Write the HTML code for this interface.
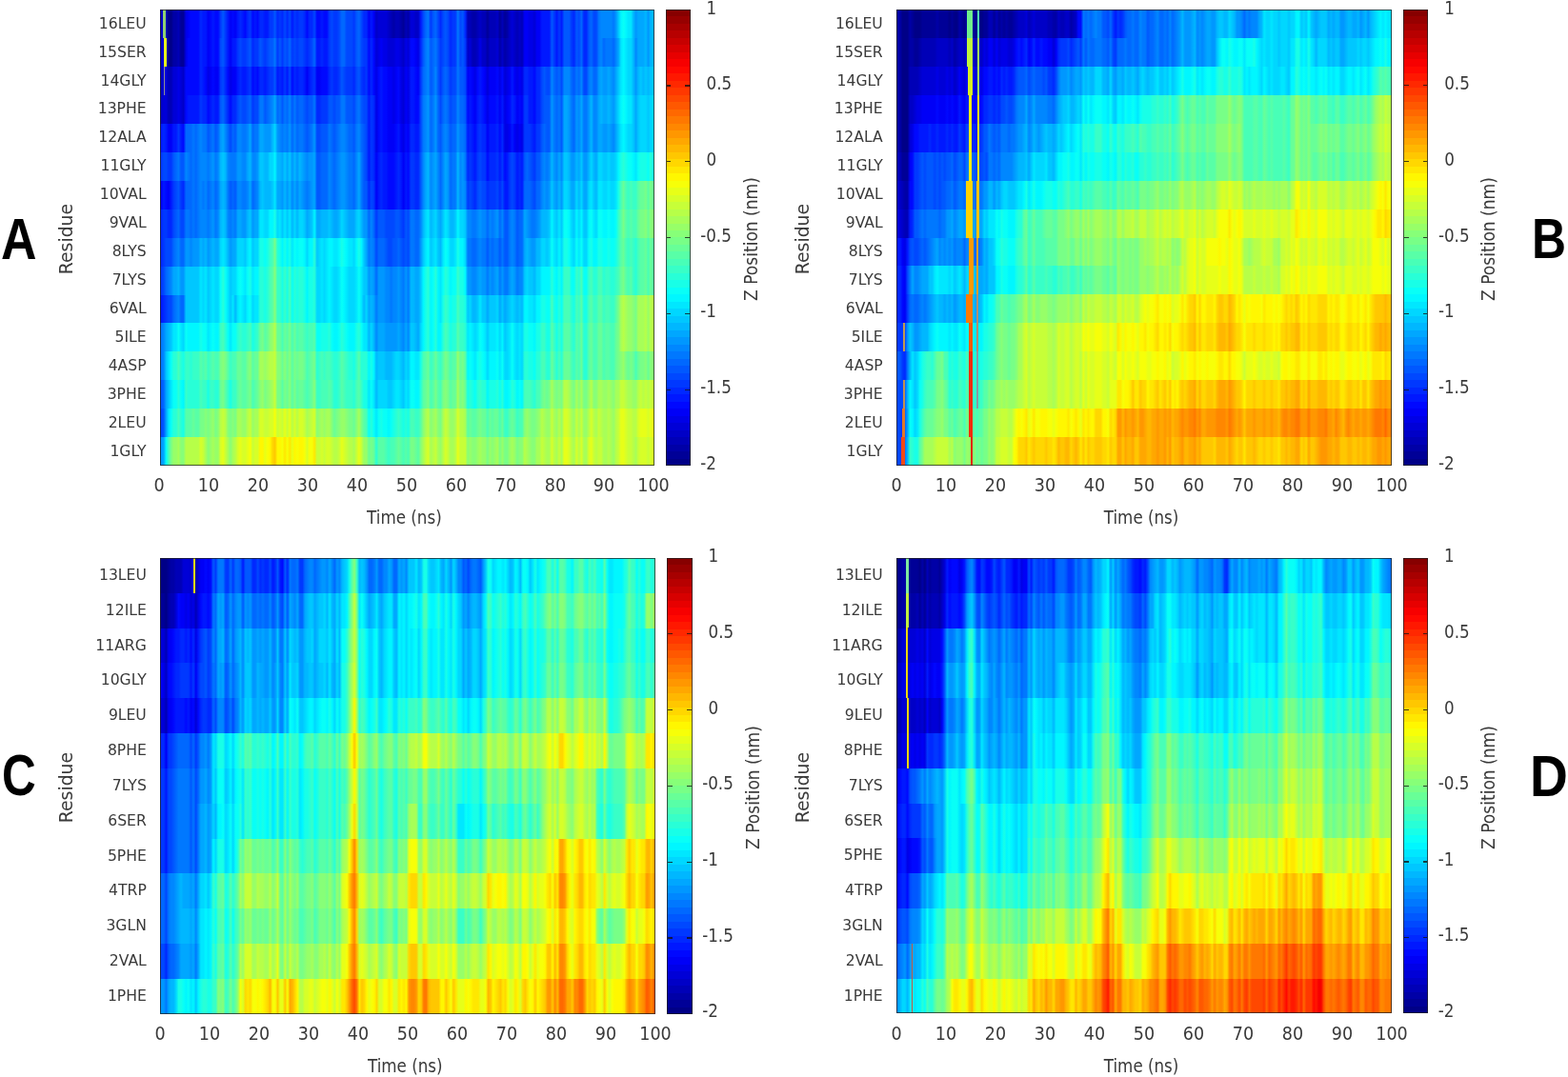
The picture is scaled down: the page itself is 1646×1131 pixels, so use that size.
<!DOCTYPE html>
<html lang="en"><head><meta charset="utf-8"><title>Z position heatmaps</title>
<style>
html,body{margin:0;padding:0;background:#fff}
body{width:1646px;height:1131px;position:relative;overflow:hidden;font-family:"DejaVu Sans Condensed","DejaVu Sans","Liberation Sans",sans-serif;color:#3a3a3a}
.pl{position:absolute;overflow:hidden;background:#08f}
.r{position:absolute;left:0;width:100%}
.ln{position:absolute}
.bd{position:absolute;left:0;top:0;right:0;bottom:0;border:1px solid rgba(30,30,30,.75);box-sizing:border-box}
.yl{position:absolute;width:100px;height:20px;line-height:20px;text-align:right;font-family:"DejaVu Sans","Liberation Sans",sans-serif;font-size:15.6px;white-space:nowrap}
.xl{position:absolute;width:60px;height:24px;line-height:24px;text-align:center;font-size:18.6px;transform:scaleX(1.05)}
.xt{position:absolute;width:120px;height:24px;line-height:24px;text-align:center;font-size:18.6px;white-space:nowrap}
.cl{position:absolute;height:24px;line-height:24px;font-size:18.6px;white-space:nowrap}
.cl b{position:absolute;right:calc(100% + 1.4px);font-weight:normal;transform:scaleX(.6);transform-origin:100% 50%}
.rt{position:absolute;width:0;height:0}
.rt span{position:absolute;left:-100px;top:-12px;width:200px;height:24px;line-height:24px;text-align:center;font-size:19px;white-space:nowrap;transform:rotate(-90deg)}
.rs span{font-size:19.6px;transform:rotate(-90deg) scaleX(1.07)}
.cb{position:absolute;overflow:hidden}
.cg{position:absolute;left:0;top:0;right:0;bottom:0;background:linear-gradient(180deg,#870000 0.000% 1.562%,#970000 1.562% 3.125%,#a70000 3.125% 4.688%,#b70000 4.688% 6.250%,#c70000 6.250% 7.812%,#d70000 7.812% 9.375%,#e70000 9.375% 10.938%,#f70000 10.938% 12.500%,#ff0800 12.500% 14.062%,#ff1800 14.062% 15.625%,#ff2800 15.625% 17.188%,#ff3800 17.188% 18.750%,#ff4800 18.750% 20.312%,#ff5800 20.312% 21.875%,#ff6800 21.875% 23.438%,#ff7800 23.438% 25.000%,#ff8700 25.000% 26.562%,#ff9700 26.562% 28.125%,#ffa700 28.125% 29.688%,#ffb700 29.688% 31.250%,#ffc700 31.250% 32.812%,#ffd700 32.812% 34.375%,#ffe700 34.375% 35.938%,#fff700 35.938% 37.500%,#f7ff08 37.500% 39.062%,#e7ff18 39.062% 40.625%,#d7ff28 40.625% 42.188%,#c7ff38 42.188% 43.750%,#b7ff48 43.750% 45.312%,#a7ff58 45.312% 46.875%,#97ff68 46.875% 48.438%,#87ff78 48.438% 50.000%,#78ff87 50.000% 51.562%,#68ff97 51.562% 53.125%,#58ffa7 53.125% 54.688%,#48ffb7 54.688% 56.250%,#38ffc7 56.250% 57.812%,#28ffd7 57.812% 59.375%,#18ffe7 59.375% 60.938%,#08fff7 60.938% 62.500%,#00f7ff 62.500% 64.062%,#00e7ff 64.062% 65.625%,#00d7ff 65.625% 67.188%,#00c7ff 67.188% 68.750%,#00b7ff 68.750% 70.312%,#00a7ff 70.312% 71.875%,#0097ff 71.875% 73.438%,#0087ff 73.438% 75.000%,#0078ff 75.000% 76.562%,#0068ff 76.562% 78.125%,#0058ff 78.125% 79.688%,#0048ff 79.688% 81.250%,#0038ff 81.250% 82.812%,#0028ff 82.812% 84.375%,#0018ff 84.375% 85.938%,#0008ff 85.938% 87.500%,#0000f7 87.500% 89.062%,#0000e7 89.062% 90.625%,#0000d7 90.625% 92.188%,#0000c7 92.188% 93.750%,#0000b7 93.750% 95.312%,#0000a7 95.312% 96.875%,#000097 96.875% 98.438%,#000087 98.438% 100.000%)}
.cb i{position:absolute;width:4.5px;height:1.2px;background:rgba(20,20,20,.8)}
.lt{position:absolute;font-family:"Liberation Sans","DejaVu Sans",sans-serif;font-weight:bold;color:#000;line-height:1;white-space:nowrap;transform-origin:0 0}
</style></head><body>
<div class="pl" style="left:167.7px;top:10.0px;width:518.9px;height:479.2px">
<div class="r" style="top:0.00px;height:30.25px;background:linear-gradient(90deg,#0000c7 0.25%,#0000d7 0.75%,#0000b7 1.25%,#000087 1.75%,#000087 2.25%,#0000a7 2.75%,#0000a7 3.25%,#0000b7 3.75%,#000097 4.25%,#000097 4.75%,#0000e7 5.25%,#0000f7 5.75%,#0008ff 6.25%,#0008ff 7.75%,#0028ff 8.25%,#0018ff 8.75%,#0018ff 9.25%,#0000f7 9.75%,#0008ff 10.25%,#0018ff 10.75%,#0008ff 11.25%,#0008ff 11.75%,#0038ff 12.25%,#0058ff 12.75%,#0038ff 13.25%,#0018ff 13.75%,#0000f7 14.25%,#0008ff 14.75%,#0000f7 15.25%,#0018ff 15.75%,#0028ff 16.25%,#0018ff 16.75%,#0008ff 17.25%,#0028ff 17.75%,#0038ff 18.25%,#0008ff 18.75%,#0018ff 19.25%,#0008ff 19.75%,#0028ff 20.25%,#0028ff 20.75%,#0018ff 21.25%,#0018ff 21.75%,#0038ff 22.25%,#0038ff 22.75%,#0058ff 23.25%,#0028ff 23.75%,#0038ff 24.25%,#0028ff 24.75%,#0048ff 25.25%,#0028ff 25.75%,#0048ff 26.25%,#0018ff 26.75%,#0038ff 27.25%,#0028ff 27.75%,#0038ff 28.25%,#0038ff 28.75%,#0028ff 29.25%,#0008ff 29.75%,#0028ff 30.25%,#0028ff 30.75%,#0048ff 31.25%,#0008ff 31.75%,#0008ff 32.25%,#0018ff 32.75%,#0008ff 33.25%,#0008ff 33.75%,#0038ff 34.25%,#0048ff 34.75%,#0038ff 35.25%,#0038ff 35.75%,#0048ff 36.25%,#0068ff 36.75%,#0068ff 37.25%,#0048ff 37.75%,#0048ff 38.75%,#0038ff 39.25%,#0058ff 39.75%,#0068ff 40.25%,#0048ff 40.75%,#0028ff 41.25%,#0028ff 41.75%,#0000f7 42.25%,#0018ff 42.75%,#0000f7 43.25%,#0000c7 43.75%,#0000d7 44.25%,#0000d7 45.75%,#0000c7 46.25%,#0000b7 46.75%,#0000a7 47.25%,#0000b7 47.75%,#0000b7 48.25%,#0000a7 48.75%,#000097 49.25%,#0000b7 49.75%,#0000a7 50.25%,#0000d7 50.75%,#0000d7 51.25%,#0000c7 51.75%,#0000c7 52.25%,#0018ff 52.75%,#0048ff 53.25%,#0068ff 53.75%,#0078ff 54.25%,#0038ff 54.75%,#0058ff 55.25%,#0068ff 55.75%,#0048ff 56.25%,#0028ff 56.75%,#0048ff 57.25%,#0058ff 57.75%,#0048ff 58.25%,#0028ff 58.75%,#0038ff 59.25%,#0038ff 59.75%,#0078ff 60.25%,#0048ff 60.75%,#0058ff 61.25%,#0028ff 61.75%,#0000b7 62.25%,#0000b7 62.75%,#0000a7 63.25%,#0000a7 63.75%,#0000b7 64.25%,#0000c7 64.75%,#0000b7 65.25%,#0000b7 65.75%,#000097 66.25%,#0000b7 66.75%,#0000b7 67.75%,#0000c7 68.25%,#000097 68.75%,#0000b7 69.25%,#000097 69.75%,#0000a7 70.25%,#0000c7 70.75%,#0000d7 71.25%,#0000c7 71.75%,#0000b7 72.25%,#0000c7 72.75%,#0000b7 73.25%,#0000f7 73.75%,#0000f7 74.25%,#0000e7 74.75%,#0000e7 75.25%,#0000d7 75.75%,#0000f7 76.25%,#0000f7 76.75%,#0018ff 77.25%,#0018ff 78.75%,#0058ff 79.25%,#0038ff 79.75%,#0018ff 80.25%,#0038ff 80.75%,#0018ff 81.25%,#0058ff 81.75%,#0058ff 82.75%,#0038ff 83.25%,#0028ff 83.75%,#0058ff 84.25%,#0048ff 84.75%,#0068ff 85.25%,#0028ff 85.75%,#0028ff 86.25%,#0058ff 86.75%,#0068ff 87.25%,#0048ff 87.75%,#0048ff 88.25%,#0078ff 88.75%,#0087ff 89.25%,#0087ff 91.25%,#0078ff 91.75%,#0097ff 92.25%,#00c7ff 92.75%,#00f7ff 93.25%,#08fff7 93.75%,#00f7ff 94.25%,#00e7ff 94.75%,#00e7ff 95.25%,#00b7ff 95.75%,#0097ff 96.25%,#00a7ff 96.75%,#00a7ff 97.75%,#00b7ff 98.25%,#0097ff 98.75%,#00b7ff 99.25%,#00b7ff 99.75%)"></div>
<div class="r" style="top:29.95px;height:30.25px;background:linear-gradient(90deg,#0000c7 0.25%,#0000d7 0.75%,#0000b7 1.25%,#000087 1.75%,#000087 2.25%,#0000a7 2.75%,#0000a7 3.25%,#0000b7 3.75%,#000097 4.25%,#000097 4.75%,#0000e7 5.25%,#0008ff 5.75%,#0008ff 7.75%,#0028ff 8.25%,#0018ff 8.75%,#0018ff 9.25%,#0000f7 9.75%,#0008ff 10.25%,#0018ff 10.75%,#0008ff 11.25%,#0008ff 11.75%,#0048ff 12.25%,#0058ff 12.75%,#0038ff 13.25%,#0018ff 13.75%,#0000f7 14.25%,#0018ff 14.75%,#0018ff 15.25%,#0038ff 15.75%,#0048ff 16.25%,#0038ff 16.75%,#0038ff 17.25%,#0048ff 17.75%,#0058ff 18.25%,#0028ff 18.75%,#0038ff 19.25%,#0038ff 19.75%,#0058ff 20.25%,#0048ff 20.75%,#0038ff 21.25%,#0048ff 21.75%,#0058ff 22.25%,#0058ff 22.75%,#0078ff 23.25%,#0038ff 23.75%,#0058ff 24.25%,#0038ff 24.75%,#0058ff 25.25%,#0048ff 25.75%,#0068ff 26.25%,#0038ff 26.75%,#0048ff 27.25%,#0038ff 27.75%,#0048ff 28.25%,#0048ff 28.75%,#0038ff 29.25%,#0028ff 29.75%,#0038ff 30.25%,#0048ff 30.75%,#0068ff 31.25%,#0018ff 31.75%,#0018ff 32.25%,#0028ff 32.75%,#0018ff 33.25%,#0018ff 33.75%,#0038ff 34.25%,#0048ff 34.75%,#0038ff 35.25%,#0038ff 35.75%,#0048ff 36.25%,#0068ff 36.75%,#0068ff 37.25%,#0048ff 37.75%,#0048ff 38.75%,#0038ff 39.25%,#0058ff 39.75%,#0068ff 40.25%,#0048ff 40.75%,#0038ff 41.25%,#0038ff 41.75%,#0008ff 42.25%,#0028ff 42.75%,#0008ff 43.25%,#0000d7 43.75%,#0000e7 44.25%,#0000f7 44.75%,#0000e7 45.25%,#0000e7 45.75%,#0000d7 46.25%,#0000d7 47.25%,#0000e7 47.75%,#0000e7 48.25%,#0000d7 48.75%,#0000c7 49.25%,#0000e7 49.75%,#0000d7 50.25%,#0008ff 50.75%,#0008ff 51.25%,#0000f7 51.75%,#0000e7 52.25%,#0028ff 52.75%,#0058ff 53.25%,#0078ff 53.75%,#0087ff 54.25%,#0058ff 54.75%,#0068ff 55.25%,#0078ff 55.75%,#0058ff 56.25%,#0038ff 56.75%,#0048ff 57.25%,#0058ff 57.75%,#0048ff 58.25%,#0028ff 58.75%,#0038ff 59.25%,#0038ff 59.75%,#0078ff 60.25%,#0048ff 60.75%,#0058ff 61.25%,#0038ff 61.75%,#0000c7 62.25%,#0000d7 62.75%,#0000b7 63.25%,#0000b7 63.75%,#0000c7 64.25%,#0000e7 64.75%,#0000c7 65.25%,#0000c7 65.75%,#0000a7 66.25%,#0000c7 66.75%,#0000c7 67.75%,#0000d7 68.25%,#0000a7 68.75%,#0000c7 69.25%,#0000a7 69.75%,#0000b7 70.25%,#0000c7 70.75%,#0000d7 71.25%,#0000c7 71.75%,#0000b7 72.25%,#0000c7 72.75%,#0000b7 73.25%,#0000f7 73.75%,#0000f7 74.25%,#0000e7 74.75%,#0000e7 75.25%,#0000d7 75.75%,#0000f7 76.25%,#0000f7 76.75%,#0018ff 77.25%,#0018ff 78.75%,#0058ff 79.25%,#0038ff 79.75%,#0018ff 80.25%,#0038ff 80.75%,#0018ff 81.25%,#0058ff 81.75%,#0058ff 82.75%,#0038ff 83.25%,#0028ff 83.75%,#0058ff 84.25%,#0048ff 84.75%,#0068ff 85.25%,#0028ff 85.75%,#0028ff 86.25%,#0058ff 86.75%,#0068ff 87.25%,#0048ff 87.75%,#0048ff 88.25%,#0078ff 88.75%,#0087ff 89.25%,#0068ff 89.75%,#0078ff 90.25%,#0078ff 91.25%,#0068ff 91.75%,#0087ff 92.25%,#00a7ff 92.75%,#00e7ff 93.25%,#00f7ff 93.75%,#00e7ff 94.25%,#00d7ff 94.75%,#00d7ff 95.25%,#00b7ff 95.75%,#0087ff 96.25%,#00a7ff 96.75%,#00a7ff 97.75%,#00b7ff 98.25%,#0097ff 98.75%,#00b7ff 99.25%,#00b7ff 99.75%)"></div>
<div class="r" style="top:59.90px;height:30.25px;background:linear-gradient(90deg,#0000c7 0.25%,#0000d7 0.75%,#0000d7 1.25%,#0000b7 1.75%,#0000b7 2.25%,#0000d7 2.75%,#0000d7 3.25%,#0000e7 3.75%,#0000d7 4.25%,#0000c7 4.75%,#0008ff 5.25%,#0008ff 7.75%,#0028ff 8.25%,#0018ff 8.75%,#0008ff 9.25%,#0000e7 9.75%,#0000f7 10.25%,#0008ff 10.75%,#0000f7 11.25%,#0000f7 11.75%,#0038ff 12.25%,#0048ff 12.75%,#0028ff 13.25%,#0008ff 13.75%,#0000e7 14.25%,#0000f7 14.75%,#0000f7 15.25%,#0018ff 15.75%,#0028ff 16.25%,#0018ff 16.75%,#0018ff 17.25%,#0028ff 17.75%,#0038ff 18.25%,#0008ff 18.75%,#0018ff 19.25%,#0008ff 19.75%,#0028ff 20.25%,#0028ff 20.75%,#0018ff 21.25%,#0028ff 21.75%,#0038ff 22.25%,#0038ff 22.75%,#0058ff 23.25%,#0018ff 23.75%,#0028ff 24.25%,#0018ff 24.75%,#0038ff 25.25%,#0018ff 25.75%,#0048ff 26.25%,#0008ff 26.75%,#0028ff 27.25%,#0018ff 27.75%,#0028ff 28.25%,#0028ff 28.75%,#0018ff 29.25%,#0000f7 29.75%,#0018ff 30.25%,#0028ff 30.75%,#0038ff 31.25%,#0000f7 31.75%,#0000f7 32.25%,#0008ff 32.75%,#0008ff 33.75%,#0028ff 34.25%,#0038ff 34.75%,#0028ff 35.25%,#0028ff 35.75%,#0038ff 36.25%,#0058ff 36.75%,#0048ff 37.25%,#0038ff 37.75%,#0038ff 38.75%,#0028ff 39.25%,#0048ff 39.75%,#0058ff 40.25%,#0038ff 40.75%,#0028ff 41.25%,#0038ff 41.75%,#0008ff 42.25%,#0028ff 42.75%,#0008ff 43.25%,#0000e7 43.75%,#0008ff 44.25%,#0018ff 44.75%,#0008ff 45.25%,#0008ff 45.75%,#0000f7 46.25%,#0000f7 46.75%,#0000e7 47.25%,#0000f7 47.75%,#0008ff 48.25%,#0000e7 48.75%,#0000d7 49.25%,#0000f7 49.75%,#0000e7 50.25%,#0018ff 50.75%,#0018ff 51.25%,#0008ff 51.75%,#0000f7 52.25%,#0038ff 52.75%,#0068ff 53.25%,#0078ff 53.75%,#0087ff 54.25%,#0058ff 54.75%,#0068ff 55.25%,#0087ff 55.75%,#0058ff 56.25%,#0038ff 56.75%,#0058ff 57.25%,#0068ff 57.75%,#0058ff 58.25%,#0038ff 58.75%,#0048ff 59.25%,#0048ff 59.75%,#0078ff 60.25%,#0058ff 60.75%,#0058ff 61.25%,#0048ff 61.75%,#0000f7 62.25%,#0008ff 62.75%,#0000f7 63.25%,#0000e7 63.75%,#0008ff 64.25%,#0018ff 64.75%,#0008ff 65.25%,#0000f7 65.75%,#0000d7 66.25%,#0000f7 66.75%,#0000f7 67.75%,#0008ff 68.25%,#0000e7 68.75%,#0008ff 69.25%,#0000d7 69.75%,#0000e7 70.25%,#0000f7 70.75%,#0018ff 71.25%,#0000f7 71.75%,#0000e7 72.25%,#0000f7 72.75%,#0000e7 73.25%,#0028ff 73.75%,#0028ff 74.25%,#0018ff 74.75%,#0018ff 75.25%,#0008ff 75.75%,#0028ff 76.25%,#0028ff 76.75%,#0048ff 77.25%,#0058ff 77.75%,#0048ff 78.25%,#0048ff 78.75%,#0087ff 79.25%,#0068ff 79.75%,#0058ff 80.25%,#0068ff 80.75%,#0048ff 81.25%,#0087ff 81.75%,#0087ff 82.75%,#0068ff 83.25%,#0058ff 83.75%,#0078ff 84.25%,#0068ff 84.75%,#0087ff 85.25%,#0048ff 85.75%,#0048ff 86.25%,#0078ff 86.75%,#0087ff 87.25%,#0068ff 87.75%,#0068ff 88.25%,#0097ff 88.75%,#00a7ff 89.25%,#0097ff 89.75%,#0097ff 90.25%,#00a7ff 90.75%,#0097ff 91.25%,#0087ff 91.75%,#00a7ff 92.25%,#00c7ff 92.75%,#00e7ff 93.25%,#00f7ff 93.75%,#00e7ff 94.25%,#00d7ff 94.75%,#00d7ff 95.25%,#00b7ff 95.75%,#0097ff 96.25%,#00b7ff 96.75%,#00c7ff 97.25%,#00b7ff 97.75%,#00c7ff 98.25%,#00b7ff 98.75%,#00c7ff 99.25%,#00c7ff 99.75%)"></div>
<div class="r" style="top:89.85px;height:30.25px;background:linear-gradient(90deg,#0000c7 0.25%,#0000d7 0.75%,#0000d7 1.25%,#0000b7 1.75%,#0000b7 2.25%,#0000d7 2.75%,#0000d7 3.25%,#0000e7 3.75%,#0000d7 4.25%,#0000c7 4.75%,#0008ff 5.25%,#0018ff 5.75%,#0018ff 7.75%,#0038ff 8.25%,#0028ff 8.75%,#0028ff 9.25%,#0008ff 9.75%,#0018ff 10.25%,#0028ff 10.75%,#0018ff 11.25%,#0018ff 11.75%,#0058ff 12.25%,#0068ff 12.75%,#0048ff 13.25%,#0028ff 13.75%,#0008ff 14.25%,#0028ff 14.75%,#0028ff 15.25%,#0048ff 15.75%,#0058ff 16.25%,#0048ff 16.75%,#0048ff 17.25%,#0058ff 17.75%,#0068ff 18.25%,#0038ff 18.75%,#0048ff 19.25%,#0048ff 19.75%,#0078ff 20.25%,#0078ff 20.75%,#0058ff 21.25%,#0068ff 21.75%,#0078ff 22.25%,#0087ff 22.75%,#00a7ff 23.25%,#0068ff 23.75%,#0078ff 24.25%,#0058ff 24.75%,#0078ff 25.25%,#0068ff 25.75%,#0087ff 26.25%,#0058ff 26.75%,#0078ff 27.25%,#0058ff 27.75%,#0068ff 28.25%,#0068ff 28.75%,#0058ff 29.25%,#0048ff 29.75%,#0058ff 30.25%,#0058ff 30.75%,#0078ff 31.25%,#0028ff 31.75%,#0028ff 32.25%,#0038ff 32.75%,#0038ff 33.75%,#0058ff 34.25%,#0058ff 34.75%,#0048ff 35.25%,#0058ff 35.75%,#0058ff 36.25%,#0078ff 36.75%,#0078ff 37.25%,#0058ff 37.75%,#0058ff 38.75%,#0048ff 39.25%,#0068ff 39.75%,#0078ff 40.25%,#0058ff 40.75%,#0048ff 41.25%,#0048ff 41.75%,#0018ff 42.25%,#0038ff 42.75%,#0028ff 43.25%,#0000e7 43.75%,#0008ff 44.25%,#0018ff 44.75%,#0008ff 45.25%,#0008ff 45.75%,#0000f7 46.25%,#0000f7 46.75%,#0000e7 47.25%,#0000f7 47.75%,#0008ff 48.25%,#0000e7 48.75%,#0000d7 49.25%,#0000f7 49.75%,#0000e7 50.25%,#0018ff 50.75%,#0018ff 51.25%,#0008ff 51.75%,#0008ff 52.25%,#0048ff 52.75%,#0078ff 53.25%,#0087ff 53.75%,#0097ff 54.25%,#0068ff 54.75%,#0078ff 55.25%,#0097ff 55.75%,#0068ff 56.25%,#0048ff 56.75%,#0068ff 57.25%,#0078ff 57.75%,#0068ff 58.25%,#0048ff 58.75%,#0058ff 59.25%,#0058ff 59.75%,#0087ff 60.25%,#0068ff 60.75%,#0068ff 61.25%,#0058ff 61.75%,#0008ff 62.25%,#0018ff 62.75%,#0008ff 63.25%,#0000f7 63.75%,#0018ff 64.25%,#0028ff 64.75%,#0018ff 65.25%,#0008ff 65.75%,#0000e7 66.25%,#0008ff 66.75%,#0008ff 67.75%,#0018ff 68.25%,#0000f7 68.75%,#0018ff 69.25%,#0000e7 69.75%,#0000f7 70.25%,#0008ff 70.75%,#0028ff 71.25%,#0018ff 71.75%,#0000f7 72.25%,#0008ff 72.75%,#0000f7 73.25%,#0038ff 73.75%,#0038ff 74.25%,#0018ff 74.75%,#0018ff 75.25%,#0008ff 75.75%,#0028ff 76.25%,#0028ff 76.75%,#0048ff 77.25%,#0058ff 77.75%,#0058ff 78.75%,#0097ff 79.25%,#0078ff 79.75%,#0068ff 80.25%,#0078ff 80.75%,#0058ff 81.25%,#00a7ff 81.75%,#00a7ff 82.25%,#0097ff 82.75%,#0078ff 83.25%,#0068ff 83.75%,#0097ff 84.25%,#0087ff 84.75%,#00a7ff 85.25%,#0078ff 85.75%,#0078ff 86.25%,#0097ff 86.75%,#00b7ff 87.25%,#0087ff 87.75%,#0087ff 88.25%,#00a7ff 88.75%,#00b7ff 89.25%,#00a7ff 89.75%,#00a7ff 90.25%,#00b7ff 90.75%,#00a7ff 91.25%,#0097ff 91.75%,#00b7ff 92.25%,#00d7ff 92.75%,#00f7ff 93.25%,#08fff7 93.75%,#00f7ff 94.25%,#00e7ff 94.75%,#00e7ff 95.25%,#00c7ff 95.75%,#00a7ff 96.25%,#00c7ff 96.75%,#00d7ff 97.25%,#00d7ff 98.25%,#00c7ff 98.75%,#00d7ff 99.25%,#00d7ff 99.75%)"></div>
<div class="r" style="top:119.80px;height:30.25px;background:linear-gradient(90deg,#0018ff 0.25%,#0028ff 0.75%,#0018ff 1.25%,#0000f7 1.75%,#0000f7 2.25%,#0018ff 2.75%,#0018ff 3.25%,#0038ff 3.75%,#0018ff 4.25%,#0008ff 4.75%,#0068ff 5.25%,#0068ff 6.25%,#0078ff 6.75%,#0068ff 7.25%,#0078ff 7.75%,#0087ff 8.25%,#0078ff 8.75%,#0078ff 9.25%,#0058ff 9.75%,#0068ff 10.25%,#0078ff 10.75%,#0058ff 11.25%,#0068ff 11.75%,#0097ff 12.25%,#00a7ff 12.75%,#0087ff 13.25%,#0068ff 13.75%,#0048ff 14.25%,#0068ff 14.75%,#0058ff 15.25%,#0087ff 15.75%,#0087ff 16.25%,#0078ff 16.75%,#0078ff 17.25%,#0087ff 17.75%,#00a7ff 18.25%,#0068ff 18.75%,#0078ff 19.25%,#0078ff 19.75%,#00a7ff 20.25%,#00a7ff 20.75%,#0097ff 21.25%,#0097ff 22.25%,#00b7ff 22.75%,#00d7ff 23.25%,#0097ff 23.75%,#0087ff 24.25%,#0078ff 24.75%,#0087ff 25.25%,#0078ff 25.75%,#0097ff 26.25%,#0068ff 26.75%,#0087ff 27.25%,#0068ff 27.75%,#0078ff 28.25%,#0078ff 28.75%,#0068ff 29.25%,#0058ff 29.75%,#0068ff 30.25%,#0078ff 30.75%,#0097ff 31.25%,#0048ff 31.75%,#0048ff 32.25%,#0058ff 32.75%,#0058ff 33.75%,#0078ff 34.25%,#0068ff 34.75%,#0058ff 35.25%,#0068ff 35.75%,#0078ff 36.25%,#0087ff 36.75%,#0087ff 37.25%,#0078ff 37.75%,#0068ff 38.25%,#0068ff 38.75%,#0058ff 39.25%,#0078ff 39.75%,#0087ff 40.25%,#0068ff 40.75%,#0058ff 41.25%,#0048ff 41.75%,#0018ff 42.25%,#0038ff 42.75%,#0028ff 43.25%,#0000e7 43.75%,#0008ff 44.25%,#0018ff 44.75%,#0008ff 45.25%,#0008ff 45.75%,#0000f7 46.25%,#0000f7 47.25%,#0008ff 47.75%,#0018ff 48.25%,#0000f7 48.75%,#0000e7 49.25%,#0008ff 49.75%,#0000f7 50.25%,#0028ff 50.75%,#0028ff 51.25%,#0018ff 51.75%,#0018ff 52.25%,#0048ff 52.75%,#0078ff 53.25%,#0087ff 53.75%,#0097ff 54.25%,#0068ff 54.75%,#0078ff 55.25%,#0097ff 55.75%,#0068ff 56.25%,#0058ff 56.75%,#0078ff 57.25%,#0087ff 57.75%,#0078ff 58.25%,#0058ff 58.75%,#0068ff 59.25%,#0068ff 59.75%,#0097ff 60.25%,#0078ff 60.75%,#0078ff 61.25%,#0068ff 61.75%,#0018ff 62.25%,#0028ff 62.75%,#0018ff 63.25%,#0008ff 63.75%,#0028ff 64.25%,#0038ff 64.75%,#0028ff 65.25%,#0028ff 65.75%,#0000f7 66.25%,#0018ff 66.75%,#0018ff 67.75%,#0028ff 68.25%,#0008ff 68.75%,#0028ff 69.25%,#0000e7 69.75%,#0000e7 70.25%,#0000f7 70.75%,#0018ff 71.25%,#0000f7 71.75%,#0000e7 72.25%,#0000f7 72.75%,#0000e7 73.25%,#0038ff 73.75%,#0038ff 74.75%,#0028ff 75.25%,#0018ff 75.75%,#0038ff 76.25%,#0038ff 76.75%,#0058ff 77.25%,#0068ff 77.75%,#0058ff 78.25%,#0058ff 78.75%,#0097ff 79.25%,#0078ff 79.75%,#0068ff 80.25%,#0078ff 80.75%,#0058ff 81.25%,#00a7ff 81.75%,#00a7ff 82.25%,#0097ff 82.75%,#0078ff 83.25%,#0068ff 83.75%,#0097ff 84.25%,#0087ff 84.75%,#00a7ff 85.25%,#0078ff 85.75%,#0078ff 86.25%,#0097ff 86.75%,#00b7ff 87.25%,#0087ff 87.75%,#0087ff 88.25%,#00a7ff 88.75%,#00a7ff 89.25%,#0097ff 89.75%,#0097ff 90.25%,#00a7ff 90.75%,#0097ff 91.25%,#0087ff 91.75%,#00a7ff 92.25%,#00c7ff 92.75%,#00e7ff 93.25%,#00f7ff 93.75%,#00e7ff 94.25%,#00d7ff 94.75%,#00d7ff 95.25%,#00c7ff 95.75%,#00a7ff 96.25%,#00c7ff 96.75%,#00d7ff 97.25%,#00d7ff 98.25%,#00c7ff 98.75%,#00d7ff 99.25%,#00d7ff 99.75%)"></div>
<div class="r" style="top:149.75px;height:30.25px;background:linear-gradient(90deg,#0038ff 0.25%,#0048ff 0.75%,#0048ff 1.25%,#0038ff 1.75%,#0038ff 2.25%,#0058ff 2.75%,#0068ff 3.25%,#0078ff 3.75%,#0058ff 4.25%,#0058ff 4.75%,#0087ff 5.25%,#0078ff 5.75%,#0068ff 6.25%,#0078ff 6.75%,#0068ff 7.25%,#0078ff 7.75%,#0087ff 8.25%,#0087ff 9.25%,#0078ff 9.75%,#0087ff 10.25%,#0097ff 10.75%,#0078ff 11.25%,#0087ff 11.75%,#00b7ff 12.25%,#00c7ff 12.75%,#00b7ff 13.25%,#0087ff 13.75%,#0078ff 14.25%,#0078ff 15.25%,#0097ff 15.75%,#0097ff 16.25%,#0087ff 16.75%,#0087ff 17.25%,#00a7ff 17.75%,#00b7ff 18.25%,#0087ff 18.75%,#0087ff 19.25%,#0097ff 19.75%,#00c7ff 20.25%,#00c7ff 20.75%,#00b7ff 21.25%,#00b7ff 21.75%,#00d7ff 22.25%,#00d7ff 22.75%,#00f7ff 23.25%,#00b7ff 23.75%,#00b7ff 24.25%,#00a7ff 24.75%,#00c7ff 25.25%,#00a7ff 25.75%,#00c7ff 26.25%,#0097ff 26.75%,#00b7ff 27.25%,#0097ff 27.75%,#00b7ff 28.25%,#00a7ff 28.75%,#0097ff 29.25%,#0087ff 29.75%,#0097ff 30.25%,#0097ff 30.75%,#00a7ff 31.25%,#0058ff 31.75%,#0058ff 32.25%,#0068ff 32.75%,#0068ff 33.75%,#0087ff 34.25%,#0078ff 34.75%,#0068ff 35.25%,#0078ff 35.75%,#0087ff 36.25%,#0097ff 36.75%,#0097ff 37.25%,#0087ff 37.75%,#0078ff 38.25%,#0078ff 38.75%,#0068ff 39.25%,#0087ff 39.75%,#00a7ff 40.25%,#0078ff 40.75%,#0058ff 41.25%,#0048ff 41.75%,#0018ff 42.25%,#0038ff 42.75%,#0028ff 43.25%,#0000f7 43.75%,#0018ff 44.25%,#0028ff 44.75%,#0018ff 45.25%,#0018ff 45.75%,#0008ff 46.25%,#0008ff 47.25%,#0018ff 47.75%,#0028ff 48.25%,#0018ff 48.75%,#0000f7 49.25%,#0018ff 49.75%,#0008ff 50.25%,#0038ff 50.75%,#0038ff 51.25%,#0028ff 51.75%,#0028ff 52.25%,#0058ff 52.75%,#0087ff 53.25%,#00a7ff 53.75%,#00b7ff 54.25%,#0087ff 54.75%,#0097ff 55.25%,#00a7ff 55.75%,#0087ff 56.25%,#0068ff 56.75%,#0087ff 57.25%,#00a7ff 57.75%,#0097ff 58.25%,#0068ff 58.75%,#0078ff 59.25%,#0078ff 59.75%,#00b7ff 60.25%,#0087ff 60.75%,#0097ff 61.25%,#0078ff 61.75%,#0028ff 62.25%,#0038ff 62.75%,#0028ff 63.25%,#0018ff 63.75%,#0038ff 64.25%,#0048ff 64.75%,#0038ff 65.25%,#0038ff 65.75%,#0008ff 66.25%,#0028ff 66.75%,#0028ff 67.75%,#0038ff 68.25%,#0018ff 68.75%,#0038ff 69.25%,#0008ff 69.75%,#0018ff 70.25%,#0038ff 70.75%,#0048ff 71.25%,#0038ff 71.75%,#0018ff 72.25%,#0028ff 72.75%,#0018ff 73.25%,#0058ff 73.75%,#0068ff 74.25%,#0058ff 74.75%,#0048ff 75.25%,#0038ff 75.75%,#0058ff 76.25%,#0058ff 76.75%,#0078ff 77.25%,#0087ff 77.75%,#0078ff 78.25%,#0087ff 78.75%,#00b7ff 79.25%,#0097ff 79.75%,#0087ff 80.25%,#00a7ff 80.75%,#0087ff 81.25%,#00c7ff 81.75%,#00c7ff 82.25%,#00b7ff 82.75%,#0097ff 83.25%,#0097ff 83.75%,#00b7ff 84.25%,#00a7ff 84.75%,#00c7ff 85.25%,#0097ff 85.75%,#0097ff 86.25%,#00b7ff 86.75%,#00d7ff 87.25%,#00b7ff 87.75%,#00a7ff 88.25%,#00d7ff 88.75%,#00d7ff 89.25%,#00c7ff 89.75%,#00c7ff 90.25%,#00d7ff 90.75%,#00c7ff 91.25%,#00c7ff 91.75%,#00d7ff 92.25%,#00f7ff 92.75%,#18ffe7 93.25%,#28ffd7 93.75%,#18ffe7 94.25%,#08fff7 94.75%,#08fff7 95.25%,#00f7ff 95.75%,#00e7ff 96.25%,#08fff7 96.75%,#18ffe7 97.25%,#18ffe7 98.25%,#08fff7 98.75%,#28ffd7 99.25%,#18ffe7 99.75%)"></div>
<div class="r" style="top:179.70px;height:30.25px;background:linear-gradient(90deg,#0000f7 0.25%,#0018ff 0.75%,#0008ff 1.25%,#0000f7 1.75%,#0018ff 2.25%,#0038ff 2.75%,#0048ff 3.25%,#0058ff 3.75%,#0038ff 4.25%,#0028ff 4.75%,#0068ff 5.25%,#0068ff 6.25%,#0078ff 6.75%,#0068ff 7.25%,#0078ff 7.75%,#0087ff 8.25%,#0078ff 8.75%,#0087ff 9.25%,#0068ff 9.75%,#0078ff 10.25%,#0087ff 10.75%,#0068ff 11.25%,#0078ff 11.75%,#00a7ff 12.25%,#00b7ff 12.75%,#00a7ff 13.25%,#0078ff 13.75%,#0058ff 14.25%,#0068ff 14.75%,#0058ff 15.25%,#0087ff 15.75%,#0087ff 16.25%,#0078ff 16.75%,#0078ff 17.25%,#0087ff 17.75%,#00a7ff 18.25%,#0068ff 18.75%,#0078ff 19.25%,#0087ff 19.75%,#00b7ff 20.25%,#00c7ff 20.75%,#00b7ff 21.25%,#00b7ff 22.25%,#00c7ff 22.75%,#00e7ff 23.25%,#00a7ff 23.75%,#00a7ff 24.25%,#0097ff 24.75%,#00b7ff 25.25%,#0097ff 25.75%,#00b7ff 26.25%,#0087ff 26.75%,#00a7ff 27.25%,#0087ff 27.75%,#00a7ff 28.25%,#0097ff 28.75%,#0087ff 29.25%,#0078ff 29.75%,#0087ff 30.25%,#0097ff 30.75%,#00a7ff 31.25%,#0058ff 31.75%,#0058ff 32.25%,#0068ff 32.75%,#0068ff 33.75%,#0087ff 34.25%,#0078ff 34.75%,#0068ff 35.25%,#0078ff 35.75%,#0087ff 36.25%,#0097ff 36.75%,#0097ff 37.25%,#0087ff 37.75%,#0078ff 38.25%,#0078ff 38.75%,#0068ff 39.25%,#0087ff 39.75%,#00a7ff 40.25%,#0078ff 40.75%,#0058ff 41.25%,#0058ff 41.75%,#0028ff 42.25%,#0048ff 42.75%,#0038ff 43.25%,#0000f7 43.75%,#0018ff 44.25%,#0028ff 44.75%,#0018ff 45.25%,#0018ff 45.75%,#0008ff 46.25%,#0008ff 47.25%,#0018ff 47.75%,#0028ff 48.25%,#0018ff 48.75%,#0000f7 49.25%,#0018ff 49.75%,#0008ff 50.25%,#0038ff 50.75%,#0038ff 51.25%,#0028ff 51.75%,#0028ff 52.25%,#0058ff 52.75%,#0087ff 53.25%,#00a7ff 53.75%,#00b7ff 54.25%,#0087ff 54.75%,#0097ff 55.25%,#00a7ff 55.75%,#0087ff 56.25%,#0068ff 56.75%,#0087ff 57.25%,#00a7ff 57.75%,#0097ff 58.25%,#0068ff 58.75%,#0078ff 59.25%,#0078ff 59.75%,#00b7ff 60.25%,#0087ff 60.75%,#0097ff 61.25%,#0087ff 61.75%,#0038ff 62.25%,#0048ff 62.75%,#0038ff 63.25%,#0028ff 63.75%,#0048ff 64.25%,#0058ff 64.75%,#0048ff 65.25%,#0048ff 65.75%,#0028ff 66.25%,#0038ff 66.75%,#0038ff 67.75%,#0048ff 68.25%,#0028ff 68.75%,#0048ff 69.25%,#0018ff 69.75%,#0018ff 70.25%,#0038ff 70.75%,#0048ff 71.25%,#0038ff 71.75%,#0018ff 72.25%,#0028ff 72.75%,#0018ff 73.25%,#0068ff 73.75%,#0068ff 74.75%,#0058ff 75.25%,#0048ff 75.75%,#0068ff 76.25%,#0068ff 76.75%,#0087ff 77.25%,#0097ff 77.75%,#0087ff 78.25%,#0097ff 78.75%,#00c7ff 79.25%,#00a7ff 79.75%,#0097ff 80.25%,#00b7ff 80.75%,#0097ff 81.25%,#00d7ff 81.75%,#00d7ff 82.25%,#00c7ff 82.75%,#00a7ff 83.25%,#00a7ff 83.75%,#00d7ff 84.25%,#00b7ff 84.75%,#00d7ff 85.25%,#00a7ff 85.75%,#00a7ff 86.25%,#00d7ff 86.75%,#00e7ff 87.25%,#00c7ff 87.75%,#00b7ff 88.25%,#00e7ff 88.75%,#00e7ff 89.25%,#00d7ff 89.75%,#00d7ff 90.25%,#00e7ff 90.75%,#00d7ff 91.25%,#00d7ff 91.75%,#00e7ff 92.25%,#18ffe7 92.75%,#48ffb7 93.25%,#68ff97 93.75%,#48ffb7 94.25%,#38ffc7 94.75%,#48ffb7 95.25%,#38ffc7 95.75%,#38ffc7 96.25%,#58ffa7 96.75%,#68ff97 97.25%,#68ff97 97.75%,#78ff87 98.25%,#58ffa7 98.75%,#78ff87 99.25%,#68ff97 99.75%)"></div>
<div class="r" style="top:209.65px;height:30.25px;background:linear-gradient(90deg,#0028ff 0.25%,#0038ff 0.75%,#0038ff 1.25%,#0028ff 1.75%,#0028ff 2.25%,#0048ff 2.75%,#0058ff 3.25%,#0068ff 3.75%,#0048ff 4.25%,#0048ff 4.75%,#0078ff 5.25%,#0078ff 5.75%,#0068ff 6.25%,#0078ff 6.75%,#0068ff 7.25%,#0078ff 7.75%,#0087ff 8.25%,#0087ff 9.25%,#0078ff 9.75%,#0087ff 10.25%,#0097ff 10.75%,#0078ff 11.25%,#0087ff 11.75%,#00b7ff 12.25%,#00c7ff 12.75%,#00b7ff 13.25%,#0087ff 13.75%,#0078ff 14.25%,#0087ff 14.75%,#0078ff 15.25%,#00a7ff 15.75%,#00a7ff 16.25%,#0097ff 16.75%,#0097ff 17.25%,#00b7ff 17.75%,#00c7ff 18.25%,#0097ff 18.75%,#00a7ff 19.25%,#00a7ff 19.75%,#00e7ff 20.25%,#00e7ff 20.75%,#00d7ff 21.25%,#00d7ff 21.75%,#00f7ff 22.25%,#00f7ff 22.75%,#18ffe7 23.25%,#00d7ff 23.75%,#00e7ff 24.25%,#00c7ff 24.75%,#00e7ff 25.25%,#00c7ff 25.75%,#00e7ff 26.25%,#00b7ff 26.75%,#00d7ff 27.25%,#00b7ff 27.75%,#00d7ff 28.25%,#00d7ff 28.75%,#00c7ff 29.25%,#00a7ff 29.75%,#00b7ff 30.25%,#00c7ff 30.75%,#00f7ff 31.25%,#00a7ff 31.75%,#00a7ff 32.25%,#00b7ff 32.75%,#00b7ff 33.75%,#00c7ff 34.25%,#00b7ff 34.75%,#00a7ff 35.25%,#00a7ff 35.75%,#00b7ff 36.25%,#00d7ff 36.75%,#00c7ff 37.25%,#00b7ff 37.75%,#00a7ff 38.25%,#00a7ff 39.25%,#00c7ff 39.75%,#00d7ff 40.25%,#00b7ff 40.75%,#0097ff 41.25%,#0097ff 41.75%,#0068ff 42.25%,#0087ff 42.75%,#0068ff 43.25%,#0038ff 43.75%,#0058ff 44.25%,#0058ff 45.25%,#0048ff 45.75%,#0048ff 47.25%,#0058ff 47.75%,#0058ff 48.25%,#0048ff 48.75%,#0038ff 49.25%,#0058ff 49.75%,#0048ff 50.25%,#0078ff 50.75%,#0078ff 51.25%,#0068ff 51.75%,#0068ff 52.25%,#0087ff 52.75%,#00b7ff 53.25%,#00d7ff 53.75%,#00e7ff 54.25%,#00b7ff 54.75%,#00c7ff 55.25%,#00d7ff 55.75%,#00b7ff 56.25%,#00a7ff 56.75%,#00c7ff 57.25%,#00e7ff 57.75%,#00d7ff 58.25%,#00b7ff 58.75%,#00b7ff 59.25%,#00c7ff 59.75%,#00f7ff 60.25%,#00d7ff 60.75%,#00d7ff 61.25%,#00c7ff 61.75%,#0087ff 62.25%,#0087ff 62.75%,#0078ff 63.25%,#0078ff 63.75%,#0087ff 64.25%,#0097ff 64.75%,#0087ff 65.25%,#0087ff 65.75%,#0068ff 66.25%,#0087ff 66.75%,#0078ff 67.25%,#0087ff 67.75%,#0097ff 68.25%,#0068ff 68.75%,#0087ff 69.25%,#0058ff 69.75%,#0058ff 70.25%,#0078ff 70.75%,#0087ff 71.25%,#0078ff 71.75%,#0058ff 72.25%,#0068ff 72.75%,#0068ff 73.25%,#00a7ff 73.75%,#0097ff 74.25%,#0087ff 74.75%,#0078ff 75.25%,#0078ff 75.75%,#0087ff 76.25%,#0097ff 76.75%,#00b7ff 77.25%,#00b7ff 78.25%,#00c7ff 78.75%,#00f7ff 79.25%,#00d7ff 79.75%,#00c7ff 80.25%,#00e7ff 80.75%,#00c7ff 81.25%,#08fff7 81.75%,#08fff7 82.25%,#00f7ff 82.75%,#00d7ff 83.25%,#00c7ff 83.75%,#00f7ff 84.25%,#00d7ff 84.75%,#00f7ff 85.25%,#00c7ff 85.75%,#00c7ff 86.25%,#00f7ff 86.75%,#08fff7 87.25%,#00e7ff 87.75%,#00d7ff 88.25%,#08fff7 88.75%,#08fff7 89.25%,#00f7ff 89.75%,#00f7ff 90.25%,#08fff7 90.75%,#00f7ff 91.25%,#00f7ff 91.75%,#08fff7 92.25%,#38ffc7 92.75%,#58ffa7 93.25%,#78ff87 93.75%,#58ffa7 94.25%,#48ffb7 94.75%,#58ffa7 95.25%,#48ffb7 95.75%,#48ffb7 96.25%,#68ff97 96.75%,#78ff87 97.25%,#78ff87 97.75%,#87ff78 98.25%,#68ff97 98.75%,#87ff78 99.25%,#87ff78 99.75%)"></div>
<div class="r" style="top:239.60px;height:30.25px;background:linear-gradient(90deg,#0028ff 0.25%,#0038ff 0.75%,#0048ff 1.25%,#0048ff 2.25%,#0068ff 2.75%,#0078ff 3.25%,#0087ff 3.75%,#0068ff 4.25%,#0068ff 4.75%,#0097ff 5.25%,#0097ff 5.75%,#0087ff 6.25%,#0097ff 6.75%,#0097ff 7.75%,#00b7ff 8.25%,#00a7ff 8.75%,#00b7ff 9.25%,#0097ff 9.75%,#00a7ff 10.25%,#00b7ff 10.75%,#00a7ff 11.25%,#00a7ff 11.75%,#00d7ff 12.25%,#00e7ff 12.75%,#00d7ff 13.25%,#00b7ff 13.75%,#0097ff 14.25%,#00a7ff 14.75%,#00a7ff 15.25%,#00d7ff 15.75%,#00d7ff 16.75%,#00c7ff 17.25%,#00e7ff 17.75%,#00f7ff 18.25%,#00c7ff 18.75%,#00d7ff 19.25%,#00d7ff 19.75%,#18ffe7 20.25%,#18ffe7 20.75%,#08fff7 21.25%,#18ffe7 21.75%,#38ffc7 22.25%,#48ffb7 22.75%,#78ff87 23.25%,#28ffd7 23.75%,#18ffe7 24.25%,#00f7ff 24.75%,#18ffe7 25.25%,#00f7ff 25.75%,#18ffe7 26.25%,#00e7ff 26.75%,#08fff7 27.25%,#00f7ff 27.75%,#08fff7 28.25%,#08fff7 28.75%,#00f7ff 29.25%,#00d7ff 29.75%,#00f7ff 30.25%,#00f7ff 30.75%,#28ffd7 31.25%,#00c7ff 31.75%,#00d7ff 32.25%,#00e7ff 32.75%,#00d7ff 33.25%,#00e7ff 33.75%,#00f7ff 34.25%,#00f7ff 34.75%,#00e7ff 35.25%,#00e7ff 35.75%,#00f7ff 36.25%,#18ffe7 36.75%,#08fff7 37.25%,#00f7ff 37.75%,#00e7ff 38.25%,#00e7ff 38.75%,#00d7ff 39.25%,#00f7ff 39.75%,#18ffe7 40.25%,#00f7ff 40.75%,#00c7ff 41.25%,#00a7ff 41.75%,#0078ff 42.25%,#0087ff 42.75%,#0078ff 43.25%,#0048ff 43.75%,#0068ff 44.25%,#0068ff 45.25%,#0058ff 45.75%,#0048ff 46.25%,#0048ff 46.75%,#0058ff 47.25%,#0058ff 47.75%,#0068ff 48.25%,#0058ff 48.75%,#0048ff 49.25%,#0058ff 49.75%,#0048ff 50.25%,#0078ff 50.75%,#0078ff 51.25%,#0068ff 51.75%,#0068ff 52.25%,#0097ff 52.75%,#00c7ff 53.25%,#00e7ff 53.75%,#00f7ff 54.25%,#00c7ff 54.75%,#00d7ff 55.25%,#00e7ff 55.75%,#00c7ff 56.25%,#00b7ff 56.75%,#00e7ff 57.25%,#08fff7 57.75%,#00f7ff 58.25%,#00d7ff 58.75%,#00d7ff 59.25%,#00e7ff 59.75%,#18ffe7 60.25%,#00f7ff 60.75%,#00f7ff 61.25%,#00d7ff 61.75%,#0078ff 62.25%,#0078ff 62.75%,#0068ff 63.25%,#0068ff 63.75%,#0078ff 64.25%,#0087ff 64.75%,#0078ff 65.25%,#0078ff 65.75%,#0058ff 66.25%,#0078ff 66.75%,#0068ff 67.25%,#0078ff 67.75%,#0078ff 68.25%,#0058ff 68.75%,#0078ff 69.25%,#0058ff 69.75%,#0058ff 70.25%,#0078ff 70.75%,#0087ff 71.25%,#0078ff 71.75%,#0058ff 72.25%,#0068ff 72.75%,#0068ff 73.25%,#00a7ff 73.75%,#00b7ff 74.25%,#00a7ff 74.75%,#0097ff 75.25%,#0097ff 75.75%,#00b7ff 76.25%,#00b7ff 76.75%,#00d7ff 77.25%,#00d7ff 77.75%,#00c7ff 78.25%,#00d7ff 78.75%,#08fff7 79.25%,#00e7ff 79.75%,#00d7ff 80.25%,#00f7ff 80.75%,#00d7ff 81.25%,#18ffe7 81.75%,#18ffe7 82.25%,#08fff7 82.75%,#00e7ff 83.25%,#00d7ff 83.75%,#08fff7 84.25%,#00e7ff 84.75%,#08fff7 85.25%,#00d7ff 85.75%,#00d7ff 86.25%,#08fff7 86.75%,#18ffe7 87.25%,#00f7ff 87.75%,#00f7ff 88.25%,#18ffe7 88.75%,#18ffe7 89.25%,#08fff7 89.75%,#08fff7 90.25%,#18ffe7 90.75%,#08fff7 91.25%,#08fff7 91.75%,#18ffe7 92.25%,#38ffc7 92.75%,#58ffa7 93.25%,#68ff97 93.75%,#48ffb7 94.25%,#38ffc7 94.75%,#48ffb7 95.25%,#38ffc7 95.75%,#28ffd7 96.25%,#48ffb7 96.75%,#58ffa7 97.25%,#58ffa7 97.75%,#68ff97 98.25%,#48ffb7 98.75%,#68ff97 99.25%,#58ffa7 99.75%)"></div>
<div class="r" style="top:269.55px;height:30.25px;background:linear-gradient(90deg,#0038ff 0.25%,#0048ff 0.75%,#0068ff 1.25%,#0078ff 1.75%,#0087ff 2.25%,#00a7ff 2.75%,#00a7ff 3.25%,#00b7ff 3.75%,#0097ff 4.25%,#0097ff 4.75%,#00c7ff 5.25%,#00c7ff 7.75%,#00e7ff 8.25%,#00d7ff 8.75%,#00e7ff 9.25%,#00c7ff 9.75%,#00d7ff 10.25%,#00e7ff 10.75%,#00d7ff 11.25%,#00d7ff 11.75%,#08fff7 12.25%,#28ffd7 12.75%,#08fff7 13.25%,#00e7ff 13.75%,#00c7ff 14.25%,#00d7ff 14.75%,#00d7ff 15.25%,#00f7ff 15.75%,#08fff7 16.25%,#00f7ff 16.75%,#00e7ff 17.25%,#08fff7 17.75%,#18ffe7 18.25%,#00e7ff 18.75%,#00f7ff 19.25%,#00f7ff 19.75%,#28ffd7 20.25%,#28ffd7 20.75%,#18ffe7 21.25%,#28ffd7 21.75%,#48ffb7 22.25%,#58ffa7 22.75%,#87ff78 23.25%,#38ffc7 23.75%,#38ffc7 24.25%,#18ffe7 24.75%,#38ffc7 25.25%,#18ffe7 25.75%,#48ffb7 26.25%,#08fff7 26.75%,#28ffd7 27.25%,#18ffe7 27.75%,#28ffd7 28.25%,#28ffd7 28.75%,#18ffe7 29.25%,#00f7ff 29.75%,#18ffe7 30.25%,#18ffe7 30.75%,#28ffd7 31.25%,#00d7ff 31.75%,#00d7ff 32.25%,#00e7ff 32.75%,#00d7ff 33.25%,#00e7ff 33.75%,#00f7ff 34.25%,#00e7ff 34.75%,#00d7ff 35.25%,#00d7ff 35.75%,#00e7ff 36.25%,#08fff7 36.75%,#00f7ff 37.25%,#00e7ff 37.75%,#00d7ff 38.25%,#00d7ff 39.25%,#00e7ff 39.75%,#08fff7 40.25%,#00e7ff 40.75%,#00c7ff 41.25%,#00c7ff 41.75%,#0097ff 42.25%,#00a7ff 42.75%,#0097ff 43.25%,#0068ff 43.75%,#0097ff 44.25%,#0097ff 45.25%,#0087ff 45.75%,#0087ff 46.25%,#0078ff 46.75%,#0087ff 47.25%,#0087ff 47.75%,#0097ff 48.25%,#0087ff 48.75%,#0078ff 49.25%,#0097ff 49.75%,#0078ff 50.25%,#00b7ff 50.75%,#00b7ff 51.25%,#00a7ff 51.75%,#00a7ff 52.25%,#00c7ff 52.75%,#00f7ff 53.25%,#18ffe7 53.75%,#28ffd7 54.25%,#00f7ff 54.75%,#08fff7 55.25%,#28ffd7 55.75%,#00f7ff 56.25%,#00e7ff 56.75%,#08fff7 57.25%,#28ffd7 57.75%,#18ffe7 58.25%,#00f7ff 58.75%,#08fff7 59.25%,#08fff7 59.75%,#38ffc7 60.25%,#18ffe7 60.75%,#18ffe7 61.25%,#00f7ff 61.75%,#0097ff 62.25%,#0097ff 62.75%,#0087ff 63.25%,#0087ff 63.75%,#0097ff 64.25%,#00a7ff 64.75%,#0097ff 65.25%,#0097ff 65.75%,#0078ff 66.25%,#0097ff 66.75%,#0087ff 67.25%,#0097ff 67.75%,#00a7ff 68.25%,#0078ff 68.75%,#0097ff 69.25%,#0078ff 69.75%,#0078ff 70.25%,#0097ff 70.75%,#00a7ff 71.25%,#0097ff 71.75%,#0078ff 72.25%,#0087ff 72.75%,#0087ff 73.25%,#00c7ff 73.75%,#00d7ff 74.25%,#00c7ff 74.75%,#00c7ff 75.25%,#00b7ff 75.75%,#00d7ff 76.25%,#00d7ff 76.75%,#00f7ff 77.25%,#00f7ff 78.75%,#28ffd7 79.25%,#08fff7 79.75%,#00f7ff 80.25%,#18ffe7 80.75%,#00f7ff 81.25%,#38ffc7 81.75%,#38ffc7 82.75%,#08fff7 83.25%,#08fff7 83.75%,#38ffc7 84.25%,#28ffd7 84.75%,#48ffb7 85.25%,#08fff7 85.75%,#08fff7 86.25%,#38ffc7 86.75%,#48ffb7 87.25%,#28ffd7 87.75%,#28ffd7 88.25%,#48ffb7 88.75%,#48ffb7 89.25%,#28ffd7 89.75%,#38ffc7 90.25%,#38ffc7 90.75%,#28ffd7 91.25%,#28ffd7 91.75%,#38ffc7 92.25%,#48ffb7 92.75%,#68ff97 93.25%,#78ff87 93.75%,#58ffa7 94.25%,#48ffb7 94.75%,#58ffa7 95.25%,#38ffc7 95.75%,#28ffd7 96.25%,#48ffb7 96.75%,#58ffa7 97.25%,#58ffa7 97.75%,#68ff97 98.25%,#48ffb7 98.75%,#68ff97 99.25%,#58ffa7 99.75%)"></div>
<div class="r" style="top:299.50px;height:30.25px;background:linear-gradient(90deg,#0018ff 0.25%,#0028ff 0.75%,#0038ff 1.25%,#0048ff 1.75%,#0048ff 2.25%,#0068ff 2.75%,#0078ff 3.25%,#0087ff 3.75%,#0068ff 4.25%,#0068ff 4.75%,#00c7ff 5.25%,#00c7ff 7.75%,#00e7ff 8.25%,#00d7ff 8.75%,#00e7ff 9.25%,#00c7ff 9.75%,#00d7ff 10.25%,#00e7ff 10.75%,#00d7ff 11.25%,#00d7ff 11.75%,#08fff7 12.25%,#28ffd7 12.75%,#08fff7 13.25%,#00e7ff 13.75%,#00c7ff 14.25%,#00e7ff 14.75%,#00b7ff 15.25%,#00e7ff 15.75%,#00f7ff 16.25%,#00e7ff 16.75%,#00d7ff 17.25%,#00f7ff 17.75%,#08fff7 18.25%,#00d7ff 18.75%,#00e7ff 19.25%,#00e7ff 19.75%,#28ffd7 20.25%,#28ffd7 20.75%,#18ffe7 21.25%,#28ffd7 21.75%,#48ffb7 22.25%,#58ffa7 22.75%,#87ff78 23.25%,#38ffc7 23.75%,#38ffc7 24.25%,#18ffe7 24.75%,#38ffc7 25.25%,#18ffe7 25.75%,#48ffb7 26.25%,#08fff7 26.75%,#28ffd7 27.25%,#18ffe7 27.75%,#28ffd7 28.25%,#28ffd7 28.75%,#18ffe7 29.25%,#00f7ff 29.75%,#18ffe7 30.25%,#18ffe7 30.75%,#28ffd7 31.25%,#00d7ff 31.75%,#00d7ff 32.25%,#00e7ff 32.75%,#00d7ff 33.25%,#00e7ff 33.75%,#00f7ff 34.25%,#00e7ff 34.75%,#00d7ff 35.25%,#00d7ff 35.75%,#00e7ff 36.25%,#08fff7 36.75%,#00f7ff 37.25%,#00e7ff 37.75%,#00d7ff 38.25%,#00d7ff 39.25%,#00e7ff 39.75%,#08fff7 40.25%,#00e7ff 40.75%,#00b7ff 41.25%,#00d7ff 41.75%,#00a7ff 42.25%,#00b7ff 42.75%,#00a7ff 43.25%,#0078ff 43.75%,#0097ff 44.25%,#0097ff 45.25%,#0087ff 45.75%,#0087ff 46.25%,#0078ff 46.75%,#0087ff 47.25%,#0087ff 47.75%,#0097ff 48.25%,#0087ff 48.75%,#0078ff 49.25%,#0097ff 49.75%,#0078ff 50.25%,#00b7ff 50.75%,#00b7ff 51.25%,#00a7ff 51.75%,#00a7ff 52.25%,#00c7ff 52.75%,#00f7ff 53.25%,#18ffe7 53.75%,#28ffd7 54.25%,#00f7ff 54.75%,#08fff7 55.25%,#28ffd7 55.75%,#00f7ff 56.25%,#00e7ff 56.75%,#18ffe7 57.25%,#38ffc7 57.75%,#28ffd7 58.25%,#08fff7 58.75%,#18ffe7 59.25%,#18ffe7 59.75%,#48ffb7 60.25%,#28ffd7 60.75%,#28ffd7 61.25%,#18ffe7 61.75%,#00c7ff 62.25%,#00d7ff 62.75%,#00b7ff 63.25%,#00b7ff 63.75%,#00c7ff 64.25%,#00e7ff 64.75%,#00c7ff 65.25%,#00c7ff 65.75%,#00a7ff 66.25%,#00c7ff 66.75%,#00c7ff 67.75%,#00d7ff 68.25%,#00a7ff 68.75%,#00c7ff 69.25%,#00a7ff 69.75%,#00b7ff 70.25%,#00c7ff 70.75%,#00d7ff 71.25%,#00c7ff 71.75%,#00b7ff 72.25%,#00c7ff 72.75%,#00b7ff 73.25%,#00f7ff 73.75%,#00f7ff 74.25%,#00e7ff 74.75%,#00e7ff 75.25%,#00d7ff 75.75%,#00f7ff 76.25%,#00f7ff 76.75%,#18ffe7 77.25%,#18ffe7 77.75%,#08fff7 78.25%,#08fff7 78.75%,#48ffb7 79.25%,#18ffe7 79.75%,#08fff7 80.25%,#28ffd7 80.75%,#08fff7 81.25%,#48ffb7 81.75%,#48ffb7 82.75%,#28ffd7 83.25%,#18ffe7 83.75%,#48ffb7 84.25%,#38ffc7 84.75%,#58ffa7 85.25%,#18ffe7 85.75%,#18ffe7 86.25%,#48ffb7 86.75%,#58ffa7 87.25%,#38ffc7 87.75%,#38ffc7 88.25%,#58ffa7 88.75%,#58ffa7 89.25%,#38ffc7 89.75%,#48ffb7 90.25%,#48ffb7 90.75%,#38ffc7 91.25%,#38ffc7 91.75%,#58ffa7 92.25%,#78ff87 92.75%,#a7ff58 93.25%,#b7ff48 93.75%,#a7ff58 94.25%,#97ff68 94.75%,#97ff68 95.25%,#87ff78 95.75%,#78ff87 96.25%,#a7ff58 96.75%,#a7ff58 97.75%,#b7ff48 98.25%,#97ff68 98.75%,#b7ff48 99.25%,#b7ff48 99.75%)"></div>
<div class="r" style="top:329.45px;height:30.25px;background:linear-gradient(90deg,#0078ff 0.25%,#0087ff 0.75%,#00a7ff 1.25%,#00b7ff 1.75%,#00c7ff 2.25%,#00e7ff 2.75%,#00e7ff 3.25%,#08fff7 3.75%,#00e7ff 4.25%,#00d7ff 4.75%,#08fff7 5.25%,#00f7ff 5.75%,#00f7ff 7.75%,#18ffe7 8.25%,#08fff7 8.75%,#08fff7 9.25%,#00e7ff 9.75%,#00f7ff 10.25%,#08fff7 10.75%,#00f7ff 11.25%,#00f7ff 11.75%,#38ffc7 12.25%,#48ffb7 12.75%,#28ffd7 13.25%,#08fff7 13.75%,#00e7ff 14.25%,#08fff7 14.75%,#08fff7 15.25%,#28ffd7 15.75%,#38ffc7 16.25%,#28ffd7 16.75%,#28ffd7 17.25%,#38ffc7 17.75%,#48ffb7 18.25%,#18ffe7 18.75%,#28ffd7 19.25%,#38ffc7 19.75%,#68ff97 20.25%,#78ff87 20.75%,#58ffa7 21.25%,#68ff97 21.75%,#87ff78 22.25%,#97ff68 22.75%,#b7ff48 23.25%,#68ff97 23.75%,#68ff97 24.25%,#48ffb7 24.75%,#68ff97 25.25%,#58ffa7 25.75%,#78ff87 26.25%,#48ffb7 26.75%,#68ff97 27.25%,#48ffb7 27.75%,#58ffa7 28.25%,#58ffa7 28.75%,#48ffb7 29.25%,#38ffc7 29.75%,#48ffb7 30.25%,#48ffb7 30.75%,#58ffa7 31.25%,#08fff7 31.75%,#08fff7 32.25%,#18ffe7 32.75%,#18ffe7 33.75%,#28ffd7 34.25%,#08fff7 34.75%,#00f7ff 35.25%,#00f7ff 35.75%,#08fff7 36.25%,#28ffd7 36.75%,#18ffe7 37.25%,#08fff7 37.75%,#00f7ff 38.25%,#00f7ff 39.25%,#18ffe7 39.75%,#28ffd7 40.25%,#08fff7 40.75%,#00e7ff 41.25%,#00e7ff 41.75%,#00b7ff 42.25%,#00d7ff 42.75%,#00b7ff 43.25%,#0087ff 43.75%,#00a7ff 44.25%,#00a7ff 45.25%,#0097ff 45.75%,#0097ff 47.75%,#00a7ff 48.25%,#0097ff 48.75%,#0087ff 49.25%,#00a7ff 49.75%,#0087ff 50.25%,#00c7ff 50.75%,#00c7ff 51.25%,#00b7ff 51.75%,#00a7ff 52.25%,#00d7ff 52.75%,#00f7ff 53.25%,#18ffe7 53.75%,#28ffd7 54.25%,#00f7ff 54.75%,#08fff7 55.25%,#28ffd7 55.75%,#00f7ff 56.25%,#00f7ff 56.75%,#28ffd7 57.25%,#48ffb7 57.75%,#38ffc7 58.25%,#18ffe7 58.75%,#28ffd7 59.25%,#28ffd7 59.75%,#58ffa7 60.25%,#38ffc7 60.75%,#38ffc7 61.25%,#28ffd7 61.75%,#00e7ff 62.25%,#00f7ff 62.75%,#00e7ff 63.25%,#00d7ff 63.75%,#00e7ff 64.25%,#08fff7 64.75%,#00f7ff 65.25%,#00e7ff 65.75%,#00c7ff 66.25%,#00e7ff 66.75%,#00e7ff 67.75%,#00f7ff 68.25%,#00d7ff 68.75%,#00f7ff 69.25%,#00c7ff 69.75%,#00d7ff 70.25%,#00e7ff 70.75%,#08fff7 71.25%,#00e7ff 71.75%,#00d7ff 72.25%,#00e7ff 72.75%,#00d7ff 73.25%,#18ffe7 73.75%,#18ffe7 74.25%,#08fff7 74.75%,#08fff7 75.25%,#00f7ff 75.75%,#18ffe7 76.25%,#18ffe7 76.75%,#38ffc7 77.25%,#38ffc7 77.75%,#18ffe7 78.25%,#18ffe7 78.75%,#58ffa7 79.25%,#38ffc7 79.75%,#18ffe7 80.25%,#38ffc7 80.75%,#18ffe7 81.25%,#58ffa7 81.75%,#58ffa7 82.75%,#38ffc7 83.25%,#28ffd7 83.75%,#58ffa7 84.25%,#48ffb7 84.75%,#68ff97 85.25%,#28ffd7 85.75%,#28ffd7 86.25%,#58ffa7 86.75%,#68ff97 87.25%,#48ffb7 87.75%,#48ffb7 88.25%,#68ff97 88.75%,#68ff97 89.25%,#48ffb7 89.75%,#58ffa7 90.25%,#58ffa7 90.75%,#48ffb7 91.25%,#48ffb7 91.75%,#68ff97 92.25%,#78ff87 92.75%,#a7ff58 93.25%,#b7ff48 93.75%,#a7ff58 94.25%,#97ff68 94.75%,#97ff68 95.25%,#87ff78 95.75%,#78ff87 96.25%,#a7ff58 96.75%,#a7ff58 97.75%,#b7ff48 98.25%,#97ff68 98.75%,#b7ff48 99.25%,#b7ff48 99.75%)"></div>
<div class="r" style="top:359.40px;height:30.25px;background:linear-gradient(90deg,#0078ff 0.25%,#0087ff 0.75%,#00c7ff 1.25%,#00e7ff 1.75%,#08fff7 2.25%,#28ffd7 2.75%,#28ffd7 3.25%,#48ffb7 3.75%,#28ffd7 4.25%,#18ffe7 4.75%,#38ffc7 5.25%,#38ffc7 5.75%,#28ffd7 6.25%,#38ffc7 6.75%,#38ffc7 7.75%,#58ffa7 8.25%,#48ffb7 8.75%,#58ffa7 9.25%,#38ffc7 9.75%,#48ffb7 10.25%,#58ffa7 10.75%,#48ffb7 11.25%,#48ffb7 11.75%,#78ff87 12.25%,#87ff78 12.75%,#78ff87 13.25%,#58ffa7 13.75%,#38ffc7 14.25%,#48ffb7 14.75%,#48ffb7 15.25%,#68ff97 15.75%,#68ff97 16.25%,#58ffa7 16.75%,#58ffa7 17.25%,#78ff87 17.75%,#87ff78 18.25%,#58ffa7 18.75%,#68ff97 19.25%,#68ff97 19.75%,#a7ff58 20.25%,#a7ff58 20.75%,#97ff68 21.25%,#a7ff58 21.75%,#b7ff48 22.25%,#b7ff48 22.75%,#c7ff38 23.25%,#87ff78 23.75%,#87ff78 24.25%,#68ff97 24.75%,#87ff78 25.25%,#68ff97 25.75%,#87ff78 26.25%,#58ffa7 26.75%,#78ff87 27.25%,#68ff97 27.75%,#78ff87 28.25%,#78ff87 28.75%,#68ff97 29.25%,#48ffb7 29.75%,#58ffa7 30.25%,#68ff97 30.75%,#78ff87 31.25%,#28ffd7 31.75%,#38ffc7 32.25%,#48ffb7 32.75%,#38ffc7 33.25%,#48ffb7 33.75%,#48ffb7 34.25%,#38ffc7 34.75%,#28ffd7 35.25%,#28ffd7 35.75%,#38ffc7 36.25%,#58ffa7 36.75%,#48ffb7 37.25%,#38ffc7 37.75%,#28ffd7 38.25%,#28ffd7 38.75%,#18ffe7 39.25%,#38ffc7 39.75%,#58ffa7 40.25%,#28ffd7 40.75%,#28ffd7 41.75%,#00f7ff 42.25%,#18ffe7 42.75%,#00f7ff 43.25%,#00b7ff 43.75%,#00c7ff 44.25%,#00c7ff 45.25%,#00b7ff 45.75%,#00b7ff 46.75%,#00c7ff 47.25%,#00d7ff 47.75%,#00d7ff 48.25%,#00c7ff 48.75%,#00b7ff 49.25%,#00d7ff 49.75%,#00c7ff 50.25%,#00f7ff 50.75%,#00f7ff 51.25%,#00e7ff 51.75%,#00e7ff 52.25%,#18ffe7 52.75%,#48ffb7 53.25%,#58ffa7 53.75%,#68ff97 54.25%,#38ffc7 54.75%,#48ffb7 55.25%,#68ff97 55.75%,#48ffb7 56.25%,#38ffc7 56.75%,#58ffa7 57.25%,#78ff87 57.75%,#68ff97 58.25%,#48ffb7 58.75%,#58ffa7 59.25%,#58ffa7 59.75%,#97ff68 60.25%,#68ff97 60.75%,#78ff87 61.25%,#58ffa7 61.75%,#00f7ff 62.25%,#08fff7 62.75%,#00f7ff 63.25%,#00e7ff 63.75%,#08fff7 64.25%,#18ffe7 64.75%,#08fff7 65.25%,#00f7ff 65.75%,#00d7ff 66.25%,#00f7ff 66.75%,#00f7ff 67.75%,#08fff7 68.25%,#00e7ff 68.75%,#08fff7 69.25%,#00d7ff 69.75%,#00d7ff 70.25%,#00e7ff 70.75%,#08fff7 71.25%,#00e7ff 71.75%,#00d7ff 72.25%,#00e7ff 72.75%,#00d7ff 73.25%,#28ffd7 73.75%,#28ffd7 74.25%,#18ffe7 74.75%,#18ffe7 75.25%,#08fff7 75.75%,#28ffd7 76.25%,#28ffd7 76.75%,#48ffb7 77.25%,#48ffb7 77.75%,#28ffd7 78.25%,#28ffd7 78.75%,#68ff97 79.25%,#48ffb7 79.75%,#28ffd7 80.25%,#48ffb7 80.75%,#28ffd7 81.25%,#68ff97 81.75%,#68ff97 82.75%,#48ffb7 83.25%,#38ffc7 83.75%,#58ffa7 84.25%,#48ffb7 84.75%,#68ff97 85.25%,#28ffd7 85.75%,#28ffd7 86.25%,#58ffa7 86.75%,#68ff97 87.25%,#48ffb7 87.75%,#48ffb7 88.25%,#68ff97 88.75%,#68ff97 89.25%,#48ffb7 89.75%,#58ffa7 90.25%,#58ffa7 90.75%,#48ffb7 91.25%,#48ffb7 91.75%,#68ff97 92.25%,#78ff87 92.75%,#87ff78 93.25%,#97ff68 93.75%,#78ff87 94.25%,#68ff97 94.75%,#78ff87 95.25%,#68ff97 95.75%,#48ffb7 96.25%,#68ff97 96.75%,#78ff87 97.25%,#78ff87 97.75%,#87ff78 98.25%,#68ff97 98.75%,#87ff78 99.25%,#87ff78 99.75%)"></div>
<div class="r" style="top:389.35px;height:30.25px;background:linear-gradient(90deg,#0058ff 0.25%,#0068ff 0.75%,#00a7ff 1.25%,#00c7ff 1.75%,#00e7ff 2.25%,#08fff7 2.75%,#08fff7 3.25%,#28ffd7 3.75%,#08fff7 4.25%,#00f7ff 4.75%,#38ffc7 5.25%,#28ffd7 5.75%,#28ffd7 7.75%,#48ffb7 8.25%,#38ffc7 8.75%,#38ffc7 9.25%,#18ffe7 9.75%,#38ffc7 10.25%,#38ffc7 10.75%,#28ffd7 11.25%,#28ffd7 11.75%,#68ff97 12.25%,#78ff87 12.75%,#58ffa7 13.25%,#38ffc7 13.75%,#18ffe7 14.25%,#38ffc7 14.75%,#38ffc7 15.25%,#58ffa7 15.75%,#68ff97 16.25%,#58ffa7 16.75%,#58ffa7 17.25%,#68ff97 17.75%,#78ff87 18.25%,#48ffb7 18.75%,#58ffa7 19.25%,#68ff97 19.75%,#87ff78 20.25%,#97ff68 20.75%,#78ff87 21.25%,#87ff78 21.75%,#97ff68 22.25%,#a7ff58 22.75%,#c7ff38 23.25%,#78ff87 23.75%,#78ff87 24.25%,#58ffa7 24.75%,#78ff87 25.25%,#68ff97 25.75%,#87ff78 26.25%,#58ffa7 26.75%,#78ff87 27.25%,#58ffa7 27.75%,#68ff97 28.25%,#68ff97 28.75%,#58ffa7 29.25%,#48ffb7 29.75%,#58ffa7 30.25%,#68ff97 30.75%,#87ff78 31.25%,#38ffc7 31.75%,#38ffc7 32.25%,#48ffb7 32.75%,#48ffb7 33.75%,#58ffa7 34.25%,#48ffb7 34.75%,#28ffd7 35.25%,#28ffd7 35.75%,#38ffc7 36.25%,#58ffa7 36.75%,#48ffb7 37.25%,#38ffc7 37.75%,#38ffc7 38.75%,#28ffd7 39.25%,#48ffb7 39.75%,#58ffa7 40.25%,#38ffc7 40.75%,#18ffe7 41.25%,#18ffe7 41.75%,#00e7ff 42.25%,#08fff7 42.75%,#00e7ff 43.25%,#00b7ff 43.75%,#00d7ff 44.25%,#00d7ff 45.75%,#00c7ff 46.25%,#00c7ff 46.75%,#00d7ff 47.25%,#00e7ff 47.75%,#00e7ff 48.25%,#00d7ff 48.75%,#00c7ff 49.25%,#00e7ff 49.75%,#00d7ff 50.25%,#08fff7 50.75%,#08fff7 51.25%,#00f7ff 51.75%,#00f7ff 52.25%,#28ffd7 52.75%,#58ffa7 53.25%,#68ff97 53.75%,#78ff87 54.25%,#48ffb7 54.75%,#58ffa7 55.25%,#78ff87 55.75%,#58ffa7 56.25%,#48ffb7 56.75%,#78ff87 57.25%,#87ff78 57.75%,#78ff87 58.25%,#58ffa7 58.75%,#68ff97 59.25%,#68ff97 59.75%,#a7ff58 60.25%,#78ff87 60.75%,#87ff78 61.25%,#68ff97 61.75%,#18ffe7 62.25%,#28ffd7 62.75%,#18ffe7 63.25%,#08fff7 63.75%,#28ffd7 64.25%,#38ffc7 64.75%,#28ffd7 65.25%,#28ffd7 65.75%,#00f7ff 66.25%,#18ffe7 66.75%,#18ffe7 67.75%,#28ffd7 68.25%,#08fff7 68.75%,#28ffd7 69.25%,#00f7ff 69.75%,#00f7ff 70.25%,#08fff7 70.75%,#28ffd7 71.25%,#18ffe7 71.75%,#00f7ff 72.25%,#08fff7 72.75%,#00f7ff 73.25%,#48ffb7 73.75%,#48ffb7 74.75%,#38ffc7 75.25%,#28ffd7 75.75%,#48ffb7 76.25%,#48ffb7 76.75%,#68ff97 77.25%,#78ff87 77.75%,#68ff97 78.25%,#78ff87 78.75%,#a7ff58 79.25%,#87ff78 79.75%,#78ff87 80.25%,#87ff78 80.75%,#78ff87 81.25%,#b7ff48 81.75%,#b7ff48 82.25%,#a7ff58 82.75%,#87ff78 83.25%,#78ff87 83.75%,#a7ff58 84.25%,#87ff78 84.75%,#a7ff58 85.25%,#78ff87 85.75%,#78ff87 86.25%,#97ff68 86.75%,#b7ff48 87.25%,#87ff78 87.75%,#87ff78 88.25%,#a7ff58 88.75%,#a7ff58 89.25%,#97ff68 89.75%,#97ff68 90.25%,#a7ff58 90.75%,#97ff68 91.25%,#87ff78 91.75%,#a7ff58 92.25%,#a7ff58 92.75%,#c7ff38 93.25%,#c7ff38 93.75%,#b7ff48 94.25%,#a7ff58 94.75%,#a7ff58 95.25%,#97ff68 95.75%,#97ff68 96.25%,#b7ff48 96.75%,#c7ff38 97.25%,#b7ff48 97.75%,#c7ff38 98.25%,#b7ff48 98.75%,#c7ff38 99.25%,#c7ff38 99.75%)"></div>
<div class="r" style="top:419.30px;height:30.25px;background:linear-gradient(90deg,#0048ff 0.25%,#0058ff 0.75%,#00a7ff 1.25%,#00e7ff 1.75%,#08fff7 2.25%,#28ffd7 2.75%,#28ffd7 3.25%,#48ffb7 3.75%,#28ffd7 4.25%,#18ffe7 4.75%,#58ffa7 5.25%,#58ffa7 6.25%,#68ff97 6.75%,#58ffa7 7.25%,#58ffa7 7.75%,#78ff87 8.25%,#78ff87 8.75%,#87ff78 9.25%,#78ff87 9.75%,#87ff78 10.25%,#97ff68 10.75%,#78ff87 11.25%,#87ff78 11.75%,#b7ff48 12.25%,#c7ff38 12.75%,#b7ff48 13.25%,#87ff78 13.75%,#78ff87 14.25%,#87ff78 14.75%,#78ff87 15.25%,#a7ff58 15.75%,#a7ff58 16.25%,#97ff68 16.75%,#97ff68 17.25%,#b7ff48 17.75%,#c7ff38 18.25%,#97ff68 18.75%,#a7ff58 19.25%,#a7ff58 19.75%,#d7ff28 20.25%,#d7ff28 20.75%,#c7ff38 21.25%,#c7ff38 21.75%,#d7ff28 22.25%,#d7ff28 22.75%,#f7ff08 23.25%,#c7ff38 23.75%,#d7ff28 24.25%,#c7ff38 24.75%,#e7ff18 25.25%,#c7ff38 25.75%,#e7ff18 26.25%,#b7ff48 26.75%,#d7ff28 27.25%,#b7ff48 27.75%,#d7ff28 28.25%,#d7ff28 28.75%,#c7ff38 29.25%,#a7ff58 29.75%,#b7ff48 30.25%,#c7ff38 30.75%,#d7ff28 31.25%,#87ff78 31.75%,#97ff68 32.25%,#a7ff58 32.75%,#97ff68 33.25%,#a7ff58 33.75%,#a7ff58 34.25%,#87ff78 34.75%,#68ff97 35.25%,#78ff87 35.75%,#87ff78 36.25%,#97ff68 36.75%,#97ff68 37.25%,#87ff78 37.75%,#78ff87 38.25%,#78ff87 38.75%,#68ff97 39.25%,#87ff78 39.75%,#a7ff58 40.25%,#78ff87 40.75%,#58ffa7 41.25%,#48ffb7 41.75%,#08fff7 42.25%,#28ffd7 42.75%,#08fff7 43.25%,#00e7ff 43.75%,#08fff7 44.25%,#18ffe7 44.75%,#08fff7 45.25%,#08fff7 45.75%,#00f7ff 46.25%,#08fff7 46.75%,#18ffe7 47.25%,#28ffd7 47.75%,#38ffc7 48.25%,#28ffd7 48.75%,#18ffe7 49.25%,#28ffd7 49.75%,#18ffe7 50.25%,#48ffb7 50.75%,#48ffb7 51.25%,#38ffc7 51.75%,#38ffc7 52.25%,#58ffa7 52.75%,#87ff78 53.25%,#a7ff58 53.75%,#b7ff48 54.25%,#87ff78 54.75%,#97ff68 55.25%,#a7ff58 55.75%,#87ff78 56.25%,#78ff87 56.75%,#a7ff58 57.25%,#c7ff38 57.75%,#b7ff48 58.25%,#97ff68 58.75%,#97ff68 59.25%,#a7ff58 59.75%,#d7ff28 60.25%,#b7ff48 60.75%,#b7ff48 61.25%,#a7ff58 61.75%,#58ffa7 62.25%,#68ff97 62.75%,#58ffa7 63.25%,#58ffa7 63.75%,#68ff97 64.25%,#78ff87 64.75%,#68ff97 65.25%,#68ff97 65.75%,#48ffb7 66.25%,#68ff97 66.75%,#58ffa7 67.25%,#68ff97 67.75%,#68ff97 68.25%,#48ffb7 68.75%,#68ff97 69.25%,#38ffc7 69.75%,#38ffc7 70.25%,#58ffa7 70.75%,#68ff97 71.25%,#58ffa7 71.75%,#38ffc7 72.25%,#48ffb7 72.75%,#48ffb7 73.25%,#87ff78 73.75%,#97ff68 74.25%,#87ff78 74.75%,#78ff87 75.25%,#78ff87 75.75%,#87ff78 76.25%,#97ff68 76.75%,#b7ff48 77.25%,#a7ff58 77.75%,#97ff68 78.25%,#97ff68 78.75%,#c7ff38 79.25%,#a7ff58 79.75%,#97ff68 80.25%,#b7ff48 80.75%,#97ff68 81.25%,#d7ff28 81.75%,#d7ff28 82.25%,#c7ff38 82.75%,#a7ff58 83.25%,#97ff68 83.75%,#c7ff38 84.25%,#a7ff58 84.75%,#c7ff38 85.25%,#97ff68 85.75%,#97ff68 86.25%,#b7ff48 86.75%,#d7ff28 87.25%,#b7ff48 87.75%,#a7ff58 88.25%,#c7ff38 88.75%,#b7ff48 89.25%,#a7ff58 89.75%,#a7ff58 90.25%,#b7ff48 90.75%,#a7ff58 91.25%,#97ff68 91.75%,#b7ff48 92.25%,#c7ff38 92.75%,#e7ff18 93.25%,#e7ff18 93.75%,#d7ff28 94.25%,#c7ff38 94.75%,#c7ff38 95.25%,#b7ff48 95.75%,#b7ff48 96.25%,#d7ff28 96.75%,#e7ff18 97.25%,#e7ff18 98.25%,#d7ff28 98.75%,#e7ff18 99.25%,#e7ff18 99.75%)"></div>
<div class="r" style="top:449.25px;height:30.25px;background:linear-gradient(90deg,#0097ff 0.25%,#00a7ff 0.75%,#08fff7 1.25%,#48ffb7 1.75%,#78ff87 2.25%,#97ff68 2.75%,#97ff68 3.25%,#a7ff58 3.75%,#87ff78 4.25%,#87ff78 4.75%,#b7ff48 5.25%,#b7ff48 7.75%,#d7ff28 8.25%,#c7ff38 8.75%,#a7ff58 9.25%,#87ff78 9.75%,#97ff68 10.25%,#a7ff58 10.75%,#97ff68 11.25%,#97ff68 11.75%,#d7ff28 12.25%,#e7ff18 12.75%,#c7ff38 13.25%,#a7ff58 13.75%,#87ff78 14.25%,#a7ff58 14.75%,#b7ff48 15.25%,#d7ff28 15.75%,#e7ff18 16.25%,#d7ff28 16.75%,#d7ff28 17.25%,#e7ff18 17.75%,#f7ff08 18.25%,#c7ff38 18.75%,#d7ff28 19.25%,#d7ff28 19.75%,#fff700 20.25%,#fff700 20.75%,#e7ff18 21.25%,#f7ff08 21.75%,#fff700 22.25%,#ffd700 22.75%,#ffc700 23.25%,#fff700 23.75%,#fff700 24.25%,#f7ff08 24.75%,#ffe700 25.25%,#f7ff08 25.75%,#ffe700 26.25%,#e7ff18 26.75%,#fff700 27.25%,#f7ff08 27.75%,#fff700 28.25%,#fff700 28.75%,#f7ff08 29.25%,#d7ff28 29.75%,#f7ff08 30.25%,#f7ff08 30.75%,#ffe700 31.25%,#c7ff38 31.75%,#c7ff38 32.25%,#d7ff28 32.75%,#c7ff38 33.25%,#d7ff28 33.75%,#d7ff28 34.25%,#c7ff38 34.75%,#b7ff48 35.25%,#b7ff48 35.75%,#c7ff38 36.25%,#e7ff18 36.75%,#d7ff28 37.25%,#c7ff38 37.75%,#b7ff48 38.25%,#b7ff48 38.75%,#a7ff58 39.25%,#c7ff38 39.75%,#e7ff18 40.25%,#c7ff38 40.75%,#97ff68 41.25%,#97ff68 41.75%,#68ff97 42.25%,#78ff87 42.75%,#68ff97 43.25%,#28ffd7 43.75%,#58ffa7 44.25%,#58ffa7 45.25%,#48ffb7 45.75%,#38ffc7 46.25%,#48ffb7 46.75%,#48ffb7 47.25%,#58ffa7 47.75%,#68ff97 48.25%,#58ffa7 48.75%,#48ffb7 49.25%,#58ffa7 49.75%,#48ffb7 50.25%,#78ff87 50.75%,#78ff87 51.25%,#68ff97 51.75%,#58ffa7 52.25%,#87ff78 52.75%,#a7ff58 53.25%,#c7ff38 53.75%,#d7ff28 54.25%,#a7ff58 54.75%,#b7ff48 55.25%,#c7ff38 55.75%,#a7ff58 56.25%,#97ff68 56.75%,#b7ff48 57.25%,#d7ff28 57.75%,#c7ff38 58.25%,#a7ff58 58.75%,#a7ff58 59.25%,#b7ff48 59.75%,#e7ff18 60.25%,#c7ff38 60.75%,#c7ff38 61.75%,#87ff78 62.25%,#97ff68 62.75%,#87ff78 63.25%,#87ff78 63.75%,#97ff68 64.25%,#a7ff58 64.75%,#97ff68 65.25%,#97ff68 65.75%,#78ff87 66.25%,#97ff68 66.75%,#87ff78 67.25%,#97ff68 67.75%,#a7ff58 68.25%,#78ff87 68.75%,#97ff68 69.25%,#78ff87 69.75%,#78ff87 70.25%,#97ff68 70.75%,#a7ff58 71.25%,#97ff68 71.75%,#78ff87 72.25%,#87ff78 72.75%,#87ff78 73.25%,#b7ff48 73.75%,#a7ff58 74.25%,#97ff68 74.75%,#87ff78 75.25%,#87ff78 75.75%,#a7ff58 76.25%,#a7ff58 76.75%,#c7ff38 77.25%,#b7ff48 77.75%,#a7ff58 78.25%,#a7ff58 78.75%,#d7ff28 79.25%,#b7ff48 79.75%,#a7ff58 80.25%,#c7ff38 80.75%,#a7ff58 81.25%,#e7ff18 81.75%,#e7ff18 82.25%,#d7ff28 82.75%,#b7ff48 83.25%,#a7ff58 83.75%,#d7ff28 84.25%,#b7ff48 84.75%,#d7ff28 85.25%,#a7ff58 85.75%,#a7ff58 86.25%,#d7ff28 86.75%,#e7ff18 87.25%,#c7ff38 87.75%,#b7ff48 88.25%,#c7ff38 88.75%,#c7ff38 89.25%,#a7ff58 89.75%,#a7ff58 90.25%,#b7ff48 90.75%,#a7ff58 91.25%,#97ff68 91.75%,#b7ff48 92.25%,#c7ff38 92.75%,#e7ff18 93.25%,#e7ff18 93.75%,#d7ff28 94.25%,#c7ff38 94.75%,#c7ff38 95.25%,#b7ff48 95.75%,#a7ff58 96.25%,#c7ff38 96.75%,#d7ff28 97.25%,#d7ff28 98.25%,#c7ff38 98.75%,#d7ff28 99.25%,#d7ff28 99.75%)"></div>
<div class="ln" style="left:3.1px;top:0.0px;width:3.2px;height:29.9px;background:#8fd070"></div>
<div class="ln" style="left:4.4px;top:29.9px;width:3.2px;height:29.9px;background:#e6f21a"></div>
<div class="ln" style="left:4.6px;top:59.9px;width:1.2px;height:29.9px;background:#909090"></div>
<div class="bd"></div>
</div>
<div class="yl" style="left:53.6px;top:14.6px">16LEU</div>
<div class="yl" style="left:53.6px;top:44.5px">15SER</div>
<div class="yl" style="left:53.6px;top:74.5px">14GLY</div>
<div class="yl" style="left:53.6px;top:104.4px">13PHE</div>
<div class="yl" style="left:53.6px;top:134.4px">12ALA</div>
<div class="yl" style="left:53.6px;top:164.3px">11GLY</div>
<div class="yl" style="left:53.6px;top:194.3px">10VAL</div>
<div class="yl" style="left:53.6px;top:224.2px">9VAL</div>
<div class="yl" style="left:53.6px;top:254.2px">8LYS</div>
<div class="yl" style="left:53.6px;top:284.1px">7LYS</div>
<div class="yl" style="left:53.6px;top:314.1px">6VAL</div>
<div class="yl" style="left:53.6px;top:344.0px">5ILE</div>
<div class="yl" style="left:53.6px;top:374.0px">4ASP</div>
<div class="yl" style="left:53.6px;top:403.9px">3PHE</div>
<div class="yl" style="left:53.6px;top:433.9px">2LEU</div>
<div class="yl" style="left:53.6px;top:463.8px">1GLY</div>
<div class="xl" style="left:137.4px;top:498.2px">0</div>
<div class="xl" style="left:189.3px;top:498.2px">10</div>
<div class="xl" style="left:241.2px;top:498.2px">20</div>
<div class="xl" style="left:293.1px;top:498.2px">30</div>
<div class="xl" style="left:345.0px;top:498.2px">40</div>
<div class="xl" style="left:396.9px;top:498.2px">50</div>
<div class="xl" style="left:448.7px;top:498.2px">60</div>
<div class="xl" style="left:500.6px;top:498.2px">70</div>
<div class="xl" style="left:552.5px;top:498.2px">80</div>
<div class="xl" style="left:604.4px;top:498.2px">90</div>
<div class="xl" style="left:656.3px;top:498.2px">100</div>
<div class="xt" style="left:364.4px;top:532.2px">Time (ns)</div>
<div class="rt rs" style="left:70.1px;top:251.1px"><span>Residue</span></div>
<div class="cb" style="left:698.9px;top:10.0px;width:25.7px;height:479.2px"><div class="cg"></div>
<i style="top:79.4px;left:1px"></i><i style="top:79.4px;right:1px"></i>
<i style="top:159.2px;left:1px"></i><i style="top:159.2px;right:1px"></i>
<i style="top:239.1px;left:1px"></i><i style="top:239.1px;right:1px"></i>
<i style="top:319.0px;left:1px"></i><i style="top:319.0px;right:1px"></i>
<i style="top:398.8px;left:1px"></i><i style="top:398.8px;right:1px"></i>
<div class="bd"></div></div>
<div class="cl" style="left:741.5px;top:-3.5px">1</div>
<div class="cl" style="left:741.5px;top:76.2px">0.5</div>
<div class="cl" style="left:741.5px;top:155.9px">0</div>
<div class="cl" style="left:735.2px;top:235.5px">-0.5</div>
<div class="cl" style="left:735.2px;top:315.2px">-1</div>
<div class="cl" style="left:735.2px;top:394.9px">-1.5</div>
<div class="cl" style="left:735.2px;top:474.6px">-2</div>
<div class="rt" style="left:787.7px;top:251.3px"><span>Z Position (nm)</span></div>
<div class="pl" style="left:940.8px;top:10.0px;width:520.3px;height:479.1px">
<div class="r" style="top:0.00px;height:30.24px;background:linear-gradient(90deg,#0000a7 0.25%,#0000a7 0.75%,#000087 1.25%,#000087 2.25%,#0000a7 2.75%,#000097 3.25%,#000087 3.75%,#000087 4.75%,#000097 5.25%,#000097 7.75%,#0000a7 8.25%,#000097 8.75%,#000097 10.25%,#000087 10.75%,#000097 11.25%,#000087 11.75%,#000087 12.25%,#0000a7 12.75%,#000097 13.25%,#000087 13.75%,#0000a7 14.25%,#0000a7 14.75%,#000097 15.25%,#000097 15.75%,#000087 16.25%,#000087 17.25%,#000097 17.75%,#000097 18.25%,#0000b7 18.75%,#0000b7 19.25%,#000097 19.75%,#0000b7 20.25%,#000097 20.75%,#0000a7 21.25%,#000097 21.75%,#0000a7 22.25%,#000097 22.75%,#000097 23.25%,#0000a7 23.75%,#0000b7 24.25%,#0000c7 24.75%,#0000c7 25.75%,#0000d7 26.25%,#0000b7 26.75%,#0000c7 27.25%,#0000d7 27.75%,#0000c7 28.25%,#0000c7 30.25%,#0000b7 30.75%,#0000b7 31.25%,#0000a7 31.75%,#0000a7 32.25%,#0000c7 32.75%,#0000b7 33.25%,#0000b7 33.75%,#0000c7 34.25%,#0000c7 34.75%,#0000a7 35.25%,#0000b7 35.75%,#0000c7 36.25%,#0008ff 36.75%,#0008ff 37.25%,#0078ff 37.75%,#0068ff 38.25%,#0078ff 38.75%,#0068ff 39.25%,#0078ff 39.75%,#0087ff 40.25%,#0078ff 40.75%,#0078ff 41.25%,#0058ff 41.75%,#0058ff 42.25%,#0048ff 42.75%,#0068ff 43.25%,#0038ff 43.75%,#0018ff 44.25%,#0038ff 44.75%,#0028ff 45.25%,#0038ff 45.75%,#0058ff 46.25%,#0068ff 46.75%,#0068ff 47.25%,#0078ff 47.75%,#0068ff 48.25%,#0068ff 48.75%,#0087ff 49.25%,#0078ff 49.75%,#0078ff 50.25%,#0058ff 50.75%,#0068ff 51.25%,#0068ff 51.75%,#0078ff 52.25%,#0087ff 52.75%,#0068ff 53.25%,#0068ff 53.75%,#0078ff 54.25%,#0068ff 54.75%,#0087ff 55.25%,#0068ff 55.75%,#0078ff 56.25%,#0087ff 56.75%,#0097ff 57.25%,#00b7ff 57.75%,#0097ff 58.25%,#0097ff 59.25%,#00a7ff 59.75%,#00b7ff 60.25%,#0087ff 60.75%,#0097ff 61.25%,#0087ff 61.75%,#0097ff 62.25%,#00a7ff 62.75%,#00a7ff 63.25%,#0097ff 63.75%,#0097ff 64.25%,#00b7ff 64.75%,#00c7ff 65.25%,#00c7ff 65.75%,#00b7ff 66.25%,#00b7ff 66.75%,#00d7ff 67.25%,#00c7ff 67.75%,#00b7ff 68.25%,#0097ff 68.75%,#0097ff 69.25%,#0087ff 69.75%,#0068ff 70.25%,#0087ff 70.75%,#0078ff 71.25%,#0087ff 71.75%,#0087ff 72.75%,#00a7ff 73.25%,#00b7ff 73.75%,#00e7ff 74.25%,#00d7ff 74.75%,#00d7ff 75.25%,#00e7ff 75.75%,#00d7ff 76.25%,#00d7ff 76.75%,#00c7ff 77.25%,#00d7ff 77.75%,#00d7ff 78.75%,#00c7ff 79.25%,#00d7ff 79.75%,#00d7ff 80.25%,#00f7ff 80.75%,#00f7ff 81.25%,#00c7ff 81.75%,#00d7ff 82.25%,#00c7ff 82.75%,#00f7ff 83.25%,#00c7ff 83.75%,#00b7ff 84.25%,#00a7ff 84.75%,#00b7ff 85.25%,#00c7ff 85.75%,#00c7ff 86.75%,#00a7ff 87.25%,#00b7ff 87.75%,#00a7ff 88.25%,#00b7ff 88.75%,#00b7ff 89.25%,#0097ff 89.75%,#0097ff 90.25%,#00a7ff 90.75%,#00b7ff 91.25%,#00b7ff 91.75%,#00a7ff 92.25%,#00a7ff 92.75%,#00b7ff 93.25%,#0097ff 93.75%,#00a7ff 94.25%,#00b7ff 94.75%,#0097ff 95.25%,#00b7ff 95.75%,#00c7ff 96.25%,#00d7ff 96.75%,#00e7ff 97.25%,#00f7ff 97.75%,#00e7ff 98.25%,#00f7ff 98.75%,#00e7ff 99.25%,#00e7ff 99.75%)"></div>
<div class="r" style="top:29.94px;height:30.24px;background:linear-gradient(90deg,#0000a7 0.25%,#0000a7 0.75%,#000087 1.25%,#000087 2.25%,#0000a7 2.75%,#0000a7 3.25%,#000097 3.75%,#000097 4.25%,#0000a7 4.75%,#0000b7 5.25%,#0000b7 7.75%,#0000c7 8.25%,#0000c7 10.25%,#0000b7 10.75%,#0000c7 11.25%,#0000a7 11.75%,#0000b7 12.25%,#0000c7 12.75%,#0000c7 13.25%,#0000b7 13.75%,#0000d7 14.25%,#0000d7 14.75%,#0000c7 15.25%,#0000c7 15.75%,#0000a7 16.25%,#0000c7 16.75%,#0000c7 17.25%,#0000e7 17.75%,#0000d7 18.25%,#0000f7 18.75%,#0000f7 19.25%,#0000d7 19.75%,#0000f7 20.25%,#0000d7 20.75%,#0000e7 21.25%,#0000e7 22.25%,#0000d7 22.75%,#0000d7 23.25%,#0000e7 23.75%,#0008ff 24.25%,#0018ff 24.75%,#0008ff 25.25%,#0018ff 25.75%,#0028ff 26.25%,#0000f7 26.75%,#0008ff 27.25%,#0028ff 27.75%,#0008ff 28.25%,#0008ff 28.75%,#0018ff 29.25%,#0008ff 29.75%,#0008ff 30.25%,#0000f7 30.75%,#0000f7 31.25%,#0000d7 31.75%,#0000f7 32.25%,#0028ff 32.75%,#0038ff 33.25%,#0038ff 34.25%,#0048ff 34.75%,#0028ff 35.25%,#0038ff 35.75%,#0048ff 36.25%,#0058ff 36.75%,#0038ff 37.25%,#0078ff 37.75%,#0058ff 38.25%,#0078ff 38.75%,#0068ff 39.25%,#0068ff 39.75%,#0078ff 40.25%,#0078ff 41.25%,#0068ff 41.75%,#0068ff 42.25%,#0058ff 42.75%,#0078ff 43.25%,#0048ff 43.75%,#0038ff 44.25%,#0068ff 44.75%,#0068ff 45.75%,#0078ff 46.25%,#0068ff 46.75%,#0068ff 47.25%,#0078ff 47.75%,#0068ff 48.25%,#0068ff 48.75%,#0087ff 49.25%,#0078ff 49.75%,#0078ff 50.25%,#0058ff 50.75%,#0068ff 51.25%,#0068ff 51.75%,#0078ff 52.25%,#0087ff 52.75%,#0068ff 53.25%,#0068ff 53.75%,#0078ff 54.25%,#0068ff 54.75%,#0087ff 55.25%,#0068ff 55.75%,#0078ff 56.25%,#0087ff 56.75%,#0097ff 57.25%,#00b7ff 57.75%,#0097ff 58.25%,#0097ff 59.25%,#00a7ff 59.75%,#00b7ff 60.25%,#0087ff 60.75%,#0097ff 61.25%,#0087ff 61.75%,#0097ff 62.25%,#00a7ff 62.75%,#00a7ff 63.25%,#0097ff 63.75%,#0097ff 64.25%,#00c7ff 64.75%,#00e7ff 65.25%,#08fff7 65.75%,#08fff7 66.25%,#00f7ff 66.75%,#18ffe7 67.25%,#08fff7 67.75%,#00f7ff 68.25%,#00f7ff 68.75%,#08fff7 69.25%,#08fff7 69.75%,#00e7ff 70.25%,#08fff7 70.75%,#08fff7 71.75%,#18ffe7 72.25%,#00f7ff 72.75%,#00e7ff 73.25%,#00d7ff 73.75%,#00e7ff 74.25%,#00d7ff 74.75%,#00d7ff 75.25%,#00e7ff 75.75%,#00d7ff 76.25%,#00d7ff 76.75%,#00c7ff 77.25%,#00d7ff 77.75%,#00d7ff 78.75%,#00c7ff 79.25%,#00e7ff 79.75%,#00e7ff 80.25%,#18ffe7 80.75%,#18ffe7 81.25%,#00e7ff 81.75%,#00f7ff 82.25%,#00e7ff 82.75%,#18ffe7 83.25%,#00e7ff 83.75%,#00d7ff 84.25%,#00b7ff 84.75%,#00d7ff 85.25%,#00d7ff 86.75%,#00b7ff 87.25%,#00c7ff 87.75%,#00b7ff 88.25%,#00c7ff 88.75%,#00c7ff 89.25%,#00a7ff 89.75%,#00a7ff 90.25%,#00b7ff 90.75%,#00c7ff 91.25%,#00c7ff 92.75%,#00d7ff 93.25%,#00c7ff 93.75%,#00d7ff 94.25%,#00d7ff 94.75%,#00c7ff 95.25%,#00d7ff 95.75%,#00e7ff 96.25%,#00f7ff 96.75%,#00f7ff 97.25%,#08fff7 97.75%,#00f7ff 98.25%,#18ffe7 98.75%,#00f7ff 99.25%,#00f7ff 99.75%)"></div>
<div class="r" style="top:59.89px;height:30.24px;background:linear-gradient(90deg,#0000a7 0.25%,#0000a7 0.75%,#000087 1.25%,#000087 2.25%,#0000b7 2.75%,#0000b7 4.25%,#0000c7 4.75%,#0000d7 5.25%,#0000d7 7.75%,#0000e7 8.25%,#0000d7 8.75%,#0000d7 9.75%,#0000e7 10.25%,#0000d7 10.75%,#0000e7 11.25%,#0000c7 11.75%,#0000d7 12.25%,#0000f7 12.75%,#0000e7 13.25%,#0000d7 13.75%,#0000f7 14.25%,#0000f7 14.75%,#0000e7 15.25%,#0000e7 15.75%,#0000c7 16.25%,#0000e7 16.75%,#0000e7 17.25%,#0008ff 17.75%,#0008ff 18.25%,#0018ff 18.75%,#0018ff 19.25%,#0008ff 19.75%,#0018ff 20.25%,#0008ff 20.75%,#0028ff 21.25%,#0018ff 21.75%,#0028ff 22.25%,#0018ff 22.75%,#0018ff 23.25%,#0028ff 23.75%,#0048ff 24.25%,#0058ff 24.75%,#0058ff 25.75%,#0068ff 26.25%,#0048ff 26.75%,#0058ff 27.25%,#0068ff 27.75%,#0058ff 28.25%,#0058ff 29.25%,#0048ff 29.75%,#0058ff 30.25%,#0038ff 30.75%,#0038ff 31.25%,#0028ff 31.75%,#0048ff 32.25%,#0078ff 32.75%,#0097ff 33.25%,#0097ff 34.25%,#00a7ff 34.75%,#0087ff 35.25%,#0097ff 35.75%,#00a7ff 36.25%,#00a7ff 36.75%,#0097ff 37.25%,#00c7ff 37.75%,#00b7ff 38.25%,#00c7ff 38.75%,#00b7ff 39.25%,#00b7ff 39.75%,#00d7ff 40.25%,#00d7ff 41.25%,#00b7ff 41.75%,#00b7ff 42.25%,#00a7ff 42.75%,#00d7ff 43.25%,#00a7ff 43.75%,#0097ff 44.25%,#00b7ff 44.75%,#00b7ff 45.25%,#00a7ff 45.75%,#00c7ff 46.25%,#00b7ff 46.75%,#00b7ff 47.25%,#00c7ff 47.75%,#00b7ff 48.25%,#00a7ff 48.75%,#00c7ff 49.25%,#00d7ff 49.75%,#00c7ff 50.25%,#00b7ff 50.75%,#00c7ff 51.25%,#00c7ff 51.75%,#00d7ff 52.25%,#00e7ff 52.75%,#00c7ff 53.25%,#00c7ff 53.75%,#00d7ff 54.25%,#00c7ff 54.75%,#00e7ff 55.25%,#00c7ff 55.75%,#00d7ff 56.25%,#00e7ff 56.75%,#00f7ff 57.25%,#18ffe7 57.75%,#00f7ff 58.25%,#00f7ff 59.25%,#08fff7 59.75%,#18ffe7 60.25%,#00e7ff 60.75%,#00f7ff 61.25%,#00e7ff 61.75%,#00f7ff 62.25%,#08fff7 62.75%,#08fff7 63.25%,#00f7ff 63.75%,#00f7ff 64.25%,#18ffe7 64.75%,#28ffd7 65.25%,#28ffd7 65.75%,#18ffe7 66.25%,#18ffe7 66.75%,#38ffc7 67.25%,#18ffe7 67.75%,#18ffe7 68.75%,#28ffd7 69.25%,#18ffe7 69.75%,#00e7ff 70.25%,#00f7ff 70.75%,#00e7ff 71.25%,#00f7ff 71.75%,#00f7ff 72.75%,#00e7ff 73.25%,#00d7ff 73.75%,#00f7ff 74.25%,#00e7ff 74.75%,#00d7ff 75.25%,#00e7ff 75.75%,#00d7ff 76.25%,#00d7ff 77.25%,#00e7ff 77.75%,#00e7ff 78.25%,#00d7ff 78.75%,#00c7ff 79.25%,#00f7ff 79.75%,#00f7ff 80.25%,#28ffd7 80.75%,#18ffe7 81.25%,#00f7ff 81.75%,#08fff7 82.25%,#00f7ff 82.75%,#18ffe7 83.25%,#00f7ff 83.75%,#00f7ff 84.25%,#00e7ff 84.75%,#00f7ff 85.25%,#08fff7 85.75%,#00f7ff 86.25%,#08fff7 86.75%,#00e7ff 87.25%,#00f7ff 87.75%,#00e7ff 88.25%,#00f7ff 88.75%,#00f7ff 89.25%,#00d7ff 89.75%,#00d7ff 90.25%,#00e7ff 90.75%,#00f7ff 91.25%,#00f7ff 91.75%,#00e7ff 92.25%,#00f7ff 92.75%,#08fff7 93.25%,#00e7ff 93.75%,#00f7ff 94.25%,#08fff7 94.75%,#00e7ff 95.25%,#00f7ff 95.75%,#18ffe7 96.25%,#28ffd7 96.75%,#38ffc7 97.25%,#58ffa7 97.75%,#48ffb7 98.25%,#58ffa7 98.75%,#48ffb7 99.25%,#48ffb7 99.75%)"></div>
<div class="r" style="top:89.83px;height:30.24px;background:linear-gradient(90deg,#0000a7 0.25%,#0000a7 0.75%,#000087 1.25%,#000087 2.25%,#0000c7 2.75%,#0000c7 3.25%,#0000d7 3.75%,#0000e7 4.25%,#0000e7 4.75%,#0000f7 5.25%,#0000f7 7.75%,#0008ff 8.25%,#0000f7 8.75%,#0000f7 9.75%,#0008ff 10.25%,#0000f7 10.75%,#0008ff 11.25%,#0000f7 11.75%,#0000f7 12.25%,#0018ff 12.75%,#0008ff 13.25%,#0000f7 13.75%,#0018ff 14.25%,#0018ff 14.75%,#0008ff 15.25%,#0008ff 15.75%,#0000e7 16.25%,#0008ff 16.75%,#0008ff 17.25%,#0028ff 17.75%,#0028ff 18.25%,#0038ff 18.75%,#0038ff 19.25%,#0028ff 19.75%,#0038ff 20.25%,#0028ff 20.75%,#0048ff 21.25%,#0048ff 21.75%,#0058ff 22.25%,#0048ff 22.75%,#0048ff 23.25%,#0058ff 23.75%,#0078ff 24.25%,#0087ff 24.75%,#0087ff 25.75%,#00a7ff 26.25%,#0078ff 26.75%,#0087ff 27.25%,#00a7ff 27.75%,#0087ff 28.25%,#0087ff 30.25%,#0078ff 30.75%,#0078ff 31.25%,#0068ff 31.75%,#0087ff 32.25%,#00a7ff 32.75%,#00b7ff 33.25%,#00c7ff 33.75%,#00c7ff 34.25%,#00d7ff 34.75%,#00b7ff 35.25%,#00b7ff 35.75%,#00c7ff 36.25%,#00d7ff 36.75%,#00c7ff 37.25%,#08fff7 37.75%,#00e7ff 38.25%,#08fff7 38.75%,#00e7ff 39.25%,#00f7ff 39.75%,#08fff7 40.25%,#08fff7 41.25%,#00f7ff 41.75%,#00f7ff 42.25%,#00e7ff 42.75%,#08fff7 43.25%,#00d7ff 43.75%,#00c7ff 44.25%,#00f7ff 44.75%,#00f7ff 45.25%,#00e7ff 45.75%,#08fff7 46.25%,#00f7ff 46.75%,#00f7ff 47.25%,#08fff7 47.75%,#00f7ff 48.25%,#00e7ff 48.75%,#08fff7 49.25%,#18ffe7 49.75%,#18ffe7 51.25%,#28ffd7 51.75%,#28ffd7 52.25%,#38ffc7 52.75%,#28ffd7 53.25%,#28ffd7 53.75%,#38ffc7 54.25%,#28ffd7 54.75%,#48ffb7 55.25%,#18ffe7 55.75%,#28ffd7 56.25%,#38ffc7 56.75%,#58ffa7 57.25%,#78ff87 57.75%,#58ffa7 58.25%,#48ffb7 58.75%,#58ffa7 59.25%,#68ff97 59.75%,#68ff97 60.25%,#48ffb7 60.75%,#58ffa7 61.25%,#48ffb7 61.75%,#48ffb7 62.25%,#68ff97 62.75%,#58ffa7 63.25%,#58ffa7 64.25%,#78ff87 64.75%,#78ff87 66.75%,#97ff68 67.25%,#78ff87 67.75%,#68ff97 68.25%,#78ff87 68.75%,#87ff78 69.25%,#78ff87 69.75%,#48ffb7 70.25%,#48ffb7 71.75%,#58ffa7 72.25%,#58ffa7 72.75%,#48ffb7 73.25%,#48ffb7 73.75%,#68ff97 74.25%,#58ffa7 74.75%,#48ffb7 75.25%,#58ffa7 75.75%,#48ffb7 76.25%,#48ffb7 77.75%,#58ffa7 78.25%,#48ffb7 78.75%,#38ffc7 79.25%,#68ff97 79.75%,#68ff97 80.25%,#97ff68 80.75%,#87ff78 81.25%,#68ff97 81.75%,#78ff87 82.25%,#68ff97 82.75%,#87ff78 83.25%,#58ffa7 83.75%,#58ffa7 84.25%,#48ffb7 84.75%,#58ffa7 85.25%,#68ff97 85.75%,#58ffa7 86.25%,#68ff97 86.75%,#48ffb7 87.25%,#48ffb7 87.75%,#38ffc7 88.25%,#58ffa7 88.75%,#58ffa7 89.25%,#38ffc7 89.75%,#38ffc7 90.25%,#48ffb7 90.75%,#58ffa7 91.25%,#58ffa7 91.75%,#48ffb7 92.25%,#58ffa7 92.75%,#68ff97 93.25%,#48ffb7 93.75%,#58ffa7 94.25%,#68ff97 94.75%,#48ffb7 95.25%,#58ffa7 95.75%,#78ff87 96.25%,#97ff68 96.75%,#a7ff58 97.25%,#b7ff48 97.75%,#a7ff58 98.25%,#c7ff38 98.75%,#b7ff48 99.25%,#b7ff48 99.75%)"></div>
<div class="r" style="top:119.78px;height:30.24px;background:linear-gradient(90deg,#0000a7 0.25%,#0000a7 0.75%,#000087 1.25%,#000087 2.25%,#0000d7 2.75%,#0000e7 3.25%,#0008ff 3.75%,#0008ff 4.25%,#0018ff 4.75%,#0018ff 6.25%,#0028ff 6.75%,#0018ff 7.25%,#0018ff 7.75%,#0028ff 8.25%,#0018ff 8.75%,#0018ff 9.75%,#0028ff 10.25%,#0018ff 10.75%,#0028ff 11.25%,#0018ff 11.75%,#0018ff 12.25%,#0038ff 12.75%,#0028ff 13.25%,#0018ff 13.75%,#0048ff 14.25%,#0038ff 14.75%,#0028ff 15.25%,#0028ff 15.75%,#0018ff 16.25%,#0038ff 16.75%,#0038ff 17.25%,#0058ff 17.75%,#0058ff 18.25%,#0078ff 18.75%,#0068ff 19.25%,#0058ff 19.75%,#0068ff 20.25%,#0058ff 20.75%,#0078ff 21.25%,#0078ff 22.25%,#0068ff 22.75%,#0078ff 23.25%,#0078ff 23.75%,#0087ff 24.25%,#0097ff 24.75%,#0097ff 25.25%,#00a7ff 25.75%,#00b7ff 26.25%,#0087ff 26.75%,#0097ff 27.25%,#00b7ff 27.75%,#00a7ff 28.25%,#0097ff 28.75%,#00a7ff 29.25%,#00b7ff 29.75%,#00c7ff 30.25%,#00b7ff 30.75%,#00b7ff 31.25%,#00a7ff 31.75%,#00b7ff 32.25%,#00d7ff 32.75%,#00c7ff 33.25%,#00d7ff 33.75%,#00e7ff 34.25%,#00f7ff 34.75%,#00d7ff 35.25%,#00e7ff 35.75%,#00f7ff 36.25%,#08fff7 36.75%,#00e7ff 37.25%,#28ffd7 37.75%,#18ffe7 38.25%,#28ffd7 38.75%,#18ffe7 39.25%,#18ffe7 39.75%,#38ffc7 40.25%,#38ffc7 41.25%,#18ffe7 41.75%,#18ffe7 42.25%,#08fff7 42.75%,#38ffc7 43.25%,#18ffe7 43.75%,#08fff7 44.25%,#38ffc7 44.75%,#28ffd7 45.25%,#18ffe7 45.75%,#38ffc7 46.25%,#38ffc7 47.25%,#48ffb7 47.75%,#38ffc7 48.25%,#28ffd7 48.75%,#58ffa7 49.25%,#48ffb7 49.75%,#48ffb7 50.25%,#38ffc7 50.75%,#38ffc7 51.25%,#48ffb7 51.75%,#48ffb7 52.25%,#58ffa7 52.75%,#48ffb7 53.25%,#48ffb7 53.75%,#58ffa7 54.25%,#48ffb7 54.75%,#68ff97 55.25%,#38ffc7 55.75%,#48ffb7 56.25%,#58ffa7 56.75%,#68ff97 57.25%,#87ff78 57.75%,#68ff97 58.25%,#58ffa7 58.75%,#68ff97 59.25%,#78ff87 59.75%,#78ff87 60.25%,#58ffa7 60.75%,#68ff97 61.25%,#58ffa7 61.75%,#58ffa7 62.25%,#78ff87 62.75%,#68ff97 63.25%,#68ff97 64.25%,#87ff78 64.75%,#87ff78 66.75%,#a7ff58 67.25%,#87ff78 67.75%,#78ff87 68.25%,#87ff78 68.75%,#97ff68 69.25%,#78ff87 69.75%,#48ffb7 70.25%,#48ffb7 71.75%,#58ffa7 72.25%,#58ffa7 72.75%,#48ffb7 73.25%,#48ffb7 73.75%,#68ff97 74.25%,#58ffa7 74.75%,#48ffb7 75.25%,#58ffa7 75.75%,#48ffb7 76.25%,#48ffb7 77.75%,#58ffa7 78.25%,#48ffb7 78.75%,#38ffc7 79.25%,#68ff97 79.75%,#68ff97 80.25%,#97ff68 80.75%,#87ff78 81.25%,#68ff97 81.75%,#78ff87 82.25%,#68ff97 82.75%,#87ff78 83.25%,#68ff97 83.75%,#68ff97 84.75%,#78ff87 85.25%,#87ff78 85.75%,#78ff87 86.25%,#87ff78 86.75%,#68ff97 87.25%,#78ff87 87.75%,#68ff97 88.25%,#78ff87 88.75%,#78ff87 89.25%,#58ffa7 89.75%,#58ffa7 90.25%,#68ff97 90.75%,#78ff87 91.25%,#78ff87 91.75%,#68ff97 92.25%,#78ff87 92.75%,#87ff78 93.25%,#68ff97 93.75%,#78ff87 94.25%,#87ff78 94.75%,#68ff97 95.25%,#78ff87 95.75%,#97ff68 96.25%,#a7ff58 96.75%,#b7ff48 97.25%,#c7ff38 97.75%,#b7ff48 98.25%,#d7ff28 98.75%,#c7ff38 99.25%,#c7ff38 99.75%)"></div>
<div class="r" style="top:149.72px;height:30.24px;background:linear-gradient(90deg,#0000b7 0.25%,#0000b7 0.75%,#000097 1.25%,#000097 2.25%,#0000f7 2.75%,#0008ff 3.25%,#0038ff 3.75%,#0038ff 4.25%,#0048ff 4.75%,#0058ff 5.25%,#0048ff 5.75%,#0058ff 6.25%,#0058ff 7.25%,#0048ff 7.75%,#0058ff 8.25%,#0048ff 8.75%,#0058ff 9.25%,#0048ff 9.75%,#0058ff 10.25%,#0058ff 10.75%,#0068ff 11.25%,#0048ff 11.75%,#0058ff 12.25%,#0068ff 12.75%,#0068ff 13.25%,#0048ff 13.75%,#0078ff 14.25%,#0078ff 14.75%,#0068ff 15.25%,#0058ff 15.75%,#0048ff 16.25%,#0048ff 17.25%,#0058ff 17.75%,#0048ff 18.25%,#0078ff 18.75%,#0078ff 19.25%,#0068ff 19.75%,#0078ff 20.25%,#0068ff 20.75%,#0087ff 21.25%,#0087ff 23.25%,#0097ff 23.75%,#00a7ff 24.25%,#00b7ff 24.75%,#00b7ff 25.75%,#00c7ff 26.25%,#00a7ff 26.75%,#00c7ff 27.25%,#00e7ff 27.75%,#00d7ff 28.25%,#00d7ff 29.75%,#00e7ff 30.25%,#00c7ff 30.75%,#00c7ff 31.25%,#00b7ff 31.75%,#00d7ff 32.25%,#00f7ff 32.75%,#00f7ff 33.25%,#08fff7 33.75%,#08fff7 34.25%,#18ffe7 34.75%,#00f7ff 35.25%,#00f7ff 35.75%,#08fff7 36.25%,#08fff7 36.75%,#00e7ff 37.25%,#18ffe7 37.75%,#00f7ff 38.25%,#18ffe7 38.75%,#08fff7 39.25%,#08fff7 39.75%,#18ffe7 40.25%,#18ffe7 41.25%,#08fff7 41.75%,#08fff7 42.25%,#00f7ff 42.75%,#18ffe7 43.25%,#08fff7 43.75%,#00f7ff 44.25%,#28ffd7 44.75%,#28ffd7 45.25%,#08fff7 45.75%,#28ffd7 46.25%,#18ffe7 46.75%,#18ffe7 47.25%,#28ffd7 47.75%,#08fff7 48.25%,#08fff7 48.75%,#28ffd7 49.25%,#28ffd7 49.75%,#38ffc7 50.25%,#28ffd7 50.75%,#28ffd7 51.25%,#38ffc7 51.75%,#38ffc7 52.25%,#48ffb7 52.75%,#38ffc7 53.25%,#38ffc7 53.75%,#48ffb7 54.25%,#38ffc7 54.75%,#58ffa7 55.25%,#28ffd7 55.75%,#38ffc7 56.25%,#48ffb7 56.75%,#58ffa7 57.25%,#78ff87 57.75%,#58ffa7 58.25%,#48ffb7 58.75%,#58ffa7 59.25%,#68ff97 59.75%,#68ff97 60.25%,#48ffb7 60.75%,#58ffa7 61.25%,#48ffb7 61.75%,#48ffb7 62.25%,#68ff97 62.75%,#58ffa7 63.25%,#58ffa7 64.25%,#78ff87 64.75%,#78ff87 66.75%,#97ff68 67.25%,#78ff87 67.75%,#68ff97 68.25%,#78ff87 68.75%,#87ff78 69.25%,#78ff87 69.75%,#48ffb7 70.25%,#48ffb7 71.75%,#58ffa7 72.25%,#58ffa7 72.75%,#48ffb7 73.25%,#48ffb7 73.75%,#68ff97 74.25%,#58ffa7 74.75%,#48ffb7 75.25%,#58ffa7 75.75%,#48ffb7 76.25%,#48ffb7 77.75%,#58ffa7 78.25%,#48ffb7 78.75%,#38ffc7 79.25%,#68ff97 79.75%,#68ff97 80.25%,#97ff68 80.75%,#87ff78 81.25%,#68ff97 81.75%,#78ff87 82.25%,#68ff97 82.75%,#87ff78 83.25%,#68ff97 83.75%,#58ffa7 84.25%,#58ffa7 84.75%,#68ff97 85.25%,#78ff87 85.75%,#68ff97 86.25%,#78ff87 86.75%,#58ffa7 87.25%,#68ff97 87.75%,#48ffb7 88.25%,#68ff97 88.75%,#68ff97 89.25%,#48ffb7 89.75%,#48ffb7 90.25%,#58ffa7 90.75%,#68ff97 91.25%,#68ff97 91.75%,#58ffa7 92.25%,#68ff97 92.75%,#78ff87 93.25%,#58ffa7 93.75%,#68ff97 94.25%,#78ff87 94.75%,#58ffa7 95.25%,#68ff97 95.75%,#87ff78 96.25%,#97ff68 96.75%,#a7ff58 97.25%,#b7ff48 97.75%,#a7ff58 98.25%,#c7ff38 98.75%,#b7ff48 99.25%,#b7ff48 99.75%)"></div>
<div class="r" style="top:179.66px;height:30.24px;background:linear-gradient(90deg,#0000c7 0.25%,#0000c7 0.75%,#0000b7 1.25%,#0000a7 1.75%,#0000a7 2.25%,#0008ff 2.75%,#0008ff 3.25%,#0038ff 3.75%,#0038ff 4.25%,#0048ff 4.75%,#0058ff 5.25%,#0048ff 5.75%,#0058ff 6.25%,#0058ff 7.25%,#0048ff 7.75%,#0058ff 8.25%,#0048ff 8.75%,#0058ff 9.25%,#0058ff 9.75%,#0068ff 10.25%,#0068ff 10.75%,#0078ff 11.25%,#0058ff 11.75%,#0068ff 12.25%,#0078ff 12.75%,#0078ff 13.25%,#0068ff 13.75%,#0087ff 14.25%,#0087ff 14.75%,#0078ff 15.25%,#0078ff 15.75%,#0058ff 16.25%,#0078ff 16.75%,#0078ff 17.25%,#0097ff 17.75%,#0097ff 18.25%,#00b7ff 18.75%,#00b7ff 19.25%,#0097ff 19.75%,#00b7ff 20.25%,#00a7ff 20.75%,#00c7ff 21.25%,#00d7ff 21.75%,#00d7ff 22.25%,#00c7ff 22.75%,#00c7ff 23.75%,#00d7ff 24.25%,#00e7ff 24.75%,#00e7ff 25.25%,#00f7ff 25.75%,#18ffe7 26.25%,#00e7ff 26.75%,#00f7ff 27.25%,#18ffe7 27.75%,#00f7ff 28.25%,#00f7ff 29.25%,#08fff7 29.75%,#18ffe7 30.25%,#18ffe7 31.25%,#08fff7 31.75%,#08fff7 32.25%,#28ffd7 32.75%,#18ffe7 33.25%,#28ffd7 33.75%,#38ffc7 34.25%,#48ffb7 34.75%,#28ffd7 35.25%,#28ffd7 35.75%,#38ffc7 36.25%,#38ffc7 36.75%,#18ffe7 37.25%,#48ffb7 37.75%,#38ffc7 38.25%,#48ffb7 38.75%,#38ffc7 39.25%,#48ffb7 39.75%,#58ffa7 40.25%,#58ffa7 41.25%,#48ffb7 41.75%,#48ffb7 42.25%,#38ffc7 42.75%,#58ffa7 43.25%,#38ffc7 43.75%,#38ffc7 44.25%,#68ff97 44.75%,#58ffa7 45.25%,#48ffb7 45.75%,#68ff97 46.25%,#58ffa7 46.75%,#58ffa7 47.25%,#68ff97 47.75%,#58ffa7 48.25%,#48ffb7 48.75%,#78ff87 49.25%,#78ff87 50.25%,#68ff97 50.75%,#78ff87 51.25%,#78ff87 51.75%,#87ff78 52.25%,#97ff68 52.75%,#78ff87 53.25%,#78ff87 53.75%,#87ff78 54.25%,#78ff87 54.75%,#97ff68 55.25%,#78ff87 55.75%,#87ff78 56.25%,#87ff78 56.75%,#a7ff58 57.25%,#b7ff48 57.75%,#97ff68 58.25%,#97ff68 59.25%,#a7ff58 59.75%,#b7ff48 60.25%,#87ff78 60.75%,#97ff68 61.25%,#87ff78 61.75%,#97ff68 62.25%,#a7ff58 62.75%,#a7ff58 63.25%,#97ff68 63.75%,#97ff68 64.25%,#b7ff48 64.75%,#c7ff38 65.25%,#d7ff28 65.75%,#d7ff28 66.25%,#c7ff38 66.75%,#e7ff18 67.25%,#d7ff28 67.75%,#c7ff38 68.25%,#c7ff38 68.75%,#d7ff28 69.25%,#c7ff38 69.75%,#97ff68 70.25%,#a7ff58 70.75%,#97ff68 71.25%,#a7ff58 71.75%,#b7ff48 72.25%,#a7ff58 72.75%,#a7ff58 73.75%,#b7ff48 74.25%,#a7ff58 74.75%,#a7ff58 75.75%,#97ff68 76.25%,#a7ff58 76.75%,#97ff68 77.25%,#a7ff58 77.75%,#a7ff58 78.75%,#87ff78 79.25%,#b7ff48 79.75%,#c7ff38 80.25%,#f7ff08 80.75%,#f7ff08 81.25%,#c7ff38 81.75%,#d7ff28 82.25%,#c7ff38 82.75%,#f7ff08 83.25%,#c7ff38 83.75%,#c7ff38 84.25%,#b7ff48 84.75%,#d7ff28 85.25%,#d7ff28 86.75%,#b7ff48 87.25%,#c7ff38 87.75%,#b7ff48 88.25%,#c7ff38 88.75%,#c7ff38 89.25%,#a7ff58 89.75%,#a7ff58 90.25%,#b7ff48 90.75%,#c7ff38 91.25%,#c7ff38 91.75%,#b7ff48 92.25%,#b7ff48 92.75%,#c7ff38 93.25%,#a7ff58 93.75%,#b7ff48 94.25%,#c7ff38 94.75%,#a7ff58 95.25%,#c7ff38 95.75%,#d7ff28 96.25%,#e7ff18 96.75%,#f7ff08 97.25%,#fff700 97.75%,#f7ff08 98.25%,#ffe700 98.75%,#f7ff08 99.25%,#f7ff08 99.75%)"></div>
<div class="r" style="top:209.61px;height:30.24px;background:linear-gradient(90deg,#0000d7 0.25%,#0000d7 0.75%,#0000c7 1.25%,#0000b7 1.75%,#0000b7 2.25%,#0018ff 2.75%,#0028ff 3.25%,#0058ff 3.75%,#0058ff 4.25%,#0068ff 4.75%,#0078ff 5.25%,#0068ff 5.75%,#0078ff 6.25%,#0078ff 8.25%,#0068ff 8.75%,#0078ff 9.25%,#0078ff 9.75%,#0097ff 10.25%,#0097ff 10.75%,#00a7ff 11.25%,#0087ff 11.75%,#0097ff 12.25%,#00a7ff 12.75%,#00a7ff 13.25%,#0097ff 13.75%,#00b7ff 14.25%,#00b7ff 14.75%,#00a7ff 15.25%,#00a7ff 15.75%,#0087ff 16.25%,#00a7ff 16.75%,#00a7ff 17.25%,#00d7ff 17.75%,#00c7ff 18.25%,#00e7ff 18.75%,#00e7ff 19.75%,#08fff7 20.25%,#00f7ff 20.75%,#18ffe7 21.25%,#08fff7 21.75%,#08fff7 22.25%,#00f7ff 22.75%,#00f7ff 23.75%,#18ffe7 24.25%,#28ffd7 24.75%,#28ffd7 25.25%,#58ffa7 25.75%,#68ff97 26.25%,#38ffc7 26.75%,#48ffb7 27.25%,#68ff97 27.75%,#48ffb7 28.25%,#48ffb7 29.25%,#58ffa7 29.75%,#68ff97 30.25%,#68ff97 31.25%,#58ffa7 31.75%,#58ffa7 32.25%,#78ff87 32.75%,#78ff87 33.75%,#87ff78 34.25%,#97ff68 34.75%,#78ff87 35.25%,#87ff78 35.75%,#97ff68 36.25%,#97ff68 36.75%,#78ff87 37.25%,#a7ff58 37.75%,#87ff78 38.25%,#a7ff58 38.75%,#87ff78 39.25%,#97ff68 39.75%,#a7ff58 40.25%,#a7ff58 41.25%,#97ff68 41.75%,#97ff68 42.25%,#87ff78 42.75%,#a7ff58 43.25%,#87ff78 43.75%,#87ff78 44.25%,#b7ff48 44.75%,#b7ff48 45.25%,#97ff68 45.75%,#b7ff48 46.25%,#b7ff48 47.25%,#c7ff38 47.75%,#a7ff58 48.25%,#a7ff58 48.75%,#c7ff38 49.25%,#c7ff38 50.25%,#a7ff58 50.75%,#b7ff48 51.25%,#b7ff48 51.75%,#c7ff38 52.25%,#d7ff28 52.75%,#b7ff48 53.25%,#c7ff38 53.75%,#d7ff28 54.25%,#c7ff38 54.75%,#d7ff28 55.25%,#b7ff48 55.75%,#c7ff38 56.25%,#c7ff38 56.75%,#d7ff28 57.25%,#e7ff18 57.75%,#c7ff38 58.25%,#c7ff38 58.75%,#d7ff28 59.25%,#d7ff28 59.75%,#e7ff18 60.25%,#b7ff48 60.75%,#d7ff28 61.25%,#b7ff48 61.75%,#c7ff38 62.25%,#d7ff28 62.75%,#d7ff28 63.75%,#c7ff38 64.25%,#e7ff18 64.75%,#f7ff08 65.25%,#f7ff08 66.75%,#ffe700 67.25%,#f7ff08 67.75%,#e7ff18 68.25%,#f7ff08 68.75%,#fff700 69.25%,#f7ff08 69.75%,#d7ff28 70.25%,#d7ff28 71.75%,#e7ff18 72.25%,#d7ff28 72.75%,#d7ff28 73.75%,#e7ff18 74.25%,#d7ff28 74.75%,#d7ff28 75.25%,#e7ff18 75.75%,#d7ff28 76.25%,#d7ff28 76.75%,#c7ff38 77.25%,#d7ff28 77.75%,#d7ff28 78.75%,#c7ff38 79.25%,#e7ff18 79.75%,#e7ff18 80.25%,#ffe700 80.75%,#fff700 81.25%,#e7ff18 81.75%,#f7ff08 82.25%,#e7ff18 82.75%,#fff700 83.25%,#e7ff18 83.75%,#e7ff18 84.25%,#d7ff28 84.75%,#f7ff08 85.25%,#f7ff08 86.75%,#d7ff28 87.25%,#e7ff18 87.75%,#d7ff28 88.25%,#e7ff18 88.75%,#e7ff18 89.25%,#d7ff28 89.75%,#c7ff38 90.25%,#e7ff18 90.75%,#e7ff18 91.75%,#d7ff28 92.25%,#d7ff28 92.75%,#e7ff18 93.25%,#d7ff28 93.75%,#e7ff18 94.25%,#e7ff18 94.75%,#d7ff28 95.25%,#e7ff18 95.75%,#f7ff08 96.25%,#fff700 96.75%,#ffe700 97.25%,#ffe700 97.75%,#fff700 98.25%,#ffd700 98.75%,#ffe700 99.25%,#ffe700 99.75%)"></div>
<div class="r" style="top:239.55px;height:30.24px;background:linear-gradient(90deg,#0018ff 0.25%,#0018ff 0.75%,#0000f7 1.25%,#0000e7 1.75%,#0018ff 2.25%,#0048ff 2.75%,#0058ff 3.25%,#0048ff 3.75%,#0048ff 4.25%,#0058ff 4.75%,#0068ff 5.25%,#0058ff 5.75%,#0068ff 6.25%,#0078ff 6.75%,#0087ff 7.25%,#0097ff 7.75%,#00a7ff 8.25%,#0087ff 8.75%,#0097ff 9.25%,#0087ff 9.75%,#0097ff 10.25%,#0087ff 10.75%,#0097ff 11.25%,#0078ff 11.75%,#0087ff 12.25%,#0087ff 13.25%,#0068ff 13.75%,#0087ff 14.25%,#0087ff 14.75%,#0078ff 15.25%,#0078ff 15.75%,#0058ff 16.25%,#0078ff 16.75%,#0087ff 17.25%,#00b7ff 17.75%,#00a7ff 18.25%,#00c7ff 18.75%,#00c7ff 19.25%,#00d7ff 19.75%,#08fff7 20.25%,#08fff7 20.75%,#28ffd7 21.25%,#18ffe7 21.75%,#18ffe7 22.25%,#08fff7 22.75%,#08fff7 23.75%,#28ffd7 24.25%,#38ffc7 24.75%,#38ffc7 25.25%,#58ffa7 25.75%,#68ff97 26.25%,#38ffc7 26.75%,#48ffb7 27.25%,#68ff97 27.75%,#48ffb7 28.25%,#48ffb7 29.75%,#58ffa7 30.25%,#58ffa7 32.25%,#78ff87 32.75%,#78ff87 34.25%,#87ff78 34.75%,#68ff97 35.25%,#68ff97 35.75%,#87ff78 36.25%,#87ff78 36.75%,#68ff97 37.25%,#97ff68 37.75%,#78ff87 38.25%,#97ff68 38.75%,#78ff87 39.25%,#87ff78 39.75%,#97ff68 40.25%,#97ff68 41.25%,#87ff78 41.75%,#87ff78 42.25%,#78ff87 42.75%,#97ff68 43.25%,#78ff87 43.75%,#68ff97 44.25%,#97ff68 44.75%,#87ff78 45.25%,#78ff87 45.75%,#87ff78 46.25%,#87ff78 46.75%,#78ff87 47.25%,#87ff78 47.75%,#78ff87 48.25%,#78ff87 48.75%,#97ff68 49.25%,#97ff68 49.75%,#a7ff58 50.25%,#97ff68 50.75%,#a7ff58 51.25%,#a7ff58 51.75%,#b7ff48 52.25%,#c7ff38 52.75%,#a7ff58 53.25%,#b7ff48 53.75%,#b7ff48 54.25%,#a7ff58 54.75%,#b7ff48 55.25%,#87ff78 55.75%,#97ff68 56.25%,#87ff78 56.75%,#97ff68 57.25%,#c7ff38 57.75%,#b7ff48 58.25%,#d7ff28 58.75%,#e7ff18 59.25%,#e7ff18 59.75%,#f7ff08 60.25%,#c7ff38 60.75%,#e7ff18 61.25%,#d7ff28 61.75%,#d7ff28 62.25%,#f7ff08 62.75%,#f7ff08 64.75%,#fff700 65.25%,#f7ff08 65.75%,#f7ff08 66.25%,#e7ff18 66.75%,#fff700 67.25%,#f7ff08 67.75%,#e7ff18 68.25%,#e7ff18 68.75%,#f7ff08 69.25%,#d7ff28 69.75%,#a7ff58 70.25%,#a7ff58 70.75%,#97ff68 71.25%,#a7ff58 71.75%,#b7ff48 72.25%,#b7ff48 73.25%,#c7ff38 73.75%,#d7ff28 74.25%,#c7ff38 74.75%,#c7ff38 75.75%,#a7ff58 76.25%,#a7ff58 76.75%,#97ff68 77.25%,#c7ff38 77.75%,#c7ff38 78.25%,#d7ff28 78.75%,#c7ff38 79.25%,#e7ff18 79.75%,#d7ff28 80.25%,#f7ff08 80.75%,#e7ff18 81.25%,#c7ff38 81.75%,#d7ff28 82.25%,#c7ff38 82.75%,#e7ff18 83.25%,#d7ff28 83.75%,#d7ff28 84.25%,#c7ff38 84.75%,#e7ff18 85.25%,#e7ff18 85.75%,#d7ff28 86.25%,#e7ff18 86.75%,#c7ff38 87.25%,#d7ff28 87.75%,#c7ff38 88.25%,#d7ff28 88.75%,#d7ff28 89.25%,#b7ff48 89.75%,#b7ff48 90.25%,#c7ff38 90.75%,#d7ff28 91.25%,#d7ff28 91.75%,#c7ff38 92.25%,#d7ff28 92.75%,#e7ff18 93.25%,#c7ff38 93.75%,#d7ff28 94.25%,#e7ff18 94.75%,#c7ff38 95.25%,#d7ff28 95.75%,#f7ff08 96.25%,#f7ff08 97.25%,#e7ff18 97.75%,#d7ff28 98.25%,#f7ff08 98.75%,#d7ff28 99.25%,#e7ff18 99.75%)"></div>
<div class="r" style="top:269.49px;height:30.24px;background:linear-gradient(90deg,#0028ff 0.25%,#0028ff 0.75%,#0008ff 1.25%,#0000f7 1.75%,#0048ff 2.25%,#0078ff 2.75%,#00a7ff 3.25%,#0087ff 3.75%,#0087ff 4.25%,#0097ff 4.75%,#00a7ff 5.25%,#00a7ff 6.25%,#00c7ff 6.75%,#00c7ff 7.25%,#00e7ff 7.75%,#00f7ff 8.25%,#00e7ff 8.75%,#00e7ff 10.25%,#00d7ff 10.75%,#00e7ff 11.25%,#00c7ff 11.75%,#00d7ff 12.25%,#00e7ff 12.75%,#00d7ff 13.25%,#00b7ff 13.75%,#00d7ff 14.25%,#00d7ff 14.75%,#00c7ff 15.25%,#00c7ff 15.75%,#00a7ff 16.25%,#00a7ff 17.25%,#00b7ff 17.75%,#00a7ff 18.25%,#00c7ff 18.75%,#00c7ff 19.75%,#00f7ff 20.25%,#00f7ff 20.75%,#18ffe7 21.25%,#08fff7 21.75%,#08fff7 22.25%,#00f7ff 22.75%,#00f7ff 23.75%,#18ffe7 24.25%,#28ffd7 24.75%,#28ffd7 25.25%,#38ffc7 25.75%,#58ffa7 26.25%,#28ffd7 26.75%,#38ffc7 27.25%,#58ffa7 27.75%,#38ffc7 28.25%,#38ffc7 29.75%,#48ffb7 30.25%,#38ffc7 30.75%,#38ffc7 31.25%,#28ffd7 31.75%,#28ffd7 32.25%,#48ffb7 32.75%,#38ffc7 33.25%,#48ffb7 33.75%,#48ffb7 34.25%,#58ffa7 34.75%,#38ffc7 35.25%,#38ffc7 35.75%,#48ffb7 36.25%,#58ffa7 36.75%,#38ffc7 37.25%,#68ff97 37.75%,#58ffa7 38.25%,#68ff97 38.75%,#58ffa7 39.25%,#68ff97 39.75%,#78ff87 40.25%,#78ff87 41.25%,#68ff97 41.75%,#68ff97 42.25%,#58ffa7 42.75%,#78ff87 43.25%,#68ff97 43.75%,#58ffa7 44.25%,#97ff68 44.75%,#87ff78 45.25%,#78ff87 45.75%,#87ff78 46.25%,#87ff78 46.75%,#78ff87 47.25%,#87ff78 47.75%,#78ff87 48.25%,#78ff87 48.75%,#97ff68 49.25%,#97ff68 50.25%,#87ff78 50.75%,#97ff68 51.25%,#97ff68 51.75%,#a7ff58 52.25%,#b7ff48 52.75%,#97ff68 53.25%,#97ff68 53.75%,#a7ff58 54.25%,#97ff68 54.75%,#b7ff48 55.25%,#97ff68 55.75%,#a7ff58 56.25%,#97ff68 56.75%,#b7ff48 57.25%,#d7ff28 57.75%,#b7ff48 58.25%,#d7ff28 58.75%,#e7ff18 59.25%,#e7ff18 59.75%,#f7ff08 60.25%,#c7ff38 60.75%,#e7ff18 61.25%,#d7ff28 61.75%,#d7ff28 62.25%,#e7ff18 62.75%,#e7ff18 64.75%,#f7ff08 65.25%,#e7ff18 65.75%,#e7ff18 66.75%,#fff700 67.25%,#f7ff08 67.75%,#e7ff18 68.25%,#e7ff18 68.75%,#f7ff08 69.25%,#e7ff18 69.75%,#b7ff48 70.25%,#b7ff48 71.75%,#c7ff38 72.25%,#b7ff48 72.75%,#b7ff48 73.75%,#c7ff38 74.25%,#b7ff48 74.75%,#b7ff48 75.25%,#c7ff38 75.75%,#b7ff48 76.25%,#b7ff48 76.75%,#a7ff58 77.25%,#d7ff28 77.75%,#d7ff28 78.25%,#e7ff18 78.75%,#d7ff28 79.25%,#f7ff08 79.75%,#e7ff18 80.25%,#fff700 80.75%,#f7ff08 81.25%,#d7ff28 81.75%,#e7ff18 82.25%,#d7ff28 82.75%,#f7ff08 83.25%,#e7ff18 83.75%,#e7ff18 84.75%,#f7ff08 85.25%,#f7ff08 86.75%,#d7ff28 87.25%,#e7ff18 87.75%,#d7ff28 88.25%,#e7ff18 88.75%,#e7ff18 89.25%,#d7ff28 89.75%,#c7ff38 90.25%,#e7ff18 90.75%,#e7ff18 91.75%,#d7ff28 92.25%,#d7ff28 92.75%,#e7ff18 93.25%,#d7ff28 93.75%,#e7ff18 94.25%,#e7ff18 94.75%,#d7ff28 95.25%,#e7ff18 95.75%,#f7ff08 96.25%,#f7ff08 97.75%,#e7ff18 98.25%,#f7ff08 98.75%,#e7ff18 99.25%,#e7ff18 99.75%)"></div>
<div class="r" style="top:299.44px;height:30.24px;background:linear-gradient(90deg,#0028ff 0.25%,#0028ff 0.75%,#0008ff 1.25%,#0000f7 1.75%,#0038ff 2.25%,#0068ff 2.75%,#0078ff 3.25%,#0068ff 3.75%,#0068ff 4.25%,#0078ff 4.75%,#0087ff 5.25%,#0078ff 5.75%,#0087ff 6.25%,#0097ff 6.75%,#00a7ff 7.25%,#00b7ff 7.75%,#00c7ff 8.25%,#00b7ff 8.75%,#00b7ff 9.25%,#00a7ff 9.75%,#00b7ff 10.25%,#00a7ff 10.75%,#00b7ff 11.25%,#0097ff 11.75%,#00a7ff 12.25%,#00b7ff 12.75%,#00b7ff 13.25%,#00a7ff 13.75%,#00c7ff 14.25%,#00c7ff 14.75%,#00b7ff 15.25%,#00b7ff 15.75%,#0097ff 16.25%,#00b7ff 16.75%,#00c7ff 17.25%,#00f7ff 17.75%,#00e7ff 18.25%,#08fff7 18.75%,#08fff7 19.25%,#18ffe7 19.75%,#48ffb7 20.25%,#48ffb7 20.75%,#68ff97 21.25%,#58ffa7 21.75%,#58ffa7 22.25%,#48ffb7 22.75%,#58ffa7 23.25%,#58ffa7 23.75%,#68ff97 24.25%,#78ff87 24.75%,#78ff87 25.25%,#97ff68 25.75%,#a7ff58 26.25%,#78ff87 26.75%,#87ff78 27.25%,#a7ff58 27.75%,#87ff78 28.25%,#87ff78 28.75%,#97ff68 29.25%,#97ff68 30.25%,#87ff78 30.75%,#87ff78 31.25%,#78ff87 31.75%,#87ff78 32.25%,#97ff68 32.75%,#97ff68 34.25%,#a7ff58 34.75%,#87ff78 35.25%,#97ff68 35.75%,#a7ff58 36.25%,#a7ff58 36.75%,#87ff78 37.25%,#c7ff38 37.75%,#a7ff58 38.25%,#c7ff38 38.75%,#b7ff48 39.25%,#b7ff48 39.75%,#c7ff38 40.25%,#c7ff38 41.25%,#b7ff48 41.75%,#b7ff48 42.25%,#a7ff58 42.75%,#c7ff38 43.25%,#b7ff48 43.75%,#a7ff58 44.25%,#d7ff28 44.75%,#d7ff28 45.25%,#b7ff48 45.75%,#d7ff28 46.25%,#c7ff38 46.75%,#c7ff38 47.25%,#d7ff28 47.75%,#b7ff48 48.25%,#b7ff48 48.75%,#d7ff28 49.25%,#e7ff18 49.75%,#f7ff08 50.25%,#e7ff18 50.75%,#f7ff08 51.25%,#f7ff08 51.75%,#fff700 52.25%,#ffe700 52.75%,#f7ff08 53.25%,#f7ff08 53.75%,#fff700 54.25%,#f7ff08 54.75%,#fff700 55.25%,#d7ff28 55.75%,#e7ff18 56.25%,#e7ff18 56.75%,#f7ff08 57.25%,#ffe700 57.75%,#f7ff08 58.25%,#ffe700 58.75%,#ffd700 59.25%,#ffd700 59.75%,#ffc700 60.25%,#fff700 60.75%,#ffd700 61.25%,#fff700 61.75%,#fff700 62.25%,#ffe700 62.75%,#ffe700 63.75%,#fff700 64.25%,#ffd700 64.75%,#ffc700 65.25%,#ffc700 65.75%,#ffd700 66.25%,#ffd700 66.75%,#ffb700 67.25%,#ffc700 67.75%,#ffd700 68.25%,#fff700 68.75%,#ffe700 69.25%,#fff700 69.75%,#e7ff18 70.25%,#fff700 70.75%,#f7ff08 71.25%,#fff700 71.75%,#fff700 73.25%,#f7ff08 73.75%,#ffe700 74.25%,#fff700 74.75%,#fff700 75.75%,#f7ff08 76.25%,#fff700 76.75%,#f7ff08 77.25%,#fff700 77.75%,#ffe700 78.25%,#ffd700 78.75%,#ffe700 79.25%,#ffd700 79.75%,#ffe700 80.25%,#ffc700 80.75%,#ffd700 81.25%,#fff700 81.75%,#ffe700 82.25%,#fff700 82.75%,#ffd700 83.25%,#ffe700 83.75%,#ffe700 84.75%,#ffd700 85.25%,#ffd700 86.75%,#fff700 87.25%,#ffe700 87.75%,#fff700 88.25%,#ffe700 88.75%,#ffe700 89.25%,#f7ff08 89.75%,#f7ff08 90.25%,#fff700 90.75%,#ffe700 91.25%,#ffe700 91.75%,#fff700 92.25%,#fff700 92.75%,#ffe700 93.25%,#f7ff08 93.75%,#fff700 94.25%,#ffe700 94.75%,#f7ff08 95.25%,#ffe700 95.75%,#ffd700 96.25%,#ffc700 96.75%,#ffc700 98.25%,#ffb700 98.75%,#ffc700 99.25%,#ffc700 99.75%)"></div>
<div class="r" style="top:329.38px;height:30.24px;background:linear-gradient(90deg,#0038ff 0.25%,#0038ff 1.25%,#0048ff 1.75%,#0097ff 2.25%,#00c7ff 2.75%,#00b7ff 3.25%,#0097ff 3.75%,#0097ff 4.25%,#00a7ff 4.75%,#00b7ff 5.25%,#00b7ff 6.25%,#00d7ff 6.75%,#00e7ff 7.25%,#00f7ff 7.75%,#08fff7 8.25%,#00f7ff 8.75%,#00f7ff 10.25%,#00e7ff 10.75%,#00f7ff 11.25%,#00e7ff 11.75%,#00e7ff 12.25%,#08fff7 12.75%,#00f7ff 13.25%,#00e7ff 13.75%,#08fff7 14.25%,#08fff7 14.75%,#00f7ff 15.25%,#00f7ff 15.75%,#00d7ff 16.25%,#00f7ff 16.75%,#00f7ff 17.25%,#18ffe7 17.75%,#18ffe7 18.25%,#28ffd7 18.75%,#28ffd7 19.25%,#38ffc7 19.75%,#68ff97 20.25%,#78ff87 20.75%,#87ff78 21.25%,#78ff87 21.75%,#78ff87 22.25%,#68ff97 22.75%,#78ff87 23.25%,#78ff87 23.75%,#87ff78 24.25%,#a7ff58 24.75%,#a7ff58 25.25%,#c7ff38 25.75%,#d7ff28 26.25%,#b7ff48 26.75%,#c7ff38 27.25%,#d7ff28 27.75%,#c7ff38 28.25%,#c7ff38 30.25%,#b7ff48 30.75%,#b7ff48 31.25%,#a7ff58 31.75%,#b7ff48 32.25%,#d7ff28 32.75%,#c7ff38 33.25%,#c7ff38 33.75%,#d7ff28 34.25%,#d7ff28 34.75%,#b7ff48 35.25%,#c7ff38 35.75%,#d7ff28 36.25%,#d7ff28 36.75%,#c7ff38 37.25%,#f7ff08 37.75%,#e7ff18 38.25%,#f7ff08 38.75%,#e7ff18 39.25%,#e7ff18 39.75%,#f7ff08 40.25%,#f7ff08 41.25%,#e7ff18 41.75%,#e7ff18 42.25%,#d7ff28 42.75%,#f7ff08 43.25%,#e7ff18 43.75%,#d7ff28 44.25%,#ffe700 44.75%,#fff700 45.25%,#e7ff18 45.75%,#fff700 46.25%,#f7ff08 46.75%,#f7ff08 47.25%,#fff700 47.75%,#f7ff08 48.25%,#e7ff18 48.75%,#fff700 49.25%,#fff700 49.75%,#ffe700 50.25%,#f7ff08 50.75%,#fff700 51.25%,#fff700 51.75%,#ffe700 52.25%,#ffd700 52.75%,#fff700 53.25%,#fff700 53.75%,#ffe700 54.25%,#fff700 54.75%,#ffd700 55.25%,#f7ff08 55.75%,#fff700 56.25%,#fff700 56.75%,#ffe700 57.25%,#ffd700 57.75%,#ffe700 58.25%,#ffd700 58.75%,#ffc700 59.25%,#ffc700 59.75%,#ffb700 60.25%,#ffe700 60.75%,#ffc700 61.25%,#ffe700 61.75%,#ffe700 62.25%,#ffd700 62.75%,#ffd700 63.75%,#ffe700 64.25%,#ffc700 64.75%,#ffb700 65.25%,#ffb700 66.25%,#ffc700 66.75%,#ffa700 67.25%,#ffb700 67.75%,#ffc700 68.25%,#ffd700 68.75%,#ffd700 69.25%,#ffe700 69.75%,#f7ff08 70.25%,#ffe700 70.75%,#ffe700 71.75%,#ffd700 72.25%,#ffe700 72.75%,#ffe700 73.75%,#ffd700 74.25%,#ffe700 74.75%,#ffe700 75.75%,#fff700 76.25%,#ffe700 76.75%,#fff700 77.25%,#ffd700 77.75%,#ffd700 78.25%,#ffc700 78.75%,#ffd700 79.25%,#ffc700 79.75%,#ffc700 80.25%,#ffb700 80.75%,#ffb700 81.25%,#ffe700 81.75%,#ffd700 82.25%,#ffe700 82.75%,#ffc700 83.25%,#ffd700 83.75%,#ffd700 84.75%,#ffc700 85.25%,#ffc700 86.75%,#ffe700 87.25%,#ffd700 87.75%,#ffe700 88.25%,#ffd700 88.75%,#ffd700 89.25%,#fff700 89.75%,#fff700 90.25%,#ffe700 90.75%,#ffd700 91.25%,#ffd700 91.75%,#ffe700 92.25%,#ffe700 92.75%,#ffd700 93.25%,#fff700 93.75%,#ffe700 94.25%,#ffd700 94.75%,#fff700 95.25%,#ffd700 95.75%,#ffc700 96.25%,#ffb700 96.75%,#ffb700 97.25%,#ffa700 97.75%,#ffb700 98.25%,#ffa700 98.75%,#ffb700 99.25%,#ffb700 99.75%)"></div>
<div class="r" style="top:359.33px;height:30.24px;background:linear-gradient(90deg,#0058ff 0.25%,#0058ff 0.75%,#0038ff 1.25%,#0028ff 1.75%,#0078ff 2.25%,#00b7ff 2.75%,#00e7ff 3.25%,#00c7ff 3.75%,#00d7ff 4.25%,#00f7ff 4.75%,#18ffe7 5.25%,#28ffd7 5.75%,#38ffc7 6.25%,#38ffc7 6.75%,#28ffd7 7.25%,#48ffb7 7.75%,#68ff97 8.25%,#68ff97 8.75%,#78ff87 9.25%,#48ffb7 9.75%,#48ffb7 10.25%,#18ffe7 10.75%,#28ffd7 11.25%,#18ffe7 11.75%,#18ffe7 12.25%,#38ffc7 12.75%,#28ffd7 13.25%,#18ffe7 13.75%,#48ffb7 14.25%,#38ffc7 14.75%,#28ffd7 15.25%,#28ffd7 15.75%,#18ffe7 16.25%,#18ffe7 17.25%,#28ffd7 17.75%,#28ffd7 18.25%,#38ffc7 18.75%,#38ffc7 19.25%,#48ffb7 19.75%,#68ff97 20.25%,#78ff87 20.75%,#87ff78 21.25%,#78ff87 21.75%,#78ff87 22.25%,#68ff97 22.75%,#78ff87 23.25%,#78ff87 23.75%,#87ff78 24.25%,#a7ff58 24.75%,#a7ff58 25.25%,#c7ff38 25.75%,#d7ff28 26.25%,#b7ff48 26.75%,#c7ff38 27.25%,#d7ff28 27.75%,#c7ff38 28.25%,#c7ff38 30.25%,#b7ff48 30.75%,#b7ff48 31.25%,#a7ff58 31.75%,#b7ff48 32.25%,#d7ff28 32.75%,#c7ff38 33.25%,#c7ff38 33.75%,#d7ff28 34.25%,#d7ff28 34.75%,#b7ff48 35.25%,#c7ff38 35.75%,#d7ff28 36.25%,#d7ff28 36.75%,#b7ff48 37.25%,#e7ff18 37.75%,#c7ff38 38.25%,#e7ff18 38.75%,#d7ff28 39.25%,#d7ff28 39.75%,#e7ff18 40.25%,#e7ff18 41.25%,#d7ff28 41.75%,#d7ff28 42.25%,#c7ff38 42.75%,#e7ff18 43.25%,#d7ff28 43.75%,#c7ff38 44.25%,#f7ff08 44.75%,#f7ff08 45.25%,#d7ff28 45.75%,#f7ff08 46.25%,#e7ff18 46.75%,#e7ff18 47.25%,#f7ff08 47.75%,#e7ff18 48.25%,#d7ff28 48.75%,#f7ff08 49.25%,#f7ff08 50.25%,#e7ff18 50.75%,#e7ff18 51.25%,#f7ff08 51.75%,#f7ff08 52.25%,#fff700 52.75%,#f7ff08 53.25%,#f7ff08 53.75%,#fff700 54.25%,#e7ff18 54.75%,#f7ff08 55.25%,#c7ff38 55.75%,#d7ff28 56.25%,#d7ff28 56.75%,#e7ff18 57.25%,#fff700 57.75%,#e7ff18 58.25%,#f7ff08 58.75%,#fff700 59.25%,#fff700 59.75%,#ffe700 60.25%,#f7ff08 60.75%,#fff700 61.25%,#f7ff08 61.75%,#f7ff08 62.25%,#fff700 62.75%,#f7ff08 63.25%,#f7ff08 64.25%,#fff700 64.75%,#ffe700 65.25%,#ffe700 65.75%,#fff700 66.25%,#fff700 66.75%,#ffd700 67.25%,#fff700 67.75%,#fff700 68.25%,#f7ff08 68.75%,#f7ff08 69.25%,#e7ff18 69.75%,#c7ff38 70.25%,#e7ff18 70.75%,#e7ff18 71.75%,#f7ff08 72.25%,#e7ff18 72.75%,#d7ff28 73.25%,#d7ff28 73.75%,#e7ff18 74.25%,#d7ff28 74.75%,#d7ff28 75.25%,#e7ff18 75.75%,#d7ff28 76.25%,#d7ff28 76.75%,#c7ff38 77.25%,#f7ff08 77.75%,#fff700 78.25%,#fff700 78.75%,#f7ff08 79.25%,#fff700 79.75%,#fff700 80.25%,#ffe700 80.75%,#ffe700 81.25%,#f7ff08 81.75%,#f7ff08 82.75%,#ffe700 83.25%,#f7ff08 83.75%,#f7ff08 84.75%,#ffe700 85.25%,#ffe700 85.75%,#fff700 86.25%,#ffe700 86.75%,#f7ff08 87.25%,#fff700 87.75%,#f7ff08 88.25%,#fff700 88.75%,#fff700 89.25%,#e7ff18 89.75%,#e7ff18 90.25%,#f7ff08 90.75%,#fff700 91.25%,#fff700 91.75%,#f7ff08 92.25%,#f7ff08 92.75%,#fff700 93.25%,#e7ff18 93.75%,#f7ff08 94.25%,#fff700 94.75%,#e7ff18 95.25%,#f7ff08 95.75%,#ffe700 96.25%,#ffe700 97.75%,#fff700 98.25%,#ffd700 98.75%,#ffe700 99.25%,#ffe700 99.75%)"></div>
<div class="r" style="top:389.27px;height:30.24px;background:linear-gradient(90deg,#0048ff 0.25%,#0048ff 1.25%,#0068ff 1.75%,#00b7ff 2.25%,#00f7ff 2.75%,#00e7ff 3.25%,#00c7ff 3.75%,#00d7ff 4.25%,#08fff7 4.75%,#18ffe7 5.25%,#38ffc7 5.75%,#48ffb7 6.25%,#48ffb7 7.25%,#58ffa7 7.75%,#78ff87 8.25%,#78ff87 8.75%,#87ff78 9.25%,#68ff97 9.75%,#58ffa7 10.25%,#28ffd7 10.75%,#38ffc7 11.25%,#28ffd7 11.75%,#28ffd7 12.25%,#48ffb7 12.75%,#38ffc7 13.25%,#28ffd7 13.75%,#58ffa7 14.25%,#48ffb7 14.75%,#38ffc7 15.25%,#38ffc7 15.75%,#28ffd7 16.25%,#38ffc7 16.75%,#38ffc7 17.25%,#58ffa7 17.75%,#58ffa7 18.25%,#78ff87 18.75%,#68ff97 19.25%,#78ff87 19.75%,#97ff68 20.25%,#97ff68 20.75%,#a7ff58 21.25%,#97ff68 21.75%,#a7ff58 22.25%,#97ff68 22.75%,#97ff68 23.75%,#a7ff58 24.25%,#b7ff48 24.75%,#b7ff48 25.25%,#c7ff38 25.75%,#d7ff28 26.25%,#b7ff48 26.75%,#c7ff38 27.25%,#d7ff28 27.75%,#c7ff38 28.25%,#c7ff38 30.25%,#b7ff48 30.75%,#b7ff48 31.25%,#a7ff58 31.75%,#b7ff48 32.25%,#d7ff28 32.75%,#c7ff38 33.25%,#c7ff38 33.75%,#d7ff28 34.25%,#d7ff28 34.75%,#b7ff48 35.25%,#c7ff38 35.75%,#d7ff28 36.25%,#d7ff28 36.75%,#b7ff48 37.25%,#e7ff18 37.75%,#c7ff38 38.25%,#e7ff18 38.75%,#d7ff28 39.25%,#d7ff28 39.75%,#e7ff18 40.25%,#e7ff18 41.25%,#d7ff28 41.75%,#d7ff28 42.25%,#c7ff38 42.75%,#e7ff18 43.25%,#e7ff18 44.25%,#ffe700 44.75%,#ffe700 45.25%,#f7ff08 45.75%,#fff700 46.25%,#fff700 46.75%,#ffe700 47.25%,#ffc700 47.75%,#ffe700 48.25%,#ffe700 48.75%,#ffc700 49.25%,#ffd700 49.75%,#ffd700 50.25%,#fff700 50.75%,#ffe700 51.25%,#ffe700 51.75%,#ffd700 52.25%,#ffc700 52.75%,#ffe700 53.25%,#ffd700 53.75%,#ffc700 54.25%,#ffe700 54.75%,#ffc700 55.25%,#fff700 55.75%,#ffe700 56.25%,#fff700 56.75%,#ffd700 57.25%,#ffc700 57.75%,#ffd700 58.25%,#ffc700 58.75%,#ffb700 59.25%,#ffb700 59.75%,#ffa700 60.25%,#ffd700 60.75%,#ffb700 61.25%,#ffd700 61.75%,#ffd700 62.25%,#ffc700 62.75%,#ffc700 63.75%,#ffd700 64.25%,#ffb700 64.75%,#ffa700 65.25%,#ffa700 66.25%,#ffb700 66.75%,#ff9700 67.25%,#ffa700 67.75%,#ffb700 68.25%,#ffc700 68.75%,#ffc700 69.25%,#ffd700 69.75%,#fff700 70.25%,#ffd700 70.75%,#ffd700 71.75%,#ffc700 72.25%,#ffd700 72.75%,#ffd700 73.75%,#ffc700 74.25%,#ffd700 74.75%,#ffd700 75.25%,#ffc700 75.75%,#ffd700 76.25%,#ffd700 76.75%,#ffe700 77.25%,#ffc700 77.75%,#ffc700 78.25%,#ffb700 78.75%,#ffc700 79.25%,#ffb700 79.75%,#ffb700 80.25%,#ffa700 80.75%,#ffa700 81.25%,#ffd700 81.75%,#ffc700 82.25%,#ffd700 82.75%,#ffa700 83.25%,#ffc700 83.75%,#ffc700 84.75%,#ffb700 85.25%,#ffb700 86.75%,#ffd700 87.25%,#ffc700 87.75%,#ffd700 88.25%,#ffc700 88.75%,#ffc700 89.25%,#ffe700 89.75%,#ffe700 90.25%,#ffd700 90.75%,#ffc700 91.25%,#ffc700 91.75%,#ffd700 92.25%,#ffd700 92.75%,#ffc700 93.25%,#ffe700 93.75%,#ffc700 94.25%,#ffc700 94.75%,#ffe700 95.25%,#ffc700 95.75%,#ffb700 96.25%,#ffa700 96.75%,#ffa700 97.25%,#ff9700 97.75%,#ffa700 98.25%,#ff9700 98.75%,#ffa700 99.25%,#ffa700 99.75%)"></div>
<div class="r" style="top:419.21px;height:30.24px;background:linear-gradient(90deg,#0048ff 0.25%,#0048ff 0.75%,#0028ff 1.25%,#0068ff 1.75%,#00a7ff 2.25%,#08fff7 2.75%,#00f7ff 3.25%,#00d7ff 3.75%,#00e7ff 4.25%,#18ffe7 4.75%,#38ffc7 5.25%,#58ffa7 5.75%,#68ff97 6.25%,#68ff97 7.25%,#78ff87 7.75%,#87ff78 8.25%,#87ff78 8.75%,#97ff68 9.25%,#78ff87 9.75%,#78ff87 10.25%,#58ffa7 10.75%,#68ff97 11.25%,#48ffb7 11.75%,#58ffa7 12.25%,#68ff97 12.75%,#68ff97 13.25%,#48ffb7 13.75%,#78ff87 14.25%,#78ff87 14.75%,#68ff97 15.25%,#58ffa7 15.75%,#48ffb7 16.25%,#58ffa7 16.75%,#58ffa7 17.25%,#78ff87 17.75%,#78ff87 18.25%,#97ff68 18.75%,#87ff78 19.25%,#97ff68 19.75%,#b7ff48 20.25%,#b7ff48 20.75%,#c7ff38 21.25%,#c7ff38 22.25%,#b7ff48 22.75%,#b7ff48 23.25%,#d7ff28 23.75%,#f7ff08 24.25%,#fff700 24.75%,#f7ff08 25.25%,#fff700 25.75%,#ffe700 26.25%,#e7ff18 26.75%,#f7ff08 27.25%,#ffe700 27.75%,#f7ff08 28.25%,#f7ff08 28.75%,#fff700 29.25%,#fff700 30.25%,#f7ff08 30.75%,#f7ff08 31.25%,#e7ff18 31.75%,#f7ff08 32.25%,#fff700 32.75%,#fff700 34.25%,#ffe700 34.75%,#f7ff08 35.25%,#fff700 35.75%,#ffe700 36.25%,#fff700 36.75%,#e7ff18 37.25%,#ffe700 37.75%,#fff700 38.25%,#ffe700 38.75%,#fff700 39.25%,#fff700 39.75%,#ffd700 40.25%,#ffd700 41.25%,#fff700 41.75%,#fff700 42.25%,#f7ff08 42.75%,#ffd700 43.25%,#ffe700 43.75%,#ffd700 44.25%,#ff9700 44.75%,#ff9700 45.25%,#ffb700 45.75%,#ff9700 46.25%,#ffa700 46.75%,#ffa700 47.25%,#ff9700 47.75%,#ffa700 48.25%,#ffb700 48.75%,#ff9700 49.25%,#ff9700 49.75%,#ffa700 50.25%,#ffb700 50.75%,#ffb700 51.25%,#ffa700 51.75%,#ffa700 52.25%,#ff9700 52.75%,#ffa700 53.25%,#ffa700 53.75%,#ff9700 54.25%,#ffa700 54.75%,#ff9700 55.25%,#ffb700 55.75%,#ffa700 56.25%,#ffa700 56.75%,#ff9700 57.25%,#ff8700 57.75%,#ff9700 58.25%,#ff9700 58.75%,#ff8700 59.25%,#ff8700 59.75%,#ff7800 60.25%,#ff9700 60.75%,#ff8700 61.25%,#ffa700 61.75%,#ffa700 62.25%,#ff9700 62.75%,#ff9700 64.25%,#ff8700 64.75%,#ff8700 66.25%,#ff9700 66.75%,#ff7800 67.25%,#ff8700 67.75%,#ff9700 68.25%,#ffa700 68.75%,#ff9700 69.25%,#ffa700 69.75%,#ffc700 70.25%,#ffa700 70.75%,#ffa700 71.75%,#ff9700 72.25%,#ffa700 72.75%,#ffa700 73.75%,#ff9700 74.25%,#ffa700 74.75%,#ffa700 75.25%,#ff9700 75.75%,#ffa700 76.25%,#ffa700 76.75%,#ffb700 77.25%,#ff9700 77.75%,#ff8700 78.25%,#ff8700 78.75%,#ff9700 79.25%,#ff8700 79.75%,#ff8700 80.25%,#ff7800 80.75%,#ff7800 81.25%,#ff9700 81.75%,#ff9700 82.75%,#ff7800 83.25%,#ff9700 83.75%,#ff9700 84.75%,#ff8700 85.25%,#ff8700 86.25%,#ff7800 86.75%,#ff9700 87.25%,#ff9700 87.75%,#ffa700 88.25%,#ff8700 88.75%,#ff9700 89.25%,#ffa700 89.75%,#ffb700 90.25%,#ff9700 90.75%,#ff8700 91.25%,#ff9700 91.75%,#ffa700 92.25%,#ff9700 92.75%,#ff9700 93.25%,#ffa700 93.75%,#ff9700 94.25%,#ff9700 94.75%,#ffa700 95.25%,#ff9700 95.75%,#ff8700 96.25%,#ff7800 96.75%,#ff7800 97.75%,#ff8700 98.25%,#ff6800 98.75%,#ff8700 99.25%,#ff8700 99.75%)"></div>
<div class="r" style="top:449.16px;height:30.24px;background:linear-gradient(90deg,#0048ff 0.25%,#0048ff 0.75%,#0028ff 1.25%,#0078ff 1.75%,#00b7ff 2.25%,#38ffc7 2.75%,#28ffd7 3.25%,#18ffe7 3.75%,#18ffe7 4.25%,#58ffa7 4.75%,#78ff87 5.25%,#a7ff58 5.75%,#a7ff58 7.25%,#b7ff48 7.75%,#c7ff38 8.25%,#c7ff38 10.25%,#a7ff58 10.75%,#b7ff48 11.25%,#87ff78 11.75%,#97ff68 12.25%,#97ff68 13.25%,#78ff87 13.75%,#97ff68 14.25%,#97ff68 14.75%,#87ff78 15.25%,#87ff78 15.75%,#68ff97 16.25%,#78ff87 16.75%,#68ff97 17.25%,#78ff87 17.75%,#78ff87 18.25%,#97ff68 18.75%,#87ff78 19.25%,#97ff68 19.75%,#c7ff38 20.25%,#c7ff38 20.75%,#d7ff28 21.25%,#d7ff28 22.25%,#c7ff38 22.75%,#c7ff38 23.25%,#f7ff08 23.75%,#fff700 24.25%,#ffd700 24.75%,#ffd700 25.75%,#ffc700 26.25%,#ffe700 26.75%,#ffd700 27.25%,#ffc700 27.75%,#ffd700 28.25%,#ffd700 29.75%,#ffc700 30.25%,#ffd700 30.75%,#ffd700 31.25%,#ffe700 31.75%,#ffd700 32.25%,#ffb700 32.75%,#ffc700 33.25%,#ffc700 33.75%,#ffb700 34.25%,#ffb700 34.75%,#ffd700 35.25%,#ffc700 35.75%,#ffb700 36.25%,#ffc700 36.75%,#ffe700 37.25%,#ffc700 37.75%,#ffe700 38.25%,#ffc700 38.75%,#ffd700 39.25%,#ffd700 39.75%,#ffc700 40.25%,#ffc700 41.25%,#ffd700 41.75%,#ffd700 42.25%,#ffe700 42.75%,#ffc700 43.25%,#ffd700 43.75%,#ffd700 44.25%,#ffa700 44.75%,#ffa700 45.25%,#ffc700 45.75%,#ffa700 46.25%,#ffb700 46.75%,#ffb700 47.25%,#ffa700 47.75%,#ffc700 48.25%,#ffc700 48.75%,#ffa700 49.25%,#ffa700 50.25%,#ffb700 50.75%,#ffb700 51.25%,#ffa700 51.75%,#ffa700 52.25%,#ff9700 52.75%,#ffa700 53.25%,#ffa700 53.75%,#ff9700 54.25%,#ffb700 54.75%,#ff9700 55.25%,#ffc700 55.75%,#ffb700 56.25%,#ffb700 56.75%,#ffa700 57.25%,#ff9700 57.75%,#ffb700 58.25%,#ffb700 58.75%,#ffa700 59.25%,#ffa700 59.75%,#ff9700 60.25%,#ffb700 60.75%,#ffa700 61.25%,#ffc700 61.75%,#ffc700 63.75%,#ffd700 64.25%,#ffb700 64.75%,#ffb700 66.25%,#ffc700 66.75%,#ffa700 67.25%,#ffb700 67.75%,#ffc700 68.25%,#ffd700 68.75%,#ffc700 69.25%,#ffc700 69.75%,#ffe700 70.25%,#ffc700 70.75%,#ffc700 71.75%,#ffb700 72.25%,#ffc700 72.75%,#ffd700 73.25%,#ffd700 73.75%,#ffc700 74.25%,#ffd700 74.75%,#ffd700 75.25%,#ffc700 75.75%,#ffd700 76.25%,#ffd700 76.75%,#ffe700 77.25%,#ffc700 77.75%,#ffc700 78.25%,#ffb700 78.75%,#ffc700 79.25%,#ffb700 79.75%,#ffb700 80.25%,#ffa700 80.75%,#ffa700 81.25%,#ffd700 81.75%,#ffc700 82.25%,#ffd700 82.75%,#ffa700 83.25%,#ffc700 83.75%,#ffc700 84.25%,#ffb700 84.75%,#ffa700 85.25%,#ff9700 85.75%,#ff9700 86.75%,#ffa700 87.25%,#ffa700 87.75%,#ffb700 88.25%,#ffa700 88.75%,#ffa700 89.25%,#ffc700 89.75%,#ffc700 90.75%,#ffb700 91.25%,#ffb700 91.75%,#ffc700 92.25%,#ffc700 92.75%,#ffb700 93.25%,#ffc700 93.75%,#ffb700 94.25%,#ffb700 94.75%,#ffc700 95.25%,#ffb700 95.75%,#ffa700 96.25%,#ffa700 96.75%,#ff9700 97.25%,#ff9700 97.75%,#ffa700 98.25%,#ff9700 98.75%,#ffa700 99.25%,#ffa700 99.75%)"></div>
<div class="ln" style="left:73.8px;top:0.0px;width:6.5px;height:29.9px;background:#6ff08c"></div>
<div class="ln" style="left:73.8px;top:29.9px;width:6.5px;height:29.9px;background:#bff53c"></div>
<div class="ln" style="left:74.8px;top:59.9px;width:5.0px;height:29.9px;background:#d8f020"></div>
<div class="ln" style="left:75.8px;top:89.8px;width:3.5px;height:89.8px;background:#ffee00"></div>
<div class="ln" style="left:73.5px;top:179.7px;width:7.0px;height:59.9px;background:#ffd400"></div>
<div class="ln" style="left:76.3px;top:239.6px;width:4.5px;height:59.9px;background:#ff9a00"></div>
<div class="ln" style="left:73.5px;top:299.4px;width:7.0px;height:29.9px;background:#ff7a00"></div>
<div class="ln" style="left:76.6px;top:329.4px;width:4.0px;height:29.9px;background:#ff5a00"></div>
<div class="ln" style="left:76.6px;top:359.3px;width:4.0px;height:89.8px;background:#f52a0a"></div>
<div class="ln" style="left:78.0px;top:449.2px;width:2.6px;height:29.9px;background:#e02010"></div>
<div class="ln" style="left:85.2px;top:0.0px;width:2.4px;height:29.9px;background:#50e8b0"></div>
<div class="ln" style="left:85.2px;top:29.9px;width:2.4px;height:59.9px;background:#9fe860"></div>
<div class="ln" style="left:85.1px;top:89.8px;width:2.6px;height:89.8px;background:#ffe800"></div>
<div class="ln" style="left:84.6px;top:179.7px;width:2.4px;height:59.9px;background:#ffc400"></div>
<div class="ln" style="left:84.2px;top:239.6px;width:2.2px;height:59.9px;background:#f0a020"></div>
<div class="ln" style="left:84.5px;top:299.4px;width:1.6px;height:59.9px;background:#b09070"></div>
<div class="ln" style="left:84.6px;top:359.3px;width:1.4px;height:59.9px;background:#8a9aa0"></div>
<div class="ln" style="left:7.5px;top:329.4px;width:1.6px;height:29.9px;background:#c09a50"></div>
<div class="ln" style="left:7.3px;top:389.3px;width:1.6px;height:29.9px;background:#c09050"></div>
<div class="ln" style="left:6.3px;top:419.2px;width:3.0px;height:29.9px;background:#e07828"></div>
<div class="ln" style="left:4.8px;top:449.2px;width:4.0px;height:29.9px;background:#f04818"></div>
<div class="bd"></div>
</div>
<div class="yl" style="left:826.7px;top:14.6px">16LEU</div>
<div class="yl" style="left:826.7px;top:44.5px">15SER</div>
<div class="yl" style="left:826.7px;top:74.5px">14GLY</div>
<div class="yl" style="left:826.7px;top:104.4px">13PHE</div>
<div class="yl" style="left:826.7px;top:134.3px">12ALA</div>
<div class="yl" style="left:826.7px;top:164.3px">11GLY</div>
<div class="yl" style="left:826.7px;top:194.2px">10VAL</div>
<div class="yl" style="left:826.7px;top:224.2px">9VAL</div>
<div class="yl" style="left:826.7px;top:254.1px">8LYS</div>
<div class="yl" style="left:826.7px;top:284.1px">7LYS</div>
<div class="yl" style="left:826.7px;top:314.0px">6VAL</div>
<div class="yl" style="left:826.7px;top:344.0px">5ILE</div>
<div class="yl" style="left:826.7px;top:373.9px">4ASP</div>
<div class="yl" style="left:826.7px;top:403.8px">3PHE</div>
<div class="yl" style="left:826.7px;top:433.8px">2LEU</div>
<div class="yl" style="left:826.7px;top:463.7px">1GLY</div>
<div class="xl" style="left:910.5px;top:498.1px">0</div>
<div class="xl" style="left:962.5px;top:498.1px">10</div>
<div class="xl" style="left:1014.6px;top:498.1px">20</div>
<div class="xl" style="left:1066.6px;top:498.1px">30</div>
<div class="xl" style="left:1118.6px;top:498.1px">40</div>
<div class="xl" style="left:1170.6px;top:498.1px">50</div>
<div class="xl" style="left:1222.7px;top:498.1px">60</div>
<div class="xl" style="left:1274.7px;top:498.1px">70</div>
<div class="xl" style="left:1326.7px;top:498.1px">80</div>
<div class="xl" style="left:1378.8px;top:498.1px">90</div>
<div class="xl" style="left:1430.8px;top:498.1px">100</div>
<div class="xt" style="left:1138.1px;top:532.1px">Time (ns)</div>
<div class="rt rs" style="left:843.2px;top:251.1px"><span>Residue</span></div>
<div class="cb" style="left:1473.3px;top:10.0px;width:26.0px;height:479.1px"><div class="cg"></div>
<i style="top:79.3px;left:1px"></i><i style="top:79.3px;right:1px"></i>
<i style="top:159.2px;left:1px"></i><i style="top:159.2px;right:1px"></i>
<i style="top:239.1px;left:1px"></i><i style="top:239.1px;right:1px"></i>
<i style="top:318.9px;left:1px"></i><i style="top:318.9px;right:1px"></i>
<i style="top:398.8px;left:1px"></i><i style="top:398.8px;right:1px"></i>
<div class="bd"></div></div>
<div class="cl" style="left:1516.2px;top:-3.5px">1</div>
<div class="cl" style="left:1516.2px;top:76.2px">0.5</div>
<div class="cl" style="left:1516.2px;top:155.8px">0</div>
<div class="cl" style="left:1509.9px;top:235.5px">-0.5</div>
<div class="cl" style="left:1509.9px;top:315.2px">-1</div>
<div class="cl" style="left:1509.9px;top:394.8px">-1.5</div>
<div class="cl" style="left:1509.9px;top:474.5px">-2</div>
<div class="rt" style="left:1562.4px;top:251.2px"><span>Z Position (nm)</span></div>
<div class="pl" style="left:167.9px;top:585.9px;width:520.3px;height:478.8px">
<div class="r" style="top:0.00px;height:37.13px;background:linear-gradient(90deg,#000087 0.25%,#000087 1.25%,#000097 1.75%,#0000a7 2.25%,#0000a7 2.75%,#0000b7 3.25%,#0000b7 4.25%,#0000d7 4.75%,#0000d7 5.75%,#0000c7 6.25%,#0000d7 6.75%,#0000a7 7.25%,#0000d7 7.75%,#0000f7 8.25%,#0000f7 8.75%,#0008ff 9.25%,#0000f7 9.75%,#0008ff 10.25%,#0058ff 10.75%,#0038ff 11.25%,#0078ff 11.75%,#0078ff 12.75%,#0038ff 13.25%,#0038ff 13.75%,#0068ff 14.25%,#0038ff 14.75%,#0068ff 15.25%,#0068ff 15.75%,#0058ff 16.25%,#0018ff 16.75%,#0058ff 17.25%,#0058ff 18.25%,#0028ff 18.75%,#0028ff 19.25%,#0048ff 19.75%,#0028ff 20.25%,#0038ff 20.75%,#0028ff 21.25%,#0028ff 21.75%,#0048ff 22.25%,#0018ff 22.75%,#0028ff 23.25%,#0058ff 23.75%,#0018ff 24.25%,#0008ff 24.75%,#0058ff 25.25%,#0028ff 25.75%,#0078ff 26.25%,#0068ff 26.75%,#0068ff 27.25%,#0078ff 27.75%,#0038ff 28.25%,#0038ff 28.75%,#0068ff 29.25%,#0078ff 29.75%,#0087ff 30.25%,#0087ff 30.75%,#0068ff 31.25%,#0078ff 31.75%,#0087ff 32.25%,#0097ff 32.75%,#0097ff 33.25%,#0087ff 33.75%,#00a7ff 34.25%,#0087ff 34.75%,#0068ff 35.25%,#0097ff 35.75%,#0087ff 36.25%,#00b7ff 36.75%,#00c7ff 37.25%,#00d7ff 37.75%,#18ffe7 38.25%,#58ffa7 38.75%,#87ff78 39.25%,#38ffc7 39.75%,#00b7ff 40.25%,#00c7ff 40.75%,#00b7ff 41.25%,#0097ff 41.75%,#0068ff 42.25%,#0068ff 42.75%,#0078ff 43.25%,#0097ff 43.75%,#0068ff 44.25%,#0068ff 44.75%,#0087ff 45.25%,#0087ff 45.75%,#00a7ff 46.25%,#0097ff 46.75%,#0068ff 47.25%,#0068ff 47.75%,#00a7ff 48.25%,#0097ff 48.75%,#00a7ff 49.25%,#0087ff 49.75%,#00c7ff 50.25%,#00c7ff 51.25%,#00e7ff 51.75%,#00b7ff 52.25%,#00c7ff 52.75%,#18ffe7 53.25%,#18ffe7 53.75%,#00d7ff 54.25%,#00c7ff 54.75%,#00c7ff 55.25%,#00d7ff 55.75%,#00e7ff 56.25%,#00b7ff 56.75%,#00a7ff 57.25%,#00d7ff 57.75%,#00b7ff 58.25%,#0097ff 58.75%,#00d7ff 59.25%,#00b7ff 59.75%,#0087ff 60.25%,#0087ff 60.75%,#0058ff 61.25%,#0068ff 61.75%,#0048ff 62.25%,#0068ff 62.75%,#0078ff 63.25%,#0078ff 63.75%,#0068ff 64.25%,#0058ff 64.75%,#0097ff 65.25%,#00c7ff 65.75%,#18ffe7 66.25%,#08fff7 66.75%,#00d7ff 67.25%,#00e7ff 67.75%,#00f7ff 68.25%,#00f7ff 68.75%,#00e7ff 69.25%,#00f7ff 69.75%,#00d7ff 70.25%,#00b7ff 70.75%,#00c7ff 71.25%,#00f7ff 71.75%,#00e7ff 72.25%,#00b7ff 72.75%,#08fff7 73.25%,#08fff7 73.75%,#00f7ff 74.25%,#00c7ff 74.75%,#00e7ff 75.25%,#18ffe7 75.75%,#00e7ff 76.25%,#00f7ff 76.75%,#08fff7 77.25%,#18ffe7 77.75%,#48ffb7 78.25%,#48ffb7 78.75%,#18ffe7 79.25%,#48ffb7 79.75%,#08fff7 80.25%,#58ffa7 80.75%,#58ffa7 81.25%,#48ffb7 81.75%,#18ffe7 82.25%,#18ffe7 82.75%,#00f7ff 83.25%,#38ffc7 83.75%,#38ffc7 84.25%,#58ffa7 84.75%,#58ffa7 85.25%,#28ffd7 85.75%,#18ffe7 86.25%,#48ffb7 86.75%,#28ffd7 87.25%,#48ffb7 87.75%,#18ffe7 88.25%,#18ffe7 88.75%,#08fff7 89.25%,#58ffa7 89.75%,#08fff7 90.25%,#00e7ff 90.75%,#00e7ff 91.25%,#00f7ff 91.75%,#00f7ff 93.25%,#18ffe7 93.75%,#28ffd7 94.25%,#58ffa7 94.75%,#38ffc7 95.25%,#38ffc7 95.75%,#08fff7 96.25%,#28ffd7 96.75%,#08fff7 97.25%,#08fff7 97.75%,#38ffc7 98.25%,#38ffc7 98.75%,#18ffe7 99.25%,#38ffc7 99.75%)"></div>
<div class="r" style="top:36.83px;height:37.13px;background:linear-gradient(90deg,#000097 0.25%,#000097 0.75%,#000087 1.25%,#0000a7 1.75%,#0000b7 2.25%,#0000b7 2.75%,#0000d7 3.25%,#0008ff 3.75%,#0000f7 4.25%,#0000f7 4.75%,#0000e7 5.25%,#0000f7 5.75%,#0000d7 6.25%,#0000e7 6.75%,#0000b7 7.25%,#0000e7 7.75%,#0008ff 8.25%,#0018ff 8.75%,#0018ff 9.25%,#0008ff 9.75%,#0018ff 10.25%,#0078ff 10.75%,#0068ff 11.25%,#00a7ff 11.75%,#0097ff 12.25%,#00a7ff 12.75%,#0058ff 13.25%,#0068ff 13.75%,#0097ff 14.25%,#0068ff 14.75%,#0087ff 15.25%,#0097ff 15.75%,#0097ff 16.25%,#0058ff 16.75%,#0097ff 17.25%,#0087ff 17.75%,#0097ff 18.25%,#0068ff 18.75%,#0068ff 19.25%,#0078ff 19.75%,#0068ff 20.25%,#0078ff 20.75%,#0068ff 21.25%,#0068ff 21.75%,#0087ff 22.25%,#0058ff 22.75%,#0068ff 23.25%,#0097ff 23.75%,#0058ff 24.25%,#0048ff 24.75%,#0097ff 25.25%,#0058ff 25.75%,#00a7ff 26.25%,#0097ff 26.75%,#0087ff 27.25%,#00a7ff 27.75%,#0068ff 28.25%,#0068ff 28.75%,#00a7ff 29.25%,#00b7ff 29.75%,#00c7ff 30.25%,#00c7ff 30.75%,#00a7ff 31.25%,#00b7ff 31.75%,#00c7ff 32.25%,#00c7ff 32.75%,#00d7ff 33.25%,#00b7ff 33.75%,#00e7ff 34.25%,#00b7ff 34.75%,#00a7ff 35.25%,#00d7ff 35.75%,#00b7ff 36.25%,#00e7ff 36.75%,#00e7ff 37.25%,#00f7ff 37.75%,#48ffb7 38.25%,#87ff78 38.75%,#c7ff38 39.25%,#78ff87 39.75%,#00e7ff 40.25%,#08fff7 40.75%,#00e7ff 41.25%,#00c7ff 41.75%,#00a7ff 42.25%,#00b7ff 42.75%,#00c7ff 43.25%,#00e7ff 43.75%,#00b7ff 44.25%,#00a7ff 44.75%,#00c7ff 45.25%,#00d7ff 45.75%,#00e7ff 46.25%,#00e7ff 46.75%,#00a7ff 47.25%,#00a7ff 47.75%,#00f7ff 48.25%,#00e7ff 48.75%,#00f7ff 49.25%,#00d7ff 49.75%,#00f7ff 50.25%,#00f7ff 50.75%,#08fff7 51.25%,#18ffe7 51.75%,#00e7ff 52.25%,#00f7ff 52.75%,#48ffb7 53.25%,#48ffb7 53.75%,#08fff7 54.25%,#00f7ff 54.75%,#00f7ff 55.25%,#08fff7 55.75%,#28ffd7 56.25%,#00f7ff 56.75%,#00e7ff 57.25%,#18ffe7 57.75%,#00f7ff 58.25%,#00d7ff 58.75%,#18ffe7 59.25%,#00f7ff 59.75%,#00d7ff 60.25%,#00c7ff 60.75%,#0097ff 61.25%,#00a7ff 61.75%,#0087ff 62.25%,#00a7ff 62.75%,#00b7ff 63.25%,#00b7ff 63.75%,#00a7ff 64.25%,#0097ff 64.75%,#00d7ff 65.25%,#00f7ff 65.75%,#48ffb7 66.25%,#38ffc7 66.75%,#08fff7 67.25%,#18ffe7 67.75%,#28ffd7 68.25%,#38ffc7 68.75%,#18ffe7 69.25%,#28ffd7 69.75%,#08fff7 70.25%,#00e7ff 70.75%,#00f7ff 71.25%,#28ffd7 71.75%,#18ffe7 72.25%,#00f7ff 72.75%,#38ffc7 73.25%,#48ffb7 73.75%,#28ffd7 74.25%,#08fff7 74.75%,#18ffe7 75.25%,#48ffb7 75.75%,#18ffe7 76.25%,#28ffd7 76.75%,#38ffc7 77.25%,#58ffa7 77.75%,#78ff87 78.25%,#87ff78 78.75%,#58ffa7 79.25%,#78ff87 79.75%,#48ffb7 80.25%,#87ff78 80.75%,#87ff78 81.25%,#78ff87 81.75%,#48ffb7 82.25%,#48ffb7 82.75%,#38ffc7 83.25%,#68ff97 83.75%,#78ff87 84.25%,#87ff78 84.75%,#87ff78 85.25%,#68ff97 85.75%,#58ffa7 86.25%,#78ff87 86.75%,#58ffa7 87.25%,#78ff87 87.75%,#48ffb7 88.25%,#58ffa7 88.75%,#38ffc7 89.25%,#87ff78 89.75%,#28ffd7 90.25%,#00f7ff 90.75%,#00f7ff 91.25%,#08fff7 91.75%,#08fff7 93.25%,#18ffe7 93.75%,#48ffb7 94.25%,#68ff97 94.75%,#48ffb7 95.25%,#48ffb7 95.75%,#18ffe7 96.25%,#38ffc7 96.75%,#18ffe7 97.25%,#28ffd7 97.75%,#97ff68 98.25%,#97ff68 98.75%,#78ff87 99.25%,#a7ff58 99.75%)"></div>
<div class="r" style="top:73.66px;height:37.13px;background:linear-gradient(90deg,#0000d7 0.25%,#0000d7 0.75%,#0000b7 1.25%,#0000f7 1.75%,#0000f7 2.25%,#0008ff 2.75%,#0018ff 3.25%,#0018ff 3.75%,#0028ff 4.25%,#0028ff 4.75%,#0018ff 5.25%,#0028ff 5.75%,#0008ff 6.25%,#0028ff 6.75%,#0000e7 7.25%,#0018ff 7.75%,#0038ff 8.25%,#0048ff 8.75%,#0058ff 9.25%,#0038ff 9.75%,#0048ff 10.25%,#0087ff 10.75%,#0068ff 11.25%,#00a7ff 11.75%,#00a7ff 12.25%,#00b7ff 12.75%,#0068ff 13.25%,#0078ff 13.75%,#00a7ff 14.25%,#0068ff 14.75%,#0097ff 15.25%,#00a7ff 15.75%,#00b7ff 16.25%,#0087ff 16.75%,#00c7ff 17.25%,#00b7ff 17.75%,#00c7ff 18.25%,#0097ff 18.75%,#0097ff 19.25%,#00a7ff 19.75%,#0097ff 20.25%,#00a7ff 20.75%,#0097ff 21.25%,#0097ff 21.75%,#00b7ff 22.25%,#0087ff 22.75%,#0087ff 23.25%,#00c7ff 23.75%,#0078ff 24.25%,#0078ff 24.75%,#00c7ff 25.25%,#0087ff 25.75%,#00d7ff 26.25%,#00c7ff 26.75%,#00b7ff 27.25%,#00c7ff 27.75%,#0097ff 28.25%,#0097ff 28.75%,#00b7ff 29.25%,#00c7ff 29.75%,#00c7ff 30.25%,#00d7ff 30.75%,#00a7ff 31.25%,#00b7ff 31.75%,#00d7ff 32.25%,#00d7ff 33.25%,#00c7ff 33.75%,#00e7ff 34.25%,#00c7ff 34.75%,#00a7ff 35.25%,#00e7ff 35.75%,#00b7ff 36.25%,#08fff7 36.75%,#08fff7 37.25%,#28ffd7 37.75%,#68ff97 38.25%,#97ff68 38.75%,#c7ff38 39.25%,#87ff78 39.75%,#08fff7 40.25%,#28ffd7 40.75%,#18ffe7 41.25%,#00f7ff 41.75%,#00d7ff 42.25%,#00d7ff 42.75%,#00f7ff 43.25%,#08fff7 43.75%,#00c7ff 44.25%,#00b7ff 44.75%,#00d7ff 45.25%,#00e7ff 45.75%,#00f7ff 46.25%,#00f7ff 46.75%,#00c7ff 47.25%,#00b7ff 47.75%,#00f7ff 48.25%,#00e7ff 48.75%,#00f7ff 49.25%,#00d7ff 49.75%,#00f7ff 50.25%,#00e7ff 50.75%,#00f7ff 51.25%,#08fff7 51.75%,#00d7ff 52.25%,#00f7ff 52.75%,#38ffc7 53.25%,#38ffc7 53.75%,#00f7ff 54.25%,#00e7ff 54.75%,#00f7ff 55.25%,#00f7ff 55.75%,#18ffe7 56.25%,#00e7ff 56.75%,#00e7ff 57.25%,#18ffe7 57.75%,#00f7ff 58.25%,#00e7ff 58.75%,#18ffe7 59.25%,#00f7ff 59.75%,#00d7ff 60.25%,#00d7ff 60.75%,#00a7ff 61.25%,#00c7ff 61.75%,#00a7ff 62.25%,#00b7ff 62.75%,#00d7ff 63.25%,#00d7ff 63.75%,#00c7ff 64.25%,#00a7ff 64.75%,#00d7ff 65.25%,#00e7ff 65.75%,#38ffc7 66.25%,#28ffd7 66.75%,#00f7ff 67.25%,#08fff7 67.75%,#18ffe7 68.25%,#28ffd7 68.75%,#08fff7 69.25%,#18ffe7 69.75%,#00f7ff 70.25%,#00d7ff 70.75%,#00e7ff 71.25%,#18ffe7 71.75%,#08fff7 72.25%,#00d7ff 72.75%,#28ffd7 73.25%,#38ffc7 73.75%,#18ffe7 74.25%,#00f7ff 74.75%,#08fff7 75.25%,#38ffc7 75.75%,#08fff7 76.25%,#18ffe7 76.75%,#18ffe7 77.25%,#28ffd7 77.75%,#58ffa7 78.25%,#58ffa7 78.75%,#28ffd7 79.25%,#58ffa7 79.75%,#28ffd7 80.25%,#68ff97 80.75%,#68ff97 81.25%,#58ffa7 81.75%,#28ffd7 82.25%,#28ffd7 82.75%,#18ffe7 83.25%,#48ffb7 83.75%,#48ffb7 84.25%,#68ff97 84.75%,#68ff97 85.25%,#38ffc7 85.75%,#28ffd7 86.25%,#58ffa7 86.75%,#38ffc7 87.25%,#58ffa7 87.75%,#28ffd7 88.25%,#28ffd7 88.75%,#18ffe7 89.25%,#68ff97 89.75%,#08fff7 90.25%,#00f7ff 90.75%,#00f7ff 91.25%,#08fff7 91.75%,#08fff7 92.25%,#18ffe7 92.75%,#08fff7 93.25%,#28ffd7 93.75%,#48ffb7 94.25%,#58ffa7 94.75%,#38ffc7 95.25%,#38ffc7 95.75%,#08fff7 96.25%,#28ffd7 96.75%,#08fff7 97.25%,#08fff7 97.75%,#38ffc7 98.25%,#38ffc7 98.75%,#18ffe7 99.25%,#38ffc7 99.75%)"></div>
<div class="r" style="top:110.49px;height:37.13px;background:linear-gradient(90deg,#0000f7 0.25%,#0000e7 0.75%,#0000c7 1.25%,#0008ff 1.75%,#0008ff 2.25%,#0018ff 2.75%,#0028ff 3.25%,#0028ff 3.75%,#0038ff 4.25%,#0038ff 5.75%,#0018ff 6.25%,#0038ff 6.75%,#0000f7 7.25%,#0028ff 7.75%,#0048ff 8.25%,#0048ff 8.75%,#0058ff 9.25%,#0038ff 9.75%,#0048ff 10.25%,#0078ff 10.75%,#0068ff 11.25%,#00a7ff 11.75%,#0097ff 12.25%,#00a7ff 12.75%,#0058ff 13.25%,#0068ff 13.75%,#0097ff 14.25%,#0068ff 14.75%,#0087ff 15.25%,#0097ff 15.75%,#00b7ff 16.25%,#0087ff 16.75%,#00c7ff 17.25%,#00c7ff 18.25%,#0097ff 18.75%,#0097ff 19.25%,#00b7ff 19.75%,#00a7ff 20.25%,#00a7ff 20.75%,#0097ff 21.25%,#0097ff 21.75%,#00b7ff 22.25%,#0087ff 22.75%,#0097ff 23.25%,#00c7ff 23.75%,#0087ff 24.25%,#0078ff 24.75%,#00c7ff 25.25%,#0097ff 25.75%,#00e7ff 26.25%,#00c7ff 26.75%,#00c7ff 27.25%,#00d7ff 27.75%,#0097ff 28.25%,#0097ff 28.75%,#00b7ff 29.25%,#00b7ff 29.75%,#00c7ff 30.25%,#00c7ff 30.75%,#00a7ff 31.25%,#00b7ff 31.75%,#00c7ff 32.25%,#00c7ff 32.75%,#00d7ff 33.25%,#00b7ff 33.75%,#00e7ff 34.25%,#00b7ff 34.75%,#00a7ff 35.25%,#00d7ff 35.75%,#00b7ff 36.25%,#18ffe7 36.75%,#18ffe7 37.25%,#38ffc7 37.75%,#78ff87 38.25%,#a7ff58 38.75%,#d7ff28 39.25%,#87ff78 39.75%,#08fff7 40.25%,#28ffd7 40.75%,#18ffe7 41.25%,#00f7ff 41.75%,#00d7ff 42.25%,#00d7ff 42.75%,#00f7ff 43.25%,#08fff7 43.75%,#00c7ff 44.25%,#00b7ff 44.75%,#00d7ff 45.25%,#00e7ff 45.75%,#00f7ff 46.25%,#00f7ff 46.75%,#00c7ff 47.25%,#00b7ff 47.75%,#00f7ff 48.25%,#00e7ff 48.75%,#00f7ff 49.25%,#00d7ff 49.75%,#00f7ff 50.25%,#00e7ff 50.75%,#00f7ff 51.25%,#08fff7 51.75%,#00d7ff 52.25%,#00f7ff 52.75%,#38ffc7 53.25%,#38ffc7 53.75%,#00f7ff 54.25%,#00e7ff 54.75%,#00f7ff 55.25%,#00f7ff 55.75%,#18ffe7 56.25%,#00e7ff 56.75%,#00e7ff 57.25%,#18ffe7 57.75%,#00f7ff 58.25%,#00e7ff 58.75%,#18ffe7 59.25%,#00f7ff 59.75%,#00d7ff 60.25%,#00d7ff 60.75%,#00a7ff 61.25%,#00c7ff 61.75%,#00a7ff 62.25%,#00b7ff 62.75%,#00d7ff 63.25%,#00d7ff 63.75%,#00c7ff 64.25%,#00a7ff 64.75%,#00d7ff 65.25%,#00e7ff 65.75%,#38ffc7 66.25%,#28ffd7 66.75%,#00f7ff 67.25%,#08fff7 67.75%,#18ffe7 68.25%,#28ffd7 68.75%,#08fff7 69.25%,#18ffe7 69.75%,#00f7ff 70.25%,#00d7ff 70.75%,#00e7ff 71.25%,#18ffe7 71.75%,#08fff7 72.25%,#00d7ff 72.75%,#28ffd7 73.25%,#38ffc7 73.75%,#18ffe7 74.25%,#00f7ff 74.75%,#08fff7 75.25%,#38ffc7 75.75%,#08fff7 76.25%,#18ffe7 76.75%,#28ffd7 77.25%,#38ffc7 77.75%,#68ff97 78.25%,#68ff97 78.75%,#38ffc7 79.25%,#68ff97 79.75%,#38ffc7 80.25%,#78ff87 80.75%,#78ff87 81.25%,#68ff97 81.75%,#38ffc7 82.25%,#38ffc7 82.75%,#28ffd7 83.25%,#58ffa7 83.75%,#68ff97 84.25%,#78ff87 84.75%,#78ff87 85.25%,#48ffb7 85.75%,#48ffb7 86.25%,#68ff97 86.75%,#48ffb7 87.25%,#68ff97 87.75%,#38ffc7 88.25%,#38ffc7 88.75%,#28ffd7 89.25%,#78ff87 89.75%,#28ffd7 90.25%,#08fff7 90.75%,#08fff7 91.25%,#18ffe7 91.75%,#18ffe7 92.25%,#28ffd7 92.75%,#28ffd7 93.25%,#38ffc7 93.75%,#58ffa7 94.25%,#68ff97 94.75%,#48ffb7 95.25%,#48ffb7 95.75%,#18ffe7 96.25%,#38ffc7 96.75%,#18ffe7 97.25%,#18ffe7 97.75%,#48ffb7 98.25%,#48ffb7 98.75%,#28ffd7 99.25%,#58ffa7 99.75%)"></div>
<div class="r" style="top:147.32px;height:37.13px;background:linear-gradient(90deg,#0000d7 0.25%,#0000d7 0.75%,#0000b7 1.25%,#0000f7 1.75%,#0000f7 2.25%,#0008ff 2.75%,#0018ff 3.25%,#0018ff 4.75%,#0008ff 5.25%,#0018ff 5.75%,#0000f7 6.25%,#0008ff 6.75%,#0000d7 7.25%,#0008ff 7.75%,#0028ff 8.25%,#0038ff 8.75%,#0038ff 9.25%,#0028ff 9.75%,#0028ff 10.25%,#0068ff 10.75%,#0048ff 11.25%,#0087ff 11.75%,#0087ff 12.75%,#0048ff 13.25%,#0058ff 13.75%,#0078ff 14.25%,#0048ff 14.75%,#0078ff 15.25%,#0087ff 15.75%,#00b7ff 16.25%,#0097ff 16.75%,#00d7ff 17.25%,#00c7ff 17.75%,#00d7ff 18.25%,#00a7ff 18.75%,#00a7ff 19.25%,#00b7ff 19.75%,#00a7ff 20.25%,#00b7ff 20.75%,#00a7ff 21.25%,#00a7ff 21.75%,#00c7ff 22.25%,#0097ff 22.75%,#0097ff 23.25%,#00d7ff 23.75%,#0087ff 24.25%,#0087ff 24.75%,#00d7ff 25.25%,#00a7ff 25.75%,#08fff7 26.25%,#00f7ff 26.75%,#00e7ff 27.25%,#08fff7 27.75%,#00c7ff 28.25%,#00c7ff 28.75%,#00d7ff 29.25%,#00e7ff 29.75%,#00f7ff 30.25%,#00f7ff 30.75%,#00d7ff 31.25%,#00e7ff 31.75%,#00f7ff 32.25%,#08fff7 32.75%,#08fff7 33.25%,#00f7ff 33.75%,#18ffe7 34.25%,#00f7ff 34.75%,#00d7ff 35.25%,#08fff7 35.75%,#00e7ff 36.25%,#18ffe7 36.75%,#18ffe7 37.25%,#38ffc7 37.75%,#78ff87 38.25%,#b7ff48 38.75%,#fff700 39.25%,#a7ff58 39.75%,#28ffd7 40.25%,#48ffb7 40.75%,#38ffc7 41.25%,#18ffe7 41.75%,#00f7ff 42.25%,#08fff7 42.75%,#18ffe7 43.25%,#38ffc7 43.75%,#00e7ff 44.25%,#00e7ff 44.75%,#00f7ff 45.25%,#08fff7 45.75%,#28ffd7 46.25%,#18ffe7 46.75%,#00e7ff 47.25%,#00e7ff 47.75%,#28ffd7 48.25%,#18ffe7 48.75%,#28ffd7 49.25%,#08fff7 49.75%,#38ffc7 50.25%,#38ffc7 51.25%,#48ffb7 51.75%,#28ffd7 52.25%,#38ffc7 52.75%,#87ff78 53.25%,#78ff87 53.75%,#48ffb7 54.25%,#38ffc7 54.75%,#38ffc7 55.25%,#48ffb7 55.75%,#58ffa7 56.25%,#38ffc7 56.75%,#28ffd7 57.25%,#58ffa7 57.75%,#28ffd7 58.25%,#18ffe7 58.75%,#48ffb7 59.25%,#38ffc7 59.75%,#08fff7 60.25%,#08fff7 60.75%,#00e7ff 61.25%,#00f7ff 61.75%,#00d7ff 62.25%,#00f7ff 62.75%,#08fff7 63.25%,#08fff7 63.75%,#00f7ff 64.25%,#00d7ff 64.75%,#18ffe7 65.25%,#38ffc7 65.75%,#78ff87 66.25%,#68ff97 66.75%,#38ffc7 67.25%,#48ffb7 67.75%,#58ffa7 68.25%,#68ff97 68.75%,#58ffa7 69.25%,#58ffa7 69.75%,#38ffc7 70.25%,#28ffd7 70.75%,#38ffc7 71.25%,#68ff97 71.75%,#58ffa7 72.25%,#28ffd7 72.75%,#68ff97 73.25%,#78ff87 73.75%,#58ffa7 74.25%,#38ffc7 74.75%,#58ffa7 75.25%,#78ff87 75.75%,#48ffb7 76.25%,#58ffa7 76.75%,#78ff87 77.25%,#87ff78 77.75%,#b7ff48 78.25%,#b7ff48 78.75%,#87ff78 79.25%,#b7ff48 79.75%,#87ff78 80.25%,#c7ff38 80.75%,#c7ff38 81.25%,#b7ff48 81.75%,#87ff78 82.25%,#87ff78 82.75%,#68ff97 83.25%,#a7ff58 83.75%,#a7ff58 84.25%,#c7ff38 84.75%,#c7ff38 85.25%,#97ff68 85.75%,#87ff78 86.25%,#b7ff48 86.75%,#97ff68 87.25%,#b7ff48 87.75%,#87ff78 88.25%,#87ff78 88.75%,#78ff87 89.25%,#c7ff38 89.75%,#68ff97 90.25%,#18ffe7 90.75%,#18ffe7 91.25%,#28ffd7 91.75%,#28ffd7 92.25%,#38ffc7 92.75%,#58ffa7 93.25%,#78ff87 93.75%,#87ff78 94.25%,#97ff68 94.75%,#87ff78 95.25%,#78ff87 95.75%,#48ffb7 96.25%,#68ff97 96.75%,#48ffb7 97.25%,#58ffa7 97.75%,#c7ff38 98.25%,#c7ff38 98.75%,#b7ff48 99.25%,#d7ff28 99.75%)"></div>
<div class="r" style="top:184.15px;height:37.13px;background:linear-gradient(90deg,#0028ff 0.25%,#0028ff 0.75%,#0000f7 1.25%,#0038ff 1.75%,#0038ff 2.25%,#0048ff 2.75%,#0058ff 3.25%,#0068ff 3.75%,#0068ff 5.75%,#0048ff 6.25%,#0068ff 6.75%,#0038ff 7.25%,#0058ff 7.75%,#0087ff 8.25%,#0087ff 8.75%,#0097ff 9.25%,#0078ff 9.75%,#0097ff 10.25%,#00e7ff 10.75%,#00d7ff 11.25%,#18ffe7 11.75%,#18ffe7 12.75%,#00d7ff 13.25%,#00e7ff 13.75%,#08fff7 14.25%,#00d7ff 14.75%,#08fff7 15.25%,#18ffe7 15.75%,#38ffc7 16.25%,#18ffe7 16.75%,#58ffa7 17.25%,#48ffb7 17.75%,#58ffa7 18.25%,#28ffd7 18.75%,#28ffd7 19.25%,#38ffc7 19.75%,#28ffd7 20.25%,#38ffc7 20.75%,#28ffd7 21.25%,#18ffe7 21.75%,#38ffc7 22.25%,#00f7ff 22.75%,#08fff7 23.25%,#48ffb7 23.75%,#00f7ff 24.25%,#00f7ff 24.75%,#48ffb7 25.25%,#08fff7 25.75%,#48ffb7 26.25%,#28ffd7 26.75%,#28ffd7 27.25%,#38ffc7 27.75%,#00f7ff 28.25%,#08fff7 28.75%,#38ffc7 29.25%,#48ffb7 29.75%,#48ffb7 30.25%,#58ffa7 30.75%,#28ffd7 31.25%,#38ffc7 31.75%,#58ffa7 32.25%,#58ffa7 33.25%,#48ffb7 33.75%,#68ff97 34.25%,#48ffb7 34.75%,#28ffd7 35.25%,#68ff97 35.75%,#38ffc7 36.25%,#78ff87 36.75%,#68ff97 37.25%,#87ff78 37.75%,#c7ff38 38.25%,#f7ff08 38.75%,#ffc700 39.25%,#f7ff08 39.75%,#97ff68 40.25%,#a7ff58 40.75%,#97ff68 41.25%,#78ff87 41.75%,#58ffa7 42.25%,#68ff97 42.75%,#87ff78 43.25%,#97ff68 43.75%,#58ffa7 44.25%,#48ffb7 44.75%,#68ff97 45.25%,#78ff87 45.75%,#87ff78 46.25%,#87ff78 46.75%,#58ffa7 47.25%,#48ffb7 47.75%,#87ff78 48.25%,#78ff87 48.75%,#87ff78 49.25%,#68ff97 49.75%,#a7ff58 50.25%,#b7ff48 50.75%,#b7ff48 51.25%,#c7ff38 51.75%,#a7ff58 52.25%,#b7ff48 52.75%,#f7ff08 53.25%,#f7ff08 53.75%,#c7ff38 54.25%,#b7ff48 54.75%,#b7ff48 55.75%,#d7ff28 56.25%,#a7ff58 56.75%,#97ff68 57.25%,#b7ff48 57.75%,#97ff68 58.25%,#87ff78 58.75%,#b7ff48 59.25%,#97ff68 59.75%,#78ff87 60.25%,#78ff87 60.75%,#58ffa7 61.25%,#78ff87 61.75%,#58ffa7 62.25%,#68ff97 62.75%,#87ff78 63.25%,#87ff78 63.75%,#78ff87 64.25%,#48ffb7 64.75%,#78ff87 65.25%,#87ff78 65.75%,#c7ff38 66.25%,#b7ff48 66.75%,#97ff68 67.25%,#97ff68 67.75%,#b7ff48 68.25%,#b7ff48 68.75%,#a7ff58 69.25%,#b7ff48 69.75%,#97ff68 70.25%,#78ff87 70.75%,#87ff78 71.25%,#b7ff48 71.75%,#a7ff58 72.25%,#78ff87 72.75%,#c7ff38 73.25%,#c7ff38 73.75%,#b7ff48 74.25%,#87ff78 74.75%,#a7ff58 75.25%,#c7ff38 75.75%,#a7ff58 76.25%,#a7ff58 76.75%,#b7ff48 77.25%,#c7ff38 77.75%,#e7ff18 78.25%,#f7ff08 78.75%,#c7ff38 79.25%,#f7ff08 79.75%,#d7ff28 80.25%,#ffd700 80.75%,#ffd700 81.25%,#fff700 81.75%,#e7ff18 82.25%,#d7ff28 82.75%,#b7ff48 83.25%,#d7ff28 83.75%,#e7ff18 84.25%,#fff700 84.75%,#fff700 85.25%,#d7ff28 85.75%,#c7ff38 86.25%,#e7ff18 86.75%,#c7ff38 87.25%,#e7ff18 87.75%,#b7ff48 88.25%,#c7ff38 88.75%,#a7ff58 89.25%,#fff700 89.75%,#b7ff48 90.25%,#68ff97 90.75%,#68ff97 91.25%,#78ff87 91.75%,#78ff87 93.25%,#87ff78 93.75%,#d7ff28 94.25%,#e7ff18 94.75%,#d7ff28 95.25%,#c7ff38 95.75%,#a7ff58 96.25%,#b7ff48 96.75%,#a7ff58 97.25%,#b7ff48 97.75%,#ffe700 98.25%,#ffe700 98.75%,#fff700 99.25%,#ffd700 99.75%)"></div>
<div class="r" style="top:220.98px;height:37.13px;background:linear-gradient(90deg,#0038ff 0.25%,#0038ff 0.75%,#0018ff 1.25%,#0048ff 1.75%,#0048ff 2.25%,#0058ff 2.75%,#0068ff 3.25%,#0078ff 3.75%,#0078ff 5.75%,#0058ff 6.25%,#0078ff 6.75%,#0048ff 7.25%,#0068ff 7.75%,#0097ff 8.25%,#0097ff 8.75%,#00a7ff 9.25%,#0087ff 9.75%,#0097ff 10.25%,#00e7ff 10.75%,#00c7ff 11.25%,#08fff7 11.75%,#08fff7 12.75%,#00c7ff 13.25%,#00d7ff 13.75%,#00f7ff 14.25%,#00c7ff 14.75%,#00f7ff 15.25%,#08fff7 15.75%,#18ffe7 16.25%,#00e7ff 16.75%,#38ffc7 17.25%,#28ffd7 17.75%,#38ffc7 18.25%,#08fff7 18.75%,#08fff7 19.25%,#18ffe7 19.75%,#08fff7 20.25%,#18ffe7 20.75%,#08fff7 21.25%,#00f7ff 21.75%,#28ffd7 22.25%,#00e7ff 22.75%,#00f7ff 23.25%,#38ffc7 23.75%,#00e7ff 24.25%,#00e7ff 24.75%,#38ffc7 25.25%,#00f7ff 25.75%,#38ffc7 26.25%,#18ffe7 26.75%,#18ffe7 27.25%,#28ffd7 27.75%,#00e7ff 28.25%,#00f7ff 28.75%,#18ffe7 29.25%,#18ffe7 29.75%,#28ffd7 30.25%,#38ffc7 30.75%,#08fff7 31.25%,#18ffe7 31.75%,#38ffc7 32.25%,#38ffc7 33.25%,#28ffd7 33.75%,#48ffb7 34.25%,#28ffd7 34.75%,#08fff7 35.25%,#48ffb7 35.75%,#18ffe7 36.25%,#48ffb7 36.75%,#38ffc7 37.25%,#58ffa7 37.75%,#97ff68 38.25%,#c7ff38 38.75%,#fff700 39.25%,#c7ff38 39.75%,#58ffa7 40.25%,#78ff87 40.75%,#68ff97 41.25%,#48ffb7 41.75%,#28ffd7 42.25%,#38ffc7 42.75%,#48ffb7 43.25%,#68ff97 43.75%,#28ffd7 44.25%,#18ffe7 44.75%,#38ffc7 45.25%,#48ffb7 45.75%,#58ffa7 46.25%,#58ffa7 46.75%,#28ffd7 47.25%,#18ffe7 47.75%,#58ffa7 48.25%,#48ffb7 48.75%,#58ffa7 49.25%,#38ffc7 49.75%,#68ff97 50.25%,#68ff97 50.75%,#78ff87 51.25%,#78ff87 51.75%,#48ffb7 52.25%,#48ffb7 52.75%,#97ff68 53.25%,#97ff68 53.75%,#58ffa7 54.25%,#48ffb7 54.75%,#48ffb7 55.25%,#58ffa7 55.75%,#78ff87 56.25%,#48ffb7 56.75%,#38ffc7 57.25%,#68ff97 57.75%,#48ffb7 58.25%,#28ffd7 58.75%,#68ff97 59.25%,#48ffb7 59.75%,#28ffd7 60.25%,#28ffd7 60.75%,#08fff7 61.25%,#28ffd7 61.75%,#08fff7 62.25%,#18ffe7 62.75%,#28ffd7 63.25%,#28ffd7 64.25%,#00f7ff 64.75%,#28ffd7 65.25%,#48ffb7 65.75%,#87ff78 66.25%,#78ff87 66.75%,#58ffa7 67.25%,#58ffa7 67.75%,#68ff97 68.25%,#78ff87 68.75%,#68ff97 69.25%,#78ff87 69.75%,#48ffb7 70.25%,#38ffc7 70.75%,#48ffb7 71.25%,#78ff87 71.75%,#68ff97 72.25%,#38ffc7 72.75%,#87ff78 73.25%,#87ff78 73.75%,#68ff97 74.25%,#48ffb7 74.75%,#68ff97 75.25%,#87ff78 75.75%,#58ffa7 76.25%,#68ff97 76.75%,#87ff78 77.25%,#97ff68 77.75%,#b7ff48 78.25%,#c7ff38 78.75%,#97ff68 79.25%,#b7ff48 79.75%,#87ff78 80.25%,#c7ff38 80.75%,#c7ff38 81.25%,#b7ff48 81.75%,#87ff78 82.25%,#87ff78 82.75%,#78ff87 83.25%,#a7ff58 83.75%,#b7ff48 84.25%,#c7ff38 84.75%,#c7ff38 85.25%,#a7ff58 85.75%,#97ff68 86.25%,#b7ff48 86.75%,#97ff68 87.25%,#a7ff58 87.75%,#48ffb7 88.25%,#38ffc7 88.75%,#28ffd7 89.25%,#78ff87 89.75%,#38ffc7 90.25%,#28ffd7 90.75%,#38ffc7 91.25%,#48ffb7 91.75%,#48ffb7 93.25%,#58ffa7 93.75%,#97ff68 94.25%,#b7ff48 94.75%,#a7ff58 95.25%,#97ff68 95.75%,#68ff97 96.25%,#87ff78 96.75%,#78ff87 97.25%,#78ff87 97.75%,#c7ff38 98.25%,#c7ff38 98.75%,#b7ff48 99.25%,#d7ff28 99.75%)"></div>
<div class="r" style="top:257.82px;height:37.13px;background:linear-gradient(90deg,#0038ff 0.25%,#0038ff 0.75%,#0018ff 1.25%,#0048ff 1.75%,#0048ff 2.25%,#0058ff 2.75%,#0068ff 3.25%,#0078ff 3.75%,#0078ff 5.75%,#0058ff 6.25%,#0078ff 6.75%,#0048ff 7.25%,#0078ff 7.75%,#00a7ff 8.25%,#00a7ff 8.75%,#00b7ff 9.25%,#0097ff 9.75%,#00a7ff 10.25%,#00d7ff 10.75%,#00b7ff 11.25%,#00f7ff 11.75%,#00f7ff 12.25%,#08fff7 12.75%,#00d7ff 13.25%,#00e7ff 13.75%,#08fff7 14.25%,#00d7ff 14.75%,#08fff7 15.25%,#08fff7 15.75%,#28ffd7 16.25%,#00e7ff 16.75%,#38ffc7 17.25%,#28ffd7 17.75%,#38ffc7 18.25%,#08fff7 18.75%,#08fff7 19.25%,#18ffe7 19.75%,#08fff7 20.25%,#18ffe7 20.75%,#08fff7 21.25%,#00f7ff 21.75%,#28ffd7 22.25%,#00e7ff 22.75%,#00f7ff 23.25%,#38ffc7 23.75%,#00e7ff 24.25%,#00e7ff 24.75%,#38ffc7 25.25%,#00f7ff 25.75%,#38ffc7 26.25%,#18ffe7 26.75%,#18ffe7 27.25%,#28ffd7 27.75%,#00e7ff 28.25%,#00f7ff 28.75%,#18ffe7 29.25%,#18ffe7 29.75%,#28ffd7 30.25%,#38ffc7 30.75%,#08fff7 31.25%,#18ffe7 31.75%,#38ffc7 32.25%,#38ffc7 33.25%,#28ffd7 33.75%,#48ffb7 34.25%,#28ffd7 34.75%,#08fff7 35.25%,#48ffb7 35.75%,#18ffe7 36.25%,#58ffa7 36.75%,#48ffb7 37.25%,#68ff97 37.75%,#a7ff58 38.25%,#e7ff18 38.75%,#ffd700 39.25%,#d7ff28 39.75%,#58ffa7 40.25%,#78ff87 40.75%,#68ff97 41.25%,#48ffb7 41.75%,#28ffd7 42.25%,#38ffc7 42.75%,#48ffb7 43.25%,#68ff97 43.75%,#28ffd7 44.25%,#18ffe7 44.75%,#38ffc7 45.25%,#48ffb7 45.75%,#58ffa7 46.25%,#58ffa7 46.75%,#28ffd7 47.25%,#18ffe7 47.75%,#58ffa7 48.25%,#48ffb7 48.75%,#58ffa7 49.25%,#48ffb7 49.75%,#97ff68 50.25%,#a7ff58 50.75%,#a7ff58 51.75%,#38ffc7 52.25%,#38ffc7 52.75%,#87ff78 53.25%,#87ff78 53.75%,#48ffb7 54.25%,#38ffc7 54.75%,#38ffc7 55.25%,#48ffb7 55.75%,#68ff97 56.25%,#38ffc7 56.75%,#38ffc7 57.25%,#68ff97 57.75%,#48ffb7 58.25%,#28ffd7 58.75%,#68ff97 59.25%,#38ffc7 59.75%,#00e7ff 60.25%,#00e7ff 61.25%,#08fff7 61.75%,#00f7ff 62.25%,#08fff7 62.75%,#18ffe7 63.25%,#18ffe7 64.25%,#00e7ff 64.75%,#08fff7 65.25%,#18ffe7 65.75%,#68ff97 66.25%,#58ffa7 66.75%,#28ffd7 67.25%,#38ffc7 67.75%,#48ffb7 68.25%,#58ffa7 68.75%,#38ffc7 69.25%,#48ffb7 69.75%,#28ffd7 70.25%,#18ffe7 70.75%,#18ffe7 71.25%,#48ffb7 71.75%,#38ffc7 72.25%,#18ffe7 72.75%,#58ffa7 73.25%,#68ff97 73.75%,#48ffb7 74.25%,#28ffd7 74.75%,#48ffb7 75.25%,#68ff97 75.75%,#38ffc7 76.25%,#58ffa7 76.75%,#87ff78 77.25%,#a7ff58 77.75%,#c7ff38 78.25%,#d7ff28 78.75%,#a7ff58 79.25%,#d7ff28 79.75%,#97ff68 80.25%,#d7ff28 80.75%,#d7ff28 81.25%,#c7ff38 81.75%,#a7ff58 82.25%,#97ff68 82.75%,#87ff78 83.25%,#b7ff48 83.75%,#c7ff38 84.25%,#d7ff28 84.75%,#d7ff28 85.25%,#b7ff48 85.75%,#a7ff58 86.25%,#c7ff38 86.75%,#a7ff58 87.25%,#b7ff48 87.75%,#38ffc7 88.25%,#28ffd7 88.75%,#18ffe7 89.25%,#68ff97 89.75%,#28ffd7 90.25%,#18ffe7 90.75%,#28ffd7 91.25%,#38ffc7 91.75%,#38ffc7 93.25%,#58ffa7 93.75%,#c7ff38 94.25%,#e7ff18 94.75%,#d7ff28 95.25%,#c7ff38 95.75%,#a7ff58 96.25%,#b7ff48 96.75%,#a7ff58 97.25%,#a7ff58 97.75%,#fff700 98.25%,#f7ff08 98.75%,#e7ff18 99.25%,#fff700 99.75%)"></div>
<div class="r" style="top:294.65px;height:37.13px;background:linear-gradient(90deg,#0038ff 0.25%,#0038ff 0.75%,#0018ff 1.25%,#0048ff 1.75%,#0048ff 2.25%,#0058ff 2.75%,#0068ff 3.25%,#0078ff 3.75%,#0078ff 5.75%,#0058ff 6.25%,#0078ff 6.75%,#0048ff 7.25%,#0078ff 7.75%,#00a7ff 8.25%,#00a7ff 8.75%,#00b7ff 9.25%,#0097ff 9.75%,#00a7ff 10.25%,#00f7ff 10.75%,#00d7ff 11.25%,#18ffe7 11.75%,#18ffe7 12.75%,#00d7ff 13.25%,#00e7ff 13.75%,#08fff7 14.25%,#00d7ff 14.75%,#08fff7 15.25%,#28ffd7 15.75%,#78ff87 16.25%,#58ffa7 16.75%,#97ff68 17.25%,#87ff78 17.75%,#97ff68 18.25%,#68ff97 18.75%,#68ff97 19.25%,#78ff87 19.75%,#68ff97 20.25%,#78ff87 20.75%,#68ff97 21.25%,#68ff97 21.75%,#78ff87 22.25%,#48ffb7 22.75%,#58ffa7 23.25%,#87ff78 23.75%,#38ffc7 24.25%,#38ffc7 24.75%,#87ff78 25.25%,#48ffb7 25.75%,#87ff78 26.25%,#68ff97 26.75%,#58ffa7 27.25%,#68ff97 27.75%,#38ffc7 28.25%,#28ffd7 28.75%,#38ffc7 29.25%,#48ffb7 29.75%,#48ffb7 30.25%,#58ffa7 30.75%,#28ffd7 31.25%,#38ffc7 31.75%,#58ffa7 32.25%,#58ffa7 33.25%,#48ffb7 33.75%,#68ff97 34.25%,#48ffb7 34.75%,#28ffd7 35.25%,#68ff97 35.75%,#48ffb7 36.25%,#97ff68 36.75%,#a7ff58 37.25%,#b7ff48 37.75%,#f7ff08 38.25%,#ffc700 38.75%,#ff8700 39.25%,#ffd700 39.75%,#97ff68 40.25%,#a7ff58 40.75%,#97ff68 41.25%,#78ff87 41.75%,#58ffa7 42.25%,#58ffa7 42.75%,#68ff97 43.25%,#87ff78 43.75%,#48ffb7 44.25%,#38ffc7 44.75%,#58ffa7 45.25%,#68ff97 45.75%,#78ff87 46.25%,#78ff87 46.75%,#48ffb7 47.25%,#38ffc7 47.75%,#87ff78 48.25%,#78ff87 48.75%,#87ff78 49.25%,#78ff87 49.75%,#e7ff18 50.25%,#f7ff08 50.75%,#f7ff08 51.75%,#97ff68 52.25%,#97ff68 52.75%,#d7ff28 53.25%,#d7ff28 53.75%,#97ff68 54.25%,#87ff78 54.75%,#97ff68 55.25%,#97ff68 55.75%,#b7ff48 56.25%,#87ff78 56.75%,#97ff68 57.25%,#b7ff48 57.75%,#97ff68 58.25%,#87ff78 58.75%,#b7ff48 59.25%,#87ff78 59.75%,#38ffc7 60.25%,#38ffc7 61.25%,#68ff97 61.75%,#48ffb7 62.25%,#58ffa7 62.75%,#78ff87 63.25%,#78ff87 63.75%,#68ff97 64.25%,#38ffc7 64.75%,#68ff97 65.25%,#87ff78 65.75%,#c7ff38 66.25%,#b7ff48 66.75%,#97ff68 67.25%,#97ff68 67.75%,#b7ff48 68.25%,#b7ff48 68.75%,#a7ff58 69.25%,#b7ff48 69.75%,#97ff68 70.25%,#78ff87 70.75%,#87ff78 71.25%,#b7ff48 71.75%,#a7ff58 72.25%,#78ff87 72.75%,#c7ff38 73.25%,#c7ff38 73.75%,#b7ff48 74.25%,#87ff78 74.75%,#a7ff58 75.25%,#c7ff38 75.75%,#a7ff58 76.25%,#a7ff58 76.75%,#b7ff48 77.25%,#c7ff38 77.75%,#e7ff18 78.25%,#f7ff08 78.75%,#c7ff38 79.25%,#fff700 79.75%,#f7ff08 80.25%,#ffa700 80.75%,#ffa700 81.25%,#ffc700 81.75%,#fff700 82.25%,#f7ff08 82.75%,#d7ff28 83.25%,#fff700 83.75%,#ffe700 84.25%,#ffc700 84.75%,#ffc700 85.25%,#fff700 85.75%,#f7ff08 86.25%,#ffe700 86.75%,#f7ff08 87.25%,#fff700 87.75%,#b7ff48 88.25%,#a7ff58 88.75%,#87ff78 89.25%,#d7ff28 89.75%,#a7ff58 90.25%,#87ff78 90.75%,#a7ff58 91.25%,#b7ff48 91.75%,#a7ff58 92.25%,#a7ff58 92.75%,#b7ff48 93.25%,#c7ff38 93.75%,#ffe700 94.25%,#ffc700 94.75%,#ffe700 95.25%,#ffe700 95.75%,#e7ff18 96.25%,#fff700 96.75%,#ffe700 97.25%,#ffe700 97.75%,#ffb700 98.25%,#ffb700 98.75%,#ffd700 99.25%,#ffa700 99.75%)"></div>
<div class="r" style="top:331.48px;height:37.13px;background:linear-gradient(90deg,#0068ff 0.25%,#0068ff 0.75%,#0048ff 1.25%,#0078ff 1.75%,#0087ff 2.25%,#0087ff 2.75%,#0097ff 3.25%,#00a7ff 3.75%,#00b7ff 4.25%,#00a7ff 4.75%,#00a7ff 5.75%,#0097ff 6.25%,#00a7ff 6.75%,#0078ff 7.25%,#00a7ff 7.75%,#00d7ff 8.25%,#00d7ff 8.75%,#00e7ff 9.25%,#00c7ff 9.75%,#00e7ff 10.25%,#38ffc7 10.75%,#18ffe7 11.25%,#58ffa7 11.75%,#58ffa7 12.25%,#68ff97 12.75%,#18ffe7 13.25%,#28ffd7 13.75%,#58ffa7 14.25%,#28ffd7 14.75%,#48ffb7 15.25%,#68ff97 15.75%,#a7ff58 16.25%,#87ff78 16.75%,#c7ff38 17.25%,#c7ff38 18.25%,#97ff68 18.75%,#97ff68 19.25%,#b7ff48 19.75%,#a7ff58 20.25%,#a7ff58 20.75%,#97ff68 21.25%,#97ff68 21.75%,#b7ff48 22.25%,#87ff78 22.75%,#97ff68 23.25%,#c7ff38 23.75%,#68ff97 24.25%,#58ffa7 24.75%,#a7ff58 25.25%,#68ff97 25.75%,#a7ff58 26.25%,#87ff78 26.75%,#78ff87 27.25%,#97ff68 27.75%,#58ffa7 28.25%,#58ffa7 28.75%,#68ff97 29.25%,#78ff87 29.75%,#78ff87 30.25%,#87ff78 30.75%,#58ffa7 31.25%,#68ff97 31.75%,#87ff78 32.25%,#87ff78 33.25%,#78ff87 33.75%,#97ff68 34.25%,#78ff87 34.75%,#58ffa7 35.25%,#97ff68 35.75%,#78ff87 36.25%,#d7ff28 36.75%,#e7ff18 37.25%,#f7ff08 37.75%,#ffc700 38.25%,#ff9700 38.75%,#ff7800 39.25%,#ffb700 39.75%,#d7ff28 40.25%,#e7ff18 40.75%,#d7ff28 41.25%,#b7ff48 41.75%,#97ff68 42.25%,#a7ff58 42.75%,#b7ff48 43.25%,#c7ff38 43.75%,#87ff78 44.25%,#78ff87 44.75%,#97ff68 45.25%,#a7ff58 45.75%,#c7ff38 46.25%,#b7ff48 46.75%,#87ff78 47.25%,#87ff78 47.75%,#c7ff38 48.25%,#c7ff38 49.25%,#b7ff48 49.75%,#ffe700 50.25%,#ffd700 50.75%,#ffd700 51.75%,#c7ff38 52.25%,#c7ff38 52.75%,#ffe700 53.25%,#fff700 53.75%,#d7ff28 54.25%,#c7ff38 54.75%,#c7ff38 55.75%,#e7ff18 56.25%,#b7ff48 56.75%,#c7ff38 57.25%,#e7ff18 57.75%,#c7ff38 58.25%,#b7ff48 58.75%,#e7ff18 59.25%,#c7ff38 59.75%,#87ff78 60.25%,#97ff68 60.75%,#97ff68 61.25%,#b7ff48 61.75%,#97ff68 62.25%,#b7ff48 62.75%,#c7ff38 63.25%,#c7ff38 63.75%,#b7ff48 64.25%,#97ff68 64.75%,#c7ff38 65.25%,#d7ff28 65.75%,#ffd700 66.25%,#ffe700 66.75%,#e7ff18 67.25%,#f7ff08 67.75%,#fff700 68.25%,#fff700 68.75%,#f7ff08 69.25%,#fff700 69.75%,#c7ff38 70.25%,#a7ff58 70.75%,#b7ff48 71.25%,#e7ff18 71.75%,#d7ff28 72.25%,#a7ff58 72.75%,#f7ff08 73.25%,#f7ff08 73.75%,#e7ff18 74.25%,#b7ff48 74.75%,#d7ff28 75.25%,#fff700 75.75%,#d7ff28 76.25%,#e7ff18 76.75%,#e7ff18 77.25%,#f7ff08 77.75%,#ffe700 78.25%,#ffd700 78.75%,#f7ff08 79.25%,#ffc700 79.75%,#ffe700 80.25%,#ff8700 80.75%,#ff8700 81.25%,#ff9700 81.75%,#ffd700 82.25%,#fff700 82.75%,#e7ff18 83.25%,#ffe700 83.75%,#ffd700 84.25%,#ffb700 84.75%,#ffb700 85.25%,#ffe700 85.75%,#fff700 86.25%,#ffd700 86.75%,#ffe700 87.25%,#ffe700 87.75%,#e7ff18 88.25%,#d7ff28 88.75%,#b7ff48 89.25%,#ffe700 89.75%,#d7ff28 90.25%,#b7ff48 90.75%,#d7ff28 91.25%,#e7ff18 91.75%,#d7ff28 92.25%,#d7ff28 92.75%,#e7ff18 93.25%,#f7ff08 93.75%,#ffd700 94.25%,#ffb700 94.75%,#ffd700 95.25%,#ffd700 95.75%,#f7ff08 96.25%,#ffe700 96.75%,#ffd700 97.25%,#ffd700 97.75%,#ff9700 98.25%,#ffa700 98.75%,#ffc700 99.25%,#ff9700 99.75%)"></div>
<div class="r" style="top:368.31px;height:37.13px;background:linear-gradient(90deg,#0068ff 0.25%,#0068ff 0.75%,#0048ff 1.25%,#0078ff 1.75%,#0087ff 2.25%,#0087ff 2.75%,#0097ff 3.25%,#00a7ff 3.75%,#00b7ff 4.25%,#00b7ff 5.75%,#00a7ff 6.25%,#00b7ff 6.75%,#0087ff 7.25%,#00b7ff 7.75%,#00e7ff 8.25%,#00e7ff 8.75%,#00f7ff 9.25%,#00e7ff 9.75%,#00f7ff 10.25%,#28ffd7 10.75%,#08fff7 11.25%,#48ffb7 11.75%,#48ffb7 12.25%,#58ffa7 12.75%,#08fff7 13.25%,#18ffe7 13.75%,#48ffb7 14.25%,#08fff7 14.75%,#38ffc7 15.25%,#48ffb7 15.75%,#78ff87 16.25%,#58ffa7 16.75%,#97ff68 17.25%,#87ff78 17.75%,#97ff68 18.25%,#68ff97 18.75%,#68ff97 19.25%,#78ff87 19.75%,#68ff97 20.25%,#78ff87 20.75%,#68ff97 21.25%,#68ff97 21.75%,#97ff68 22.25%,#68ff97 22.75%,#78ff87 23.25%,#a7ff58 23.75%,#68ff97 24.25%,#58ffa7 24.75%,#a7ff58 25.25%,#68ff97 25.75%,#97ff68 26.25%,#78ff87 26.75%,#68ff97 27.25%,#78ff87 27.75%,#48ffb7 28.25%,#48ffb7 28.75%,#58ffa7 29.25%,#68ff97 29.75%,#68ff97 30.25%,#78ff87 30.75%,#48ffb7 31.25%,#58ffa7 31.75%,#78ff87 32.25%,#78ff87 33.25%,#68ff97 33.75%,#87ff78 34.25%,#68ff97 34.75%,#48ffb7 35.25%,#87ff78 35.75%,#68ff97 36.25%,#a7ff58 36.75%,#b7ff48 37.25%,#c7ff38 37.75%,#fff700 38.25%,#ffb700 38.75%,#ff8700 39.25%,#ffd700 39.75%,#97ff68 40.25%,#a7ff58 40.75%,#97ff68 41.25%,#78ff87 41.75%,#58ffa7 42.25%,#58ffa7 42.75%,#68ff97 43.25%,#87ff78 43.75%,#48ffb7 44.25%,#38ffc7 44.75%,#58ffa7 45.25%,#68ff97 45.75%,#78ff87 46.25%,#78ff87 46.75%,#48ffb7 47.25%,#38ffc7 47.75%,#87ff78 48.25%,#78ff87 48.75%,#87ff78 49.25%,#78ff87 49.75%,#e7ff18 50.25%,#f7ff08 50.75%,#f7ff08 51.75%,#97ff68 52.25%,#97ff68 52.75%,#d7ff28 53.25%,#d7ff28 53.75%,#97ff68 54.25%,#87ff78 54.75%,#97ff68 55.25%,#97ff68 55.75%,#b7ff48 56.25%,#87ff78 56.75%,#97ff68 57.25%,#b7ff48 57.75%,#97ff68 58.25%,#87ff78 58.75%,#b7ff48 59.25%,#87ff78 59.75%,#38ffc7 60.25%,#38ffc7 61.25%,#68ff97 61.75%,#48ffb7 62.25%,#58ffa7 62.75%,#78ff87 63.25%,#78ff87 63.75%,#68ff97 64.25%,#38ffc7 64.75%,#68ff97 65.25%,#87ff78 65.75%,#c7ff38 66.25%,#b7ff48 66.75%,#97ff68 67.25%,#97ff68 67.75%,#b7ff48 68.25%,#b7ff48 68.75%,#a7ff58 69.25%,#b7ff48 69.75%,#97ff68 70.25%,#78ff87 70.75%,#87ff78 71.25%,#b7ff48 71.75%,#a7ff58 72.25%,#78ff87 72.75%,#c7ff38 73.25%,#c7ff38 73.75%,#b7ff48 74.25%,#87ff78 74.75%,#a7ff58 75.25%,#c7ff38 75.75%,#a7ff58 76.25%,#b7ff48 76.75%,#c7ff38 77.25%,#d7ff28 77.75%,#f7ff08 78.25%,#fff700 78.75%,#d7ff28 79.25%,#ffe700 79.75%,#f7ff08 80.25%,#ffb700 80.75%,#ffb700 81.25%,#ffc700 81.75%,#fff700 82.25%,#e7ff18 82.75%,#d7ff28 83.25%,#fff700 83.75%,#ffe700 84.25%,#ffd700 84.75%,#ffd700 85.25%,#fff700 85.75%,#f7ff08 86.25%,#ffe700 86.75%,#f7ff08 87.25%,#f7ff08 87.75%,#87ff78 88.25%,#68ff97 88.75%,#58ffa7 89.25%,#a7ff58 89.75%,#78ff87 90.25%,#58ffa7 90.75%,#68ff97 91.25%,#78ff87 91.75%,#78ff87 93.25%,#97ff68 93.75%,#e7ff18 94.25%,#ffe700 94.75%,#f7ff08 95.25%,#f7ff08 95.75%,#c7ff38 96.25%,#e7ff18 96.75%,#e7ff18 97.25%,#f7ff08 97.75%,#ffd700 98.25%,#ffe700 98.75%,#fff700 99.25%,#ffd700 99.75%)"></div>
<div class="r" style="top:405.14px;height:37.13px;background:linear-gradient(90deg,#0048ff 0.25%,#0048ff 0.75%,#0028ff 1.25%,#0058ff 1.75%,#0068ff 2.25%,#0068ff 2.75%,#0078ff 3.25%,#0087ff 3.75%,#00a7ff 4.25%,#00a7ff 5.75%,#0097ff 6.25%,#00a7ff 6.75%,#0078ff 7.25%,#00a7ff 7.75%,#00e7ff 8.25%,#00e7ff 8.75%,#00f7ff 9.25%,#00e7ff 9.75%,#00f7ff 10.25%,#38ffc7 10.75%,#18ffe7 11.25%,#58ffa7 11.75%,#58ffa7 12.25%,#68ff97 12.75%,#18ffe7 13.25%,#28ffd7 13.75%,#58ffa7 14.25%,#28ffd7 14.75%,#48ffb7 15.25%,#68ff97 15.75%,#b7ff48 16.25%,#97ff68 16.75%,#d7ff28 17.25%,#d7ff28 18.25%,#a7ff58 18.75%,#a7ff58 19.25%,#c7ff38 19.75%,#b7ff48 20.25%,#b7ff48 20.75%,#a7ff58 21.25%,#a7ff58 21.75%,#d7ff28 22.25%,#a7ff58 22.75%,#b7ff48 23.25%,#e7ff18 23.75%,#87ff78 24.25%,#78ff87 24.75%,#c7ff38 25.25%,#87ff78 25.75%,#c7ff38 26.25%,#a7ff58 26.75%,#97ff68 27.25%,#b7ff48 27.75%,#78ff87 28.25%,#78ff87 28.75%,#87ff78 29.25%,#97ff68 29.75%,#97ff68 30.25%,#a7ff58 30.75%,#87ff78 31.25%,#87ff78 31.75%,#a7ff58 32.25%,#a7ff58 32.75%,#b7ff48 33.25%,#97ff68 33.75%,#c7ff38 34.25%,#97ff68 34.75%,#87ff78 35.25%,#b7ff48 35.75%,#97ff68 36.25%,#e7ff18 36.75%,#e7ff18 37.25%,#f7ff08 37.75%,#ffc700 38.25%,#ff9700 38.75%,#ff7800 39.25%,#ffb700 39.75%,#d7ff28 40.25%,#e7ff18 40.75%,#d7ff28 41.25%,#c7ff38 41.75%,#a7ff58 42.25%,#b7ff48 42.75%,#c7ff38 43.25%,#d7ff28 43.75%,#97ff68 44.25%,#87ff78 44.75%,#a7ff58 45.25%,#b7ff48 45.75%,#d7ff28 46.25%,#c7ff38 46.75%,#97ff68 47.25%,#87ff78 47.75%,#d7ff28 48.25%,#c7ff38 48.75%,#c7ff38 49.75%,#ffd700 50.25%,#ffc700 50.75%,#ffc700 51.75%,#d7ff28 52.25%,#d7ff28 52.75%,#ffd700 53.25%,#ffe700 53.75%,#e7ff18 54.25%,#d7ff28 54.75%,#d7ff28 55.75%,#f7ff08 56.25%,#d7ff28 56.75%,#d7ff28 57.25%,#f7ff08 57.75%,#d7ff28 58.25%,#c7ff38 58.75%,#f7ff08 59.25%,#d7ff28 59.75%,#97ff68 60.25%,#97ff68 61.25%,#b7ff48 61.75%,#97ff68 62.25%,#b7ff48 62.75%,#c7ff38 63.25%,#c7ff38 63.75%,#b7ff48 64.25%,#97ff68 64.75%,#b7ff48 65.25%,#c7ff38 65.75%,#ffe700 66.25%,#fff700 66.75%,#d7ff28 67.25%,#e7ff18 67.75%,#f7ff08 68.25%,#f7ff08 68.75%,#e7ff18 69.25%,#f7ff08 69.75%,#d7ff28 70.25%,#b7ff48 70.75%,#c7ff38 71.25%,#f7ff08 71.75%,#e7ff18 72.25%,#b7ff48 72.75%,#fff700 73.25%,#fff700 73.75%,#f7ff08 74.25%,#c7ff38 74.75%,#e7ff18 75.25%,#ffe700 75.75%,#e7ff18 76.25%,#f7ff08 76.75%,#f7ff08 77.25%,#fff700 77.75%,#ffc700 78.25%,#ffc700 78.75%,#fff700 79.25%,#ffb700 79.75%,#ffe700 80.25%,#ff8700 80.75%,#ff8700 81.25%,#ff9700 81.75%,#ffd700 82.25%,#fff700 82.75%,#e7ff18 83.25%,#ffe700 83.75%,#ffd700 84.25%,#ffb700 84.75%,#ffb700 85.25%,#ffe700 85.75%,#fff700 86.25%,#ffd700 86.75%,#ffe700 87.25%,#ffe700 87.75%,#e7ff18 88.25%,#d7ff28 88.75%,#b7ff48 89.25%,#ffe700 89.75%,#d7ff28 90.25%,#b7ff48 90.75%,#d7ff28 91.25%,#e7ff18 91.75%,#d7ff28 92.25%,#d7ff28 92.75%,#e7ff18 93.25%,#f7ff08 93.75%,#ffd700 94.25%,#ffb700 94.75%,#ffd700 95.25%,#ffd700 95.75%,#f7ff08 96.25%,#ffd700 96.75%,#ffd700 97.25%,#ffc700 97.75%,#ff8700 98.25%,#ff9700 98.75%,#ffb700 99.25%,#ff8700 99.75%)"></div>
<div class="r" style="top:441.97px;height:37.13px;background:linear-gradient(90deg,#0097ff 0.25%,#0097ff 0.75%,#0078ff 1.25%,#00a7ff 1.75%,#00b7ff 2.25%,#00b7ff 2.75%,#00d7ff 3.25%,#18ffe7 3.75%,#18ffe7 4.25%,#08fff7 4.75%,#00f7ff 5.25%,#08fff7 5.75%,#00e7ff 6.25%,#00f7ff 6.75%,#00c7ff 7.25%,#00f7ff 7.75%,#18ffe7 8.25%,#28ffd7 8.75%,#28ffd7 9.25%,#18ffe7 9.75%,#18ffe7 10.25%,#38ffc7 10.75%,#38ffc7 11.25%,#87ff78 11.75%,#78ff87 12.25%,#87ff78 12.75%,#38ffc7 13.25%,#48ffb7 13.75%,#78ff87 14.25%,#48ffb7 14.75%,#68ff97 15.25%,#97ff68 15.75%,#f7ff08 16.25%,#d7ff28 16.75%,#ffd700 17.25%,#ffe700 17.75%,#ffd700 18.25%,#f7ff08 18.75%,#f7ff08 19.25%,#fff700 19.75%,#f7ff08 20.25%,#fff700 20.75%,#ffe700 21.25%,#ffd700 21.75%,#ffb700 22.25%,#f7ff08 22.75%,#f7ff08 23.25%,#ffc700 23.75%,#e7ff18 24.25%,#e7ff18 24.75%,#ffc700 25.25%,#f7ff08 25.75%,#ffa700 26.25%,#ffb700 26.75%,#ffd700 27.25%,#fff700 27.75%,#b7ff48 28.25%,#b7ff48 28.75%,#d7ff28 29.25%,#d7ff28 29.75%,#e7ff18 30.25%,#e7ff18 30.75%,#c7ff38 31.25%,#d7ff28 31.75%,#e7ff18 32.25%,#f7ff08 32.75%,#f7ff08 33.25%,#e7ff18 33.75%,#fff700 34.25%,#e7ff18 34.75%,#c7ff38 35.25%,#f7ff08 35.75%,#d7ff28 36.25%,#ffe700 36.75%,#ffe700 37.25%,#ffc700 37.75%,#ff9700 38.25%,#ff6800 38.75%,#ff4800 39.25%,#ff7800 39.75%,#ffe700 40.25%,#ffc700 40.75%,#ffd700 41.25%,#fff700 41.75%,#e7ff18 42.25%,#f7ff08 42.75%,#fff700 43.25%,#ffd700 43.75%,#d7ff28 44.25%,#d7ff28 44.75%,#f7ff08 45.25%,#f7ff08 45.75%,#ffe700 46.25%,#fff700 46.75%,#d7ff28 47.25%,#d7ff28 47.75%,#ffe700 48.25%,#fff700 48.75%,#ffe700 49.25%,#fff700 49.75%,#ff9700 50.25%,#ff8700 50.75%,#ff8700 51.25%,#ff9700 51.75%,#ffd700 52.25%,#ffc700 52.75%,#ff7800 53.25%,#ff7800 53.75%,#ffb700 54.25%,#ffc700 54.75%,#ffc700 56.25%,#fff700 56.75%,#fff700 57.25%,#ffc700 57.75%,#ffe700 58.25%,#f7ff08 58.75%,#ffc700 59.25%,#ffe700 59.75%,#e7ff18 60.25%,#e7ff18 61.25%,#fff700 61.75%,#f7ff08 62.25%,#fff700 62.75%,#ffe700 63.25%,#ffe700 64.25%,#e7ff18 64.75%,#e7ff18 65.25%,#f7ff08 65.75%,#ffb700 66.25%,#ffc700 66.75%,#fff700 67.25%,#ffe700 67.75%,#ffd700 68.25%,#ffc700 68.75%,#ffe700 69.25%,#ffd700 69.75%,#f7ff08 70.25%,#d7ff28 70.75%,#e7ff18 71.25%,#ffe700 71.75%,#fff700 72.25%,#d7ff28 72.75%,#ffd700 73.25%,#ffc700 73.75%,#ffe700 74.25%,#f7ff08 74.75%,#fff700 75.25%,#ffc700 75.75%,#fff700 76.25%,#ffe700 76.75%,#ffd700 77.25%,#ffc700 77.75%,#ff9700 78.25%,#ff9700 78.75%,#ffc700 79.25%,#ff8700 79.75%,#ffb700 80.25%,#ff6800 80.75%,#ff6800 81.25%,#ff7800 81.75%,#ffa700 82.25%,#ffa700 82.75%,#ffc700 83.25%,#ff8700 83.75%,#ff8700 84.25%,#ff6800 84.75%,#ff6800 85.25%,#ff9700 85.75%,#ffd700 86.25%,#ffc700 86.75%,#ffd700 87.25%,#ffc700 87.75%,#fff700 88.25%,#f7ff08 88.75%,#e7ff18 89.25%,#ffc700 89.75%,#f7ff08 90.25%,#d7ff28 90.75%,#f7ff08 91.25%,#fff700 91.75%,#fff700 93.25%,#ffe700 93.75%,#ffa700 94.25%,#ff8700 94.75%,#ff9700 95.25%,#ffa700 95.75%,#ffd700 96.25%,#ffa700 96.75%,#ff9700 97.25%,#ff8700 97.75%,#ff5800 98.25%,#ff6800 98.75%,#ff8700 99.25%,#ff5800 99.75%)"></div>
<div class="ln" style="left:35.2px;top:0.0px;width:2.4px;height:36.8px;background:#f5e000"></div>
<div class="bd"></div>
</div>
<div class="yl" style="left:53.8px;top:593.9px">13LEU</div>
<div class="yl" style="left:53.8px;top:630.7px">12ILE</div>
<div class="yl" style="left:53.8px;top:667.6px">11ARG</div>
<div class="yl" style="left:53.8px;top:704.4px">10GLY</div>
<div class="yl" style="left:53.8px;top:741.2px">9LEU</div>
<div class="yl" style="left:53.8px;top:778.1px">8PHE</div>
<div class="yl" style="left:53.8px;top:814.9px">7LYS</div>
<div class="yl" style="left:53.8px;top:851.7px">6SER</div>
<div class="yl" style="left:53.8px;top:888.6px">5PHE</div>
<div class="yl" style="left:53.8px;top:925.4px">4TRP</div>
<div class="yl" style="left:53.8px;top:962.2px">3GLN</div>
<div class="yl" style="left:53.8px;top:999.1px">2VAL</div>
<div class="yl" style="left:53.8px;top:1035.9px">1PHE</div>
<div class="xl" style="left:137.6px;top:1073.7px">0</div>
<div class="xl" style="left:189.6px;top:1073.7px">10</div>
<div class="xl" style="left:241.7px;top:1073.7px">20</div>
<div class="xl" style="left:293.7px;top:1073.7px">30</div>
<div class="xl" style="left:345.7px;top:1073.7px">40</div>
<div class="xl" style="left:397.8px;top:1073.7px">50</div>
<div class="xl" style="left:449.8px;top:1073.7px">60</div>
<div class="xl" style="left:501.8px;top:1073.7px">70</div>
<div class="xl" style="left:553.8px;top:1073.7px">80</div>
<div class="xl" style="left:605.9px;top:1073.7px">90</div>
<div class="xl" style="left:657.9px;top:1073.7px">100</div>
<div class="xt" style="left:365.3px;top:1107.7px">Time (ns)</div>
<div class="rt rs" style="left:70.3px;top:826.8px"><span>Residue</span></div>
<div class="cb" style="left:700.3px;top:585.9px;width:26.3px;height:478.8px"><div class="cg"></div>
<i style="top:79.3px;left:1px"></i><i style="top:79.3px;right:1px"></i>
<i style="top:159.1px;left:1px"></i><i style="top:159.1px;right:1px"></i>
<i style="top:238.9px;left:1px"></i><i style="top:238.9px;right:1px"></i>
<i style="top:318.7px;left:1px"></i><i style="top:318.7px;right:1px"></i>
<i style="top:398.5px;left:1px"></i><i style="top:398.5px;right:1px"></i>
<div class="bd"></div></div>
<div class="cl" style="left:743.5px;top:572.4px">1</div>
<div class="cl" style="left:743.5px;top:652.0px">0.5</div>
<div class="cl" style="left:743.5px;top:731.6px">0</div>
<div class="cl" style="left:737.2px;top:811.2px">-0.5</div>
<div class="cl" style="left:737.2px;top:890.9px">-1</div>
<div class="cl" style="left:737.2px;top:970.5px">-1.5</div>
<div class="cl" style="left:737.2px;top:1050.1px">-2</div>
<div class="rt" style="left:789.7px;top:827.0px"><span>Z Position (nm)</span></div>
<div class="pl" style="left:940.8px;top:585.9px;width:520.2px;height:478.6px">
<div class="r" style="top:0.00px;height:37.12px;background:linear-gradient(90deg,#000087 0.25%,#000097 0.75%,#0000a7 1.25%,#0000a7 1.75%,#000087 2.25%,#000097 2.75%,#000097 4.25%,#000087 4.75%,#0000a7 5.25%,#000087 5.75%,#0000b7 6.25%,#000097 6.75%,#0000a7 7.25%,#0000a7 8.25%,#000097 8.75%,#0000b7 9.25%,#0000d7 9.75%,#0018ff 10.25%,#0000f7 10.75%,#0008ff 11.25%,#0008ff 12.25%,#0000e7 12.75%,#0000f7 13.25%,#0018ff 13.75%,#0058ff 14.25%,#0078ff 14.75%,#0087ff 15.25%,#0058ff 15.75%,#0018ff 16.25%,#0008ff 16.75%,#0038ff 17.25%,#0028ff 17.75%,#0008ff 18.25%,#0008ff 18.75%,#0018ff 19.25%,#0048ff 19.75%,#0028ff 20.25%,#0018ff 20.75%,#0038ff 21.25%,#0058ff 21.75%,#0028ff 22.25%,#0028ff 22.75%,#0018ff 23.25%,#0000f7 23.75%,#0000f7 24.25%,#0018ff 24.75%,#0000e7 25.25%,#0000f7 25.75%,#0000f7 26.25%,#0048ff 26.75%,#0018ff 27.25%,#0058ff 27.75%,#0048ff 28.25%,#0038ff 28.75%,#0048ff 29.25%,#0038ff 29.75%,#0058ff 30.25%,#0038ff 30.75%,#0038ff 31.25%,#0018ff 31.75%,#0058ff 32.25%,#0068ff 32.75%,#0068ff 33.75%,#0058ff 34.25%,#0038ff 34.75%,#0038ff 35.25%,#0048ff 35.75%,#0078ff 36.25%,#0058ff 36.75%,#0068ff 37.25%,#0087ff 37.75%,#0087ff 38.25%,#0068ff 38.75%,#0058ff 39.25%,#0097ff 39.75%,#00b7ff 40.25%,#00a7ff 40.75%,#00b7ff 41.25%,#00d7ff 41.75%,#00d7ff 42.25%,#00f7ff 42.75%,#0097ff 43.25%,#00c7ff 43.75%,#0087ff 44.25%,#00a7ff 44.75%,#0087ff 45.25%,#0068ff 45.75%,#0078ff 46.25%,#0058ff 46.75%,#0048ff 47.25%,#0028ff 47.75%,#0018ff 48.25%,#0018ff 48.75%,#0008ff 49.25%,#0028ff 49.75%,#0018ff 50.25%,#0048ff 50.75%,#0087ff 51.25%,#0097ff 51.75%,#00a7ff 52.25%,#00b7ff 52.75%,#0097ff 53.25%,#0097ff 53.75%,#00a7ff 54.25%,#00d7ff 54.75%,#00d7ff 55.25%,#00b7ff 55.75%,#00c7ff 56.25%,#00b7ff 56.75%,#0097ff 57.25%,#00a7ff 57.75%,#00b7ff 58.25%,#00b7ff 59.25%,#00a7ff 59.75%,#0097ff 60.25%,#0068ff 60.75%,#0097ff 61.25%,#0097ff 61.75%,#0087ff 62.25%,#0087ff 62.75%,#0078ff 63.25%,#0068ff 63.75%,#0097ff 64.25%,#0087ff 64.75%,#0087ff 65.25%,#0078ff 65.75%,#0038ff 66.25%,#0028ff 66.75%,#0078ff 67.25%,#00a7ff 67.75%,#0087ff 68.25%,#0087ff 68.75%,#00b7ff 69.25%,#0087ff 69.75%,#00a7ff 70.25%,#00b7ff 70.75%,#0087ff 71.25%,#0097ff 71.75%,#0097ff 72.75%,#00a7ff 73.25%,#0097ff 73.75%,#00a7ff 74.25%,#0078ff 74.75%,#00a7ff 75.25%,#0097ff 75.75%,#0087ff 76.25%,#0078ff 76.75%,#00b7ff 77.25%,#00c7ff 77.75%,#00f7ff 78.25%,#28ffd7 78.75%,#08fff7 79.25%,#08fff7 80.25%,#00f7ff 80.75%,#00d7ff 81.25%,#00e7ff 81.75%,#00b7ff 82.25%,#00d7ff 82.75%,#00d7ff 83.25%,#00c7ff 83.75%,#00f7ff 84.25%,#00e7ff 84.75%,#00f7ff 85.25%,#00f7ff 85.75%,#00b7ff 86.25%,#0087ff 86.75%,#0097ff 87.25%,#00a7ff 87.75%,#0097ff 88.25%,#0097ff 88.75%,#00a7ff 89.25%,#00a7ff 89.75%,#0087ff 90.25%,#0097ff 90.75%,#00c7ff 91.25%,#00c7ff 91.75%,#0097ff 92.25%,#00b7ff 92.75%,#00c7ff 93.25%,#0097ff 93.75%,#0097ff 94.25%,#00b7ff 94.75%,#00b7ff 95.25%,#00c7ff 95.75%,#08fff7 96.25%,#00f7ff 96.75%,#00f7ff 97.25%,#00c7ff 97.75%,#00a7ff 98.25%,#0097ff 98.75%,#0087ff 99.25%,#0078ff 99.75%)"></div>
<div class="r" style="top:36.82px;height:37.12px;background:linear-gradient(90deg,#000087 0.25%,#000097 0.75%,#0000a7 1.25%,#0000a7 1.75%,#000087 2.25%,#0000a7 2.75%,#0000a7 3.75%,#0000b7 4.25%,#000097 4.75%,#0000b7 5.25%,#000097 5.75%,#0000c7 6.25%,#0000a7 6.75%,#0000b7 7.25%,#0000b7 8.25%,#0000a7 8.75%,#0000c7 9.25%,#0000e7 9.75%,#0028ff 10.25%,#0008ff 10.75%,#0018ff 11.25%,#0018ff 12.25%,#0008ff 12.75%,#0018ff 13.25%,#0048ff 13.75%,#0097ff 14.25%,#00b7ff 14.75%,#00c7ff 15.25%,#0097ff 15.75%,#0058ff 16.25%,#0048ff 16.75%,#0087ff 17.25%,#0068ff 17.75%,#0048ff 18.25%,#0038ff 18.75%,#0048ff 19.25%,#0058ff 19.75%,#0048ff 20.25%,#0028ff 20.75%,#0048ff 21.25%,#0068ff 21.75%,#0048ff 22.25%,#0058ff 22.75%,#0038ff 23.25%,#0028ff 23.75%,#0018ff 24.25%,#0038ff 24.75%,#0018ff 25.25%,#0028ff 25.75%,#0028ff 26.25%,#0068ff 26.75%,#0048ff 27.25%,#0087ff 27.75%,#0068ff 28.25%,#0058ff 28.75%,#0078ff 29.25%,#0058ff 29.75%,#0078ff 30.25%,#0068ff 30.75%,#0068ff 31.25%,#0048ff 31.75%,#0087ff 32.25%,#0087ff 32.75%,#0097ff 33.25%,#0097ff 33.75%,#0078ff 34.25%,#0068ff 34.75%,#0058ff 35.25%,#0068ff 35.75%,#0097ff 36.25%,#0068ff 36.75%,#0078ff 37.25%,#00a7ff 37.75%,#00a7ff 38.25%,#0078ff 38.75%,#0078ff 39.25%,#00a7ff 39.75%,#00c7ff 40.25%,#00b7ff 40.75%,#00c7ff 41.25%,#00e7ff 41.75%,#00f7ff 42.25%,#08fff7 42.75%,#00a7ff 43.25%,#00d7ff 43.75%,#0097ff 44.25%,#00c7ff 44.75%,#00a7ff 45.25%,#0078ff 45.75%,#0087ff 46.25%,#0078ff 46.75%,#0078ff 47.25%,#0058ff 47.75%,#0048ff 48.25%,#0048ff 48.75%,#0038ff 49.25%,#0068ff 49.75%,#0048ff 50.25%,#0078ff 50.75%,#00a7ff 51.25%,#00a7ff 51.75%,#00d7ff 52.25%,#00e7ff 52.75%,#00b7ff 53.25%,#00c7ff 53.75%,#00d7ff 54.25%,#08fff7 54.75%,#08fff7 55.25%,#00e7ff 55.75%,#00e7ff 56.25%,#00d7ff 56.75%,#00b7ff 57.25%,#00c7ff 57.75%,#00d7ff 58.25%,#00c7ff 58.75%,#00d7ff 59.25%,#00c7ff 59.75%,#00c7ff 60.25%,#0097ff 60.75%,#00c7ff 61.25%,#00d7ff 61.75%,#00b7ff 62.25%,#00c7ff 62.75%,#00b7ff 63.25%,#0097ff 63.75%,#00c7ff 64.25%,#00b7ff 64.75%,#00c7ff 65.25%,#00c7ff 65.75%,#00a7ff 66.25%,#00a7ff 66.75%,#00e7ff 67.25%,#00f7ff 67.75%,#00c7ff 68.25%,#00c7ff 68.75%,#00f7ff 69.25%,#00c7ff 69.75%,#00e7ff 70.25%,#00f7ff 70.75%,#00c7ff 71.25%,#00d7ff 71.75%,#00e7ff 72.25%,#00d7ff 72.75%,#00e7ff 73.25%,#00e7ff 74.25%,#00b7ff 74.75%,#00e7ff 75.25%,#00e7ff 75.75%,#00d7ff 76.25%,#00b7ff 76.75%,#00f7ff 77.25%,#00f7ff 77.75%,#28ffd7 78.25%,#58ffa7 78.75%,#28ffd7 79.25%,#38ffc7 79.75%,#38ffc7 80.25%,#28ffd7 80.75%,#08fff7 81.25%,#18ffe7 81.75%,#00e7ff 82.25%,#18ffe7 82.75%,#08fff7 83.25%,#08fff7 83.75%,#28ffd7 84.25%,#18ffe7 84.75%,#28ffd7 85.25%,#38ffc7 85.75%,#00e7ff 86.25%,#00c7ff 86.75%,#00c7ff 87.25%,#00d7ff 87.75%,#00c7ff 88.25%,#00c7ff 88.75%,#00d7ff 89.25%,#00d7ff 89.75%,#00c7ff 90.25%,#00d7ff 90.75%,#00f7ff 91.25%,#08fff7 91.75%,#00c7ff 92.25%,#00e7ff 92.75%,#00f7ff 93.25%,#00c7ff 93.75%,#00c7ff 94.25%,#00e7ff 94.75%,#00e7ff 95.25%,#00f7ff 95.75%,#38ffc7 96.25%,#28ffd7 96.75%,#28ffd7 97.25%,#00f7ff 97.75%,#00e7ff 98.25%,#00e7ff 99.25%,#00d7ff 99.75%)"></div>
<div class="r" style="top:73.63px;height:37.12px;background:linear-gradient(90deg,#000097 0.25%,#0000b7 0.75%,#0000d7 1.25%,#0000d7 1.75%,#0000a7 2.25%,#0000d7 2.75%,#0000d7 3.75%,#0000e7 4.25%,#0000d7 4.75%,#0000e7 5.25%,#0000c7 5.75%,#0008ff 6.25%,#0000d7 6.75%,#0000e7 7.25%,#0000e7 8.75%,#0008ff 9.25%,#0048ff 9.75%,#0097ff 10.25%,#0078ff 10.75%,#0078ff 11.25%,#0087ff 11.75%,#00a7ff 12.25%,#0097ff 12.75%,#0078ff 13.25%,#0097ff 13.75%,#00e7ff 14.25%,#28ffd7 14.75%,#38ffc7 15.25%,#00e7ff 15.75%,#0097ff 16.25%,#0087ff 16.75%,#00d7ff 17.25%,#00b7ff 17.75%,#0097ff 18.25%,#0078ff 18.75%,#0087ff 19.25%,#0097ff 19.75%,#0087ff 20.25%,#0068ff 20.75%,#0087ff 21.25%,#00a7ff 21.75%,#0078ff 22.25%,#0097ff 22.75%,#0087ff 23.25%,#0078ff 23.75%,#0068ff 24.25%,#0087ff 24.75%,#0058ff 25.25%,#0078ff 25.75%,#0078ff 26.25%,#00b7ff 26.75%,#0097ff 27.25%,#00d7ff 27.75%,#00b7ff 28.25%,#00a7ff 28.75%,#00b7ff 29.25%,#0097ff 29.75%,#00b7ff 30.25%,#00a7ff 30.75%,#00a7ff 31.25%,#0087ff 31.75%,#00b7ff 32.25%,#00b7ff 33.75%,#00a7ff 34.25%,#0087ff 34.75%,#0078ff 35.25%,#0087ff 35.75%,#00b7ff 36.25%,#0097ff 36.75%,#00a7ff 37.25%,#00c7ff 37.75%,#00c7ff 38.25%,#00a7ff 38.75%,#00a7ff 39.25%,#00d7ff 39.75%,#00f7ff 40.25%,#00e7ff 40.75%,#00f7ff 41.25%,#28ffd7 41.75%,#28ffd7 42.25%,#38ffc7 42.75%,#00e7ff 43.25%,#18ffe7 43.75%,#00d7ff 44.25%,#00f7ff 44.75%,#00d7ff 45.25%,#00a7ff 45.75%,#00b7ff 46.25%,#0097ff 46.75%,#00a7ff 47.25%,#0087ff 47.75%,#0078ff 48.25%,#0078ff 48.75%,#0068ff 49.25%,#0087ff 49.75%,#0078ff 50.25%,#0097ff 50.75%,#00c7ff 51.25%,#00d7ff 51.75%,#00c7ff 52.25%,#00e7ff 52.75%,#00b7ff 53.25%,#00c7ff 53.75%,#00d7ff 54.25%,#08fff7 54.75%,#28ffd7 55.25%,#00f7ff 55.75%,#08fff7 56.25%,#00f7ff 56.75%,#00d7ff 57.25%,#00e7ff 57.75%,#00f7ff 58.25%,#00e7ff 58.75%,#00f7ff 59.25%,#00d7ff 59.75%,#00d7ff 60.25%,#00a7ff 60.75%,#00d7ff 61.25%,#00d7ff 61.75%,#00c7ff 62.25%,#00c7ff 62.75%,#00b7ff 63.25%,#00a7ff 63.75%,#00d7ff 64.25%,#00c7ff 64.75%,#00c7ff 65.75%,#00b7ff 66.25%,#00a7ff 66.75%,#00f7ff 67.25%,#08fff7 67.75%,#00d7ff 68.25%,#00e7ff 68.75%,#08fff7 69.25%,#00d7ff 69.75%,#08fff7 70.25%,#08fff7 70.75%,#00e7ff 71.25%,#00f7ff 71.75%,#00e7ff 72.25%,#00d7ff 72.75%,#00e7ff 73.25%,#00e7ff 74.25%,#00b7ff 74.75%,#00e7ff 75.25%,#00e7ff 75.75%,#00d7ff 76.25%,#00b7ff 76.75%,#00f7ff 77.25%,#00f7ff 77.75%,#28ffd7 78.25%,#58ffa7 78.75%,#28ffd7 79.25%,#38ffc7 79.75%,#38ffc7 80.25%,#28ffd7 80.75%,#08fff7 81.25%,#18ffe7 81.75%,#00e7ff 82.25%,#18ffe7 82.75%,#08fff7 83.25%,#08fff7 83.75%,#28ffd7 84.25%,#18ffe7 84.75%,#28ffd7 85.25%,#38ffc7 85.75%,#00f7ff 86.25%,#00d7ff 86.75%,#00d7ff 87.25%,#00e7ff 87.75%,#00d7ff 88.25%,#00d7ff 88.75%,#00e7ff 89.25%,#00e7ff 89.75%,#00d7ff 90.25%,#00e7ff 90.75%,#08fff7 91.25%,#18ffe7 91.75%,#00d7ff 92.25%,#00f7ff 92.75%,#08fff7 93.25%,#00d7ff 93.75%,#00d7ff 94.25%,#00f7ff 94.75%,#00f7ff 95.25%,#18ffe7 95.75%,#48ffb7 96.25%,#48ffb7 96.75%,#38ffc7 97.25%,#08fff7 97.75%,#18ffe7 98.25%,#28ffd7 98.75%,#28ffd7 99.25%,#18ffe7 99.75%)"></div>
<div class="r" style="top:110.45px;height:37.12px;background:linear-gradient(90deg,#0000a7 0.25%,#0000c7 0.75%,#0000e7 1.25%,#0000e7 1.75%,#0000b7 2.25%,#0000e7 2.75%,#0000f7 3.25%,#0000e7 3.75%,#0000f7 4.25%,#0000e7 4.75%,#0000f7 5.25%,#0000d7 5.75%,#0018ff 6.25%,#0000e7 6.75%,#0000f7 7.25%,#0008ff 7.75%,#0000f7 8.25%,#0000f7 8.75%,#0018ff 9.25%,#0058ff 9.75%,#00b7ff 10.25%,#0097ff 10.75%,#0097ff 11.25%,#00a7ff 11.75%,#00c7ff 12.25%,#00a7ff 12.75%,#0097ff 13.25%,#00a7ff 13.75%,#00f7ff 14.25%,#38ffc7 14.75%,#48ffb7 15.25%,#00f7ff 15.75%,#00b7ff 16.25%,#00a7ff 16.75%,#00e7ff 17.25%,#00c7ff 17.75%,#00b7ff 18.25%,#0097ff 18.75%,#0087ff 19.25%,#00a7ff 19.75%,#0087ff 20.25%,#0078ff 20.75%,#0097ff 21.25%,#00b7ff 21.75%,#0087ff 22.25%,#0097ff 22.75%,#0097ff 23.25%,#0087ff 23.75%,#0078ff 24.25%,#0097ff 24.75%,#0068ff 25.25%,#0078ff 25.75%,#0078ff 26.25%,#00b7ff 26.75%,#0097ff 27.25%,#00d7ff 27.75%,#00b7ff 28.25%,#00a7ff 28.75%,#00b7ff 29.25%,#0097ff 29.75%,#00b7ff 30.25%,#00a7ff 30.75%,#00a7ff 31.25%,#0087ff 31.75%,#00b7ff 32.25%,#00c7ff 32.75%,#00d7ff 33.25%,#00d7ff 33.75%,#00b7ff 34.25%,#00a7ff 34.75%,#0097ff 35.25%,#00a7ff 35.75%,#00d7ff 36.25%,#00a7ff 36.75%,#00b7ff 37.25%,#00d7ff 37.75%,#00d7ff 38.25%,#00b7ff 38.75%,#00b7ff 39.25%,#00e7ff 39.75%,#18ffe7 40.25%,#08fff7 40.75%,#18ffe7 41.25%,#38ffc7 41.75%,#48ffb7 42.25%,#58ffa7 42.75%,#00f7ff 43.25%,#28ffd7 43.75%,#00f7ff 44.25%,#08fff7 44.75%,#00e7ff 45.25%,#00b7ff 45.75%,#00c7ff 46.25%,#00b7ff 46.75%,#00b7ff 47.25%,#0097ff 47.75%,#0087ff 48.25%,#0087ff 48.75%,#0078ff 49.25%,#00a7ff 49.75%,#0087ff 50.25%,#00a7ff 50.75%,#00d7ff 51.25%,#00e7ff 51.75%,#00d7ff 52.25%,#00f7ff 52.75%,#00d7ff 53.25%,#00d7ff 53.75%,#00e7ff 54.25%,#18ffe7 54.75%,#18ffe7 55.25%,#00f7ff 55.75%,#00f7ff 56.25%,#00e7ff 56.75%,#00d7ff 57.25%,#00d7ff 57.75%,#00e7ff 58.25%,#00e7ff 59.25%,#00d7ff 59.75%,#00c7ff 60.25%,#0097ff 60.75%,#00c7ff 61.25%,#00d7ff 61.75%,#00b7ff 62.25%,#00c7ff 62.75%,#00b7ff 63.25%,#0097ff 63.75%,#00c7ff 64.25%,#00b7ff 64.75%,#00c7ff 65.25%,#00c7ff 65.75%,#00b7ff 66.25%,#00b7ff 66.75%,#00e7ff 67.25%,#00f7ff 67.75%,#00c7ff 68.25%,#00c7ff 68.75%,#00f7ff 69.25%,#00d7ff 69.75%,#08fff7 70.25%,#18ffe7 70.75%,#00e7ff 71.25%,#08fff7 71.75%,#08fff7 72.25%,#00f7ff 72.75%,#08fff7 73.25%,#08fff7 74.25%,#00d7ff 74.75%,#08fff7 75.25%,#08fff7 75.75%,#00f7ff 76.25%,#00d7ff 76.75%,#18ffe7 77.25%,#18ffe7 77.75%,#38ffc7 78.25%,#68ff97 78.75%,#38ffc7 79.25%,#48ffb7 79.75%,#48ffb7 80.25%,#38ffc7 80.75%,#18ffe7 81.25%,#38ffc7 81.75%,#00f7ff 82.25%,#28ffd7 82.75%,#18ffe7 83.25%,#18ffe7 83.75%,#38ffc7 84.25%,#28ffd7 84.75%,#38ffc7 85.25%,#48ffb7 85.75%,#08fff7 86.25%,#00e7ff 86.75%,#00e7ff 87.25%,#00f7ff 87.75%,#00e7ff 88.25%,#00f7ff 88.75%,#08fff7 89.25%,#00f7ff 89.75%,#00e7ff 90.25%,#00f7ff 90.75%,#18ffe7 91.25%,#28ffd7 91.75%,#00e7ff 92.25%,#08fff7 92.75%,#18ffe7 93.25%,#00e7ff 93.75%,#00e7ff 94.25%,#08fff7 94.75%,#08fff7 95.25%,#28ffd7 95.75%,#68ff97 96.25%,#68ff97 96.75%,#58ffa7 97.25%,#38ffc7 97.75%,#38ffc7 98.25%,#48ffb7 98.75%,#48ffb7 99.25%,#38ffc7 99.75%)"></div>
<div class="r" style="top:147.26px;height:37.12px;background:linear-gradient(90deg,#000097 0.25%,#0000b7 0.75%,#0000d7 1.25%,#0000d7 1.75%,#0000a7 2.25%,#0000c7 2.75%,#0000c7 3.75%,#0000d7 4.25%,#0000c7 4.75%,#0000d7 5.25%,#0000b7 5.75%,#0000f7 6.25%,#0000c7 6.75%,#0000d7 7.25%,#0000d7 8.25%,#0000c7 8.75%,#0000f7 9.25%,#0048ff 9.75%,#0097ff 10.25%,#0078ff 10.75%,#0078ff 11.25%,#0087ff 11.75%,#00a7ff 12.25%,#0097ff 12.75%,#0078ff 13.25%,#0097ff 13.75%,#00d7ff 14.25%,#18ffe7 14.75%,#28ffd7 15.25%,#00d7ff 15.75%,#0097ff 16.25%,#0097ff 16.75%,#00d7ff 17.25%,#00b7ff 17.75%,#00a7ff 18.25%,#0087ff 18.75%,#0087ff 19.25%,#00a7ff 19.75%,#0097ff 20.25%,#0078ff 20.75%,#0097ff 21.25%,#00b7ff 21.75%,#0097ff 22.25%,#00b7ff 22.75%,#00a7ff 23.25%,#0097ff 23.75%,#0087ff 24.25%,#00a7ff 24.75%,#0078ff 25.25%,#0097ff 25.75%,#0097ff 26.25%,#00e7ff 26.75%,#00c7ff 27.25%,#08fff7 27.75%,#00f7ff 28.25%,#00e7ff 28.75%,#00e7ff 29.25%,#00c7ff 29.75%,#00e7ff 30.25%,#00d7ff 30.75%,#00d7ff 31.25%,#00b7ff 31.75%,#00e7ff 32.25%,#00e7ff 33.75%,#00d7ff 34.25%,#00b7ff 34.75%,#0097ff 35.25%,#00a7ff 35.75%,#00e7ff 36.25%,#00c7ff 36.75%,#00d7ff 37.25%,#00f7ff 37.75%,#00f7ff 38.25%,#00c7ff 38.75%,#00c7ff 39.25%,#00f7ff 39.75%,#18ffe7 40.25%,#08fff7 40.75%,#18ffe7 41.25%,#48ffb7 41.75%,#48ffb7 42.25%,#68ff97 42.75%,#08fff7 43.25%,#38ffc7 43.75%,#00f7ff 44.25%,#18ffe7 44.75%,#00e7ff 45.25%,#00b7ff 45.75%,#00c7ff 46.25%,#00b7ff 46.75%,#00c7ff 47.25%,#00a7ff 47.75%,#0097ff 48.25%,#0097ff 49.25%,#00c7ff 49.75%,#00c7ff 50.25%,#00e7ff 50.75%,#00f7ff 51.25%,#18ffe7 51.75%,#28ffd7 52.25%,#38ffc7 52.75%,#00f7ff 53.25%,#00f7ff 53.75%,#08fff7 54.25%,#38ffc7 54.75%,#38ffc7 55.25%,#18ffe7 55.75%,#18ffe7 56.75%,#00f7ff 57.25%,#00f7ff 57.75%,#08fff7 58.25%,#08fff7 58.75%,#18ffe7 59.25%,#00f7ff 59.75%,#00f7ff 60.25%,#00d7ff 60.75%,#00f7ff 61.25%,#08fff7 61.75%,#00e7ff 62.25%,#00f7ff 62.75%,#00e7ff 63.25%,#00d7ff 63.75%,#08fff7 64.25%,#00e7ff 64.75%,#00f7ff 65.25%,#00f7ff 65.75%,#00d7ff 66.25%,#00d7ff 66.75%,#08fff7 67.25%,#18ffe7 67.75%,#00e7ff 68.25%,#00f7ff 68.75%,#18ffe7 69.25%,#00f7ff 69.75%,#28ffd7 70.25%,#38ffc7 70.75%,#08fff7 71.25%,#28ffd7 71.75%,#28ffd7 73.75%,#38ffc7 74.25%,#08fff7 74.75%,#38ffc7 75.25%,#28ffd7 75.75%,#18ffe7 76.25%,#08fff7 76.75%,#38ffc7 77.25%,#38ffc7 77.75%,#68ff97 78.25%,#97ff68 78.75%,#68ff97 79.25%,#78ff87 79.75%,#78ff87 80.25%,#68ff97 80.75%,#48ffb7 81.25%,#68ff97 81.75%,#28ffd7 82.25%,#58ffa7 82.75%,#58ffa7 83.25%,#48ffb7 83.75%,#78ff87 84.25%,#58ffa7 84.75%,#78ff87 85.25%,#78ff87 85.75%,#48ffb7 86.25%,#18ffe7 86.75%,#18ffe7 87.25%,#28ffd7 87.75%,#18ffe7 88.25%,#28ffd7 88.75%,#38ffc7 89.25%,#28ffd7 89.75%,#18ffe7 90.25%,#28ffd7 90.75%,#48ffb7 91.25%,#58ffa7 91.75%,#18ffe7 92.25%,#38ffc7 92.75%,#48ffb7 93.25%,#18ffe7 93.75%,#18ffe7 94.25%,#48ffb7 94.75%,#38ffc7 95.25%,#58ffa7 95.75%,#87ff78 96.25%,#87ff78 97.25%,#58ffa7 97.75%,#58ffa7 98.25%,#68ff97 98.75%,#68ff97 99.25%,#58ffa7 99.75%)"></div>
<div class="r" style="top:184.08px;height:37.12px;background:linear-gradient(90deg,#0000a7 0.25%,#0000c7 0.75%,#0000e7 1.25%,#0000e7 1.75%,#0000b7 2.25%,#0000e7 2.75%,#0000f7 3.25%,#0000e7 3.75%,#0000f7 4.25%,#0000e7 4.75%,#0000f7 5.25%,#0000e7 5.75%,#0038ff 6.25%,#0028ff 6.75%,#0028ff 7.25%,#0038ff 7.75%,#0038ff 8.25%,#0028ff 8.75%,#0038ff 9.25%,#0068ff 9.75%,#00b7ff 10.25%,#0097ff 10.75%,#0097ff 11.25%,#00a7ff 11.75%,#00c7ff 12.25%,#00a7ff 12.75%,#0097ff 13.25%,#00a7ff 13.75%,#00e7ff 14.25%,#18ffe7 14.75%,#28ffd7 15.25%,#00e7ff 15.75%,#00a7ff 16.25%,#00a7ff 16.75%,#00e7ff 17.25%,#00c7ff 17.75%,#00b7ff 18.25%,#0097ff 18.75%,#00a7ff 19.25%,#00b7ff 19.75%,#00a7ff 20.25%,#0087ff 20.75%,#00a7ff 21.25%,#00c7ff 21.75%,#00a7ff 22.25%,#00b7ff 22.75%,#00b7ff 23.25%,#00a7ff 23.75%,#0097ff 24.25%,#00b7ff 24.75%,#0087ff 25.25%,#0097ff 25.75%,#0097ff 26.25%,#00e7ff 26.75%,#00c7ff 27.25%,#18ffe7 27.75%,#00f7ff 28.25%,#00e7ff 28.75%,#00f7ff 29.25%,#00d7ff 29.75%,#00f7ff 30.25%,#00e7ff 30.75%,#00e7ff 31.25%,#00c7ff 31.75%,#00f7ff 32.25%,#00f7ff 33.75%,#00e7ff 34.25%,#00c7ff 34.75%,#00a7ff 35.25%,#00b7ff 35.75%,#00e7ff 36.25%,#00c7ff 36.75%,#00d7ff 37.25%,#08fff7 37.75%,#08fff7 38.25%,#00d7ff 38.75%,#00d7ff 39.25%,#18ffe7 39.75%,#48ffb7 40.25%,#38ffc7 40.75%,#48ffb7 41.25%,#78ff87 41.75%,#78ff87 42.25%,#87ff78 42.75%,#38ffc7 43.25%,#68ff97 43.75%,#28ffd7 44.25%,#38ffc7 44.75%,#00f7ff 45.25%,#00c7ff 45.75%,#00d7ff 46.25%,#00c7ff 46.75%,#00d7ff 47.25%,#00b7ff 47.75%,#00a7ff 48.25%,#00a7ff 49.25%,#00e7ff 49.75%,#00f7ff 50.25%,#18ffe7 50.75%,#28ffd7 51.25%,#48ffb7 51.75%,#68ff97 52.25%,#78ff87 52.75%,#48ffb7 53.25%,#48ffb7 54.25%,#87ff78 54.75%,#87ff78 55.25%,#58ffa7 55.75%,#68ff97 56.25%,#58ffa7 56.75%,#38ffc7 57.25%,#38ffc7 57.75%,#58ffa7 58.25%,#48ffb7 58.75%,#58ffa7 59.25%,#48ffb7 59.75%,#38ffc7 60.25%,#18ffe7 60.75%,#48ffb7 61.25%,#48ffb7 61.75%,#38ffc7 62.25%,#38ffc7 62.75%,#28ffd7 63.25%,#18ffe7 63.75%,#48ffb7 64.25%,#28ffd7 64.75%,#38ffc7 65.25%,#38ffc7 65.75%,#08fff7 66.25%,#08fff7 66.75%,#48ffb7 67.25%,#48ffb7 67.75%,#18ffe7 68.25%,#28ffd7 68.75%,#48ffb7 69.25%,#38ffc7 69.75%,#68ff97 70.25%,#78ff87 70.75%,#58ffa7 71.25%,#68ff97 71.75%,#68ff97 73.75%,#78ff87 74.25%,#48ffb7 74.75%,#78ff87 75.25%,#68ff97 75.75%,#58ffa7 76.25%,#48ffb7 76.75%,#87ff78 77.25%,#78ff87 77.75%,#a7ff58 78.25%,#c7ff38 78.75%,#97ff68 79.25%,#a7ff58 79.75%,#a7ff58 80.25%,#97ff68 80.75%,#78ff87 81.25%,#97ff68 81.75%,#68ff97 82.25%,#87ff78 82.75%,#87ff78 83.25%,#78ff87 83.75%,#a7ff58 84.25%,#87ff78 84.75%,#a7ff58 85.25%,#a7ff58 85.75%,#78ff87 86.25%,#48ffb7 86.75%,#58ffa7 87.25%,#68ff97 87.75%,#48ffb7 88.25%,#58ffa7 88.75%,#68ff97 89.25%,#68ff97 89.75%,#48ffb7 90.25%,#58ffa7 90.75%,#78ff87 91.25%,#87ff78 91.75%,#58ffa7 92.25%,#78ff87 92.75%,#78ff87 93.25%,#48ffb7 93.75%,#48ffb7 94.25%,#78ff87 94.75%,#68ff97 95.25%,#87ff78 95.75%,#b7ff48 96.25%,#b7ff48 97.25%,#87ff78 97.75%,#87ff78 98.25%,#97ff68 98.75%,#97ff68 99.75%)"></div>
<div class="r" style="top:220.89px;height:37.12px;background:linear-gradient(90deg,#0000d7 0.25%,#0008ff 0.75%,#0018ff 1.25%,#0018ff 1.75%,#0008ff 2.25%,#0048ff 2.75%,#0058ff 3.25%,#0058ff 3.75%,#0068ff 4.25%,#0078ff 4.75%,#0097ff 5.25%,#0078ff 5.75%,#00a7ff 6.25%,#0087ff 6.75%,#0097ff 7.25%,#00a7ff 7.75%,#00b7ff 8.25%,#00a7ff 8.75%,#0097ff 9.25%,#00c7ff 9.75%,#18ffe7 10.25%,#00f7ff 10.75%,#08fff7 11.25%,#08fff7 12.25%,#00e7ff 12.75%,#00f7ff 13.25%,#08fff7 13.75%,#48ffb7 14.25%,#68ff97 14.75%,#78ff87 15.25%,#48ffb7 15.75%,#00f7ff 16.25%,#00e7ff 16.75%,#18ffe7 17.25%,#00f7ff 17.75%,#00e7ff 18.25%,#00c7ff 18.75%,#00d7ff 19.25%,#00e7ff 19.75%,#00d7ff 20.25%,#00b7ff 20.75%,#00d7ff 21.25%,#00f7ff 21.75%,#00d7ff 22.25%,#00e7ff 22.75%,#00d7ff 23.25%,#00c7ff 23.75%,#00b7ff 24.25%,#00d7ff 24.75%,#00b7ff 25.25%,#00c7ff 25.75%,#00c7ff 26.25%,#00f7ff 26.75%,#00d7ff 27.25%,#18ffe7 27.75%,#18ffe7 28.25%,#08fff7 28.75%,#08fff7 29.25%,#00f7ff 29.75%,#18ffe7 30.25%,#08fff7 30.75%,#08fff7 31.25%,#00e7ff 31.75%,#18ffe7 32.25%,#18ffe7 33.75%,#08fff7 34.25%,#00e7ff 34.75%,#00d7ff 35.25%,#00d7ff 35.75%,#18ffe7 36.25%,#00f7ff 36.75%,#08fff7 37.25%,#28ffd7 37.75%,#28ffd7 38.25%,#08fff7 38.75%,#08fff7 39.25%,#38ffc7 39.75%,#58ffa7 40.25%,#48ffb7 40.75%,#58ffa7 41.25%,#87ff78 41.75%,#87ff78 42.25%,#97ff68 42.75%,#48ffb7 43.25%,#78ff87 43.75%,#38ffc7 44.25%,#78ff87 44.75%,#78ff87 45.25%,#18ffe7 45.75%,#00f7ff 46.25%,#00d7ff 46.75%,#00f7ff 47.25%,#00e7ff 47.75%,#00c7ff 48.25%,#00c7ff 49.25%,#00f7ff 49.75%,#00f7ff 50.25%,#18ffe7 50.75%,#28ffd7 51.25%,#58ffa7 51.75%,#68ff97 52.25%,#87ff78 52.75%,#58ffa7 53.25%,#58ffa7 54.25%,#97ff68 54.75%,#97ff68 55.25%,#68ff97 55.75%,#78ff87 56.25%,#68ff97 56.75%,#48ffb7 57.25%,#58ffa7 57.75%,#68ff97 58.25%,#58ffa7 58.75%,#68ff97 59.25%,#58ffa7 59.75%,#48ffb7 60.25%,#28ffd7 60.75%,#58ffa7 61.25%,#58ffa7 61.75%,#48ffb7 62.25%,#48ffb7 62.75%,#38ffc7 63.25%,#28ffd7 63.75%,#58ffa7 64.25%,#38ffc7 64.75%,#48ffb7 65.25%,#48ffb7 65.75%,#28ffd7 66.25%,#38ffc7 66.75%,#78ff87 67.25%,#97ff68 67.75%,#68ff97 68.25%,#68ff97 68.75%,#97ff68 69.25%,#68ff97 69.75%,#87ff78 70.25%,#87ff78 70.75%,#68ff97 71.25%,#78ff87 71.75%,#78ff87 72.75%,#87ff78 73.25%,#78ff87 73.75%,#87ff78 74.25%,#58ffa7 74.75%,#87ff78 75.25%,#78ff87 75.75%,#68ff97 76.25%,#58ffa7 76.75%,#97ff68 77.25%,#87ff78 77.75%,#b7ff48 78.25%,#d7ff28 78.75%,#a7ff58 79.25%,#c7ff38 79.75%,#c7ff38 80.25%,#b7ff48 80.75%,#97ff68 81.25%,#b7ff48 81.75%,#87ff78 82.25%,#a7ff58 82.75%,#a7ff58 83.25%,#97ff68 83.75%,#c7ff38 84.25%,#a7ff58 84.75%,#c7ff38 85.25%,#c7ff38 85.75%,#87ff78 86.25%,#58ffa7 86.75%,#68ff97 87.25%,#78ff87 87.75%,#58ffa7 88.25%,#68ff97 88.75%,#78ff87 89.25%,#78ff87 89.75%,#58ffa7 90.25%,#68ff97 90.75%,#87ff78 91.25%,#97ff68 91.75%,#68ff97 92.25%,#87ff78 92.75%,#97ff68 93.25%,#68ff97 93.75%,#58ffa7 94.25%,#87ff78 94.75%,#78ff87 95.25%,#97ff68 95.75%,#c7ff38 96.25%,#c7ff38 97.25%,#97ff68 97.75%,#97ff68 98.25%,#a7ff58 98.75%,#a7ff58 99.75%)"></div>
<div class="r" style="top:257.71px;height:37.12px;background:linear-gradient(90deg,#0000f7 0.25%,#0018ff 0.75%,#0028ff 1.25%,#0028ff 1.75%,#0008ff 2.25%,#0028ff 2.75%,#0038ff 3.25%,#0038ff 4.75%,#0068ff 5.25%,#0058ff 5.75%,#0087ff 6.25%,#0068ff 6.75%,#0068ff 7.25%,#0097ff 7.75%,#00a7ff 8.25%,#00a7ff 8.75%,#0097ff 9.25%,#00c7ff 9.75%,#18ffe7 10.25%,#00f7ff 10.75%,#08fff7 11.25%,#08fff7 12.25%,#00e7ff 12.75%,#00d7ff 13.25%,#00e7ff 13.75%,#28ffd7 14.25%,#58ffa7 14.75%,#68ff97 15.25%,#38ffc7 15.75%,#08fff7 16.25%,#08fff7 16.75%,#58ffa7 17.25%,#38ffc7 17.75%,#18ffe7 18.25%,#00f7ff 18.75%,#00f7ff 19.25%,#18ffe7 19.75%,#00f7ff 20.25%,#00d7ff 20.75%,#00f7ff 21.25%,#18ffe7 21.75%,#00f7ff 22.25%,#08fff7 22.75%,#00f7ff 23.25%,#00e7ff 23.75%,#00d7ff 24.25%,#00f7ff 24.75%,#00d7ff 25.25%,#00e7ff 25.75%,#00e7ff 26.25%,#28ffd7 26.75%,#08fff7 27.25%,#38ffc7 27.75%,#28ffd7 28.25%,#18ffe7 28.75%,#28ffd7 29.25%,#28ffd7 29.75%,#58ffa7 30.25%,#38ffc7 30.75%,#38ffc7 31.25%,#18ffe7 31.75%,#48ffb7 32.25%,#48ffb7 32.75%,#58ffa7 33.25%,#58ffa7 33.75%,#38ffc7 34.25%,#28ffd7 34.75%,#08fff7 35.25%,#18ffe7 35.75%,#48ffb7 36.25%,#28ffd7 36.75%,#38ffc7 37.25%,#58ffa7 37.75%,#58ffa7 38.25%,#38ffc7 38.75%,#38ffc7 39.25%,#68ff97 39.75%,#78ff87 40.25%,#68ff97 40.75%,#78ff87 41.25%,#b7ff48 41.75%,#d7ff28 42.25%,#f7ff08 42.75%,#97ff68 43.25%,#b7ff48 43.75%,#68ff97 44.25%,#97ff68 44.75%,#97ff68 45.25%,#38ffc7 45.75%,#18ffe7 46.25%,#00f7ff 46.75%,#18ffe7 47.25%,#08fff7 47.75%,#00f7ff 48.25%,#00f7ff 48.75%,#00e7ff 49.25%,#18ffe7 49.75%,#18ffe7 50.25%,#28ffd7 50.75%,#38ffc7 51.25%,#68ff97 51.75%,#87ff78 52.25%,#97ff68 52.75%,#68ff97 53.25%,#68ff97 53.75%,#78ff87 54.25%,#a7ff58 54.75%,#a7ff58 55.25%,#87ff78 55.75%,#87ff78 56.25%,#78ff87 56.75%,#58ffa7 57.25%,#68ff97 57.75%,#78ff87 58.25%,#68ff97 58.75%,#78ff87 59.25%,#68ff97 59.75%,#58ffa7 60.25%,#38ffc7 60.75%,#68ff97 61.25%,#68ff97 61.75%,#58ffa7 62.25%,#58ffa7 62.75%,#48ffb7 63.25%,#38ffc7 63.75%,#68ff97 64.25%,#58ffa7 64.75%,#58ffa7 65.75%,#38ffc7 66.25%,#58ffa7 66.75%,#97ff68 67.25%,#b7ff48 67.75%,#87ff78 68.25%,#87ff78 68.75%,#b7ff48 69.25%,#87ff78 69.75%,#a7ff58 70.25%,#b7ff48 70.75%,#87ff78 71.25%,#97ff68 71.75%,#97ff68 72.75%,#a7ff58 73.25%,#97ff68 73.75%,#a7ff58 74.25%,#78ff87 74.75%,#a7ff58 75.25%,#97ff68 75.75%,#87ff78 76.25%,#78ff87 76.75%,#b7ff48 77.25%,#a7ff58 77.75%,#d7ff28 78.25%,#f7ff08 78.75%,#d7ff28 79.25%,#e7ff18 79.75%,#e7ff18 80.25%,#c7ff38 80.75%,#a7ff58 81.25%,#c7ff38 81.75%,#97ff68 82.25%,#b7ff48 82.75%,#b7ff48 83.25%,#a7ff58 83.75%,#d7ff28 84.25%,#c7ff38 84.75%,#d7ff28 85.25%,#d7ff28 85.75%,#97ff68 86.25%,#68ff97 86.75%,#78ff87 87.25%,#87ff78 87.75%,#68ff97 88.25%,#78ff87 88.75%,#87ff78 89.25%,#87ff78 89.75%,#68ff97 90.25%,#78ff87 90.75%,#97ff68 91.25%,#a7ff58 91.75%,#78ff87 92.25%,#97ff68 92.75%,#a7ff58 93.25%,#78ff87 93.75%,#68ff97 94.25%,#97ff68 94.75%,#97ff68 95.25%,#a7ff58 95.75%,#d7ff28 96.25%,#c7ff38 96.75%,#c7ff38 97.25%,#97ff68 97.75%,#97ff68 98.25%,#a7ff58 98.75%,#a7ff58 99.75%)"></div>
<div class="r" style="top:294.52px;height:37.12px;background:linear-gradient(90deg,#0000d7 0.25%,#0008ff 0.75%,#0018ff 1.25%,#0018ff 1.75%,#0000e7 2.25%,#0000f7 2.75%,#0008ff 3.25%,#0008ff 4.25%,#0018ff 4.75%,#0058ff 5.25%,#0048ff 5.75%,#0078ff 6.25%,#0058ff 6.75%,#0058ff 7.25%,#0087ff 7.75%,#00a7ff 8.25%,#00a7ff 8.75%,#0097ff 9.25%,#00c7ff 9.75%,#18ffe7 10.25%,#00f7ff 10.75%,#08fff7 11.25%,#08fff7 12.25%,#00e7ff 12.75%,#00d7ff 13.25%,#00e7ff 13.75%,#28ffd7 14.25%,#58ffa7 14.75%,#68ff97 15.25%,#38ffc7 15.75%,#08fff7 16.25%,#08fff7 16.75%,#58ffa7 17.25%,#38ffc7 17.75%,#18ffe7 18.25%,#00f7ff 18.75%,#00f7ff 19.25%,#18ffe7 19.75%,#00f7ff 20.25%,#00d7ff 20.75%,#00f7ff 21.25%,#18ffe7 21.75%,#00f7ff 22.25%,#08fff7 22.75%,#00f7ff 23.25%,#00e7ff 23.75%,#00d7ff 24.25%,#00f7ff 24.75%,#00d7ff 25.25%,#00e7ff 25.75%,#00e7ff 26.25%,#38ffc7 26.75%,#08fff7 27.25%,#48ffb7 27.75%,#38ffc7 28.25%,#28ffd7 28.75%,#38ffc7 29.25%,#38ffc7 29.75%,#68ff97 30.25%,#48ffb7 30.75%,#48ffb7 31.25%,#28ffd7 31.75%,#58ffa7 32.25%,#58ffa7 32.75%,#68ff97 33.25%,#68ff97 33.75%,#48ffb7 34.25%,#38ffc7 34.75%,#18ffe7 35.25%,#28ffd7 35.75%,#58ffa7 36.25%,#38ffc7 36.75%,#48ffb7 37.25%,#68ff97 37.75%,#68ff97 38.25%,#48ffb7 38.75%,#48ffb7 39.25%,#78ff87 39.75%,#97ff68 40.25%,#97ff68 40.75%,#a7ff58 41.25%,#d7ff28 41.75%,#f7ff08 42.25%,#ffe700 42.75%,#b7ff48 43.25%,#d7ff28 43.75%,#87ff78 44.25%,#b7ff48 44.75%,#b7ff48 45.25%,#68ff97 45.75%,#38ffc7 46.25%,#18ffe7 46.75%,#38ffc7 47.25%,#28ffd7 47.75%,#18ffe7 48.25%,#18ffe7 48.75%,#08fff7 49.25%,#38ffc7 49.75%,#38ffc7 50.25%,#48ffb7 50.75%,#68ff97 51.25%,#97ff68 51.75%,#b7ff48 52.25%,#d7ff28 52.75%,#a7ff58 53.25%,#a7ff58 53.75%,#b7ff48 54.25%,#e7ff18 54.75%,#e7ff18 55.25%,#c7ff38 55.75%,#c7ff38 56.25%,#b7ff48 56.75%,#97ff68 57.25%,#a7ff58 57.75%,#b7ff48 58.25%,#b7ff48 59.25%,#a7ff58 59.75%,#a7ff58 60.25%,#78ff87 60.75%,#a7ff58 61.25%,#b7ff48 61.75%,#97ff68 62.25%,#97ff68 62.75%,#87ff78 63.25%,#78ff87 63.75%,#a7ff58 64.25%,#97ff68 64.75%,#97ff68 65.75%,#87ff78 66.25%,#97ff68 66.75%,#e7ff18 67.25%,#f7ff08 67.75%,#c7ff38 68.25%,#c7ff38 68.75%,#f7ff08 69.25%,#c7ff38 69.75%,#e7ff18 70.25%,#f7ff08 70.75%,#c7ff38 71.25%,#d7ff28 71.75%,#e7ff18 72.25%,#d7ff28 72.75%,#e7ff18 73.25%,#e7ff18 74.25%,#b7ff48 74.75%,#e7ff18 75.25%,#e7ff18 75.75%,#d7ff28 76.25%,#b7ff48 76.75%,#f7ff08 77.25%,#e7ff18 77.75%,#fff700 78.25%,#ffd700 78.75%,#fff700 79.25%,#ffe700 79.75%,#ffe700 80.25%,#fff700 80.75%,#e7ff18 81.25%,#f7ff08 81.75%,#c7ff38 82.25%,#f7ff08 82.75%,#e7ff18 83.25%,#e7ff18 83.75%,#fff700 84.25%,#f7ff08 84.75%,#fff700 85.25%,#ffe700 85.75%,#d7ff28 86.25%,#a7ff58 86.75%,#b7ff48 87.25%,#c7ff38 87.75%,#b7ff48 88.25%,#b7ff48 88.75%,#c7ff38 89.25%,#c7ff38 89.75%,#a7ff58 90.25%,#c7ff38 90.75%,#e7ff18 91.25%,#f7ff08 91.75%,#b7ff48 92.25%,#d7ff28 92.75%,#e7ff18 93.25%,#b7ff48 93.75%,#b7ff48 94.25%,#d7ff28 94.75%,#d7ff28 95.25%,#e7ff18 95.75%,#ffe700 96.25%,#fff700 96.75%,#fff700 97.25%,#d7ff28 97.75%,#d7ff28 98.25%,#e7ff18 98.75%,#f7ff08 99.25%,#e7ff18 99.75%)"></div>
<div class="r" style="top:331.34px;height:37.12px;background:linear-gradient(90deg,#0000f7 0.25%,#0018ff 0.75%,#0028ff 1.25%,#0028ff 1.75%,#0008ff 2.25%,#0048ff 2.75%,#0058ff 3.25%,#0058ff 4.25%,#0068ff 4.75%,#00a7ff 5.25%,#0097ff 5.75%,#00c7ff 6.25%,#00a7ff 6.75%,#00b7ff 7.25%,#00d7ff 7.75%,#00e7ff 8.25%,#00f7ff 8.75%,#00e7ff 9.25%,#08fff7 9.75%,#58ffa7 10.25%,#48ffb7 10.75%,#48ffb7 11.75%,#58ffa7 12.25%,#38ffc7 12.75%,#18ffe7 13.25%,#28ffd7 13.75%,#68ff97 14.25%,#97ff68 14.75%,#a7ff58 15.25%,#78ff87 15.75%,#48ffb7 16.25%,#48ffb7 16.75%,#97ff68 17.25%,#78ff87 17.75%,#58ffa7 18.25%,#38ffc7 18.75%,#28ffd7 19.25%,#48ffb7 19.75%,#28ffd7 20.25%,#18ffe7 20.75%,#38ffc7 21.25%,#58ffa7 21.75%,#28ffd7 22.25%,#38ffc7 22.75%,#38ffc7 23.25%,#28ffd7 23.75%,#18ffe7 24.25%,#38ffc7 24.75%,#08fff7 25.25%,#18ffe7 25.75%,#18ffe7 26.25%,#58ffa7 26.75%,#38ffc7 27.25%,#78ff87 27.75%,#58ffa7 28.25%,#48ffb7 28.75%,#68ff97 29.25%,#58ffa7 29.75%,#87ff78 30.25%,#68ff97 30.75%,#78ff87 31.25%,#48ffb7 31.75%,#87ff78 32.25%,#78ff87 32.75%,#87ff78 33.25%,#87ff78 33.75%,#68ff97 34.25%,#58ffa7 34.75%,#38ffc7 35.25%,#48ffb7 35.75%,#78ff87 36.25%,#58ffa7 36.75%,#68ff97 37.25%,#97ff68 37.75%,#97ff68 38.25%,#68ff97 38.75%,#68ff97 39.25%,#97ff68 39.75%,#b7ff48 40.25%,#b7ff48 40.75%,#c7ff38 41.25%,#fff700 41.75%,#ffd700 42.25%,#ffb700 42.75%,#e7ff18 43.25%,#fff700 43.75%,#a7ff58 44.25%,#d7ff28 44.75%,#d7ff28 45.25%,#87ff78 45.75%,#68ff97 46.25%,#58ffa7 46.75%,#68ff97 47.25%,#58ffa7 47.75%,#48ffb7 48.25%,#48ffb7 48.75%,#38ffc7 49.25%,#78ff87 49.75%,#78ff87 50.25%,#87ff78 50.75%,#a7ff58 51.25%,#c7ff38 51.75%,#d7ff28 52.25%,#f7ff08 52.75%,#b7ff48 53.25%,#b7ff48 53.75%,#c7ff38 54.25%,#fff700 54.75%,#ffd700 55.25%,#fff700 55.75%,#fff700 56.75%,#e7ff18 57.25%,#e7ff18 57.75%,#f7ff08 58.25%,#f7ff08 58.75%,#fff700 59.25%,#e7ff18 59.75%,#d7ff28 60.25%,#a7ff58 60.75%,#d7ff28 61.25%,#e7ff18 61.75%,#c7ff38 62.25%,#d7ff28 62.75%,#c7ff38 63.25%,#b7ff48 63.75%,#d7ff28 64.25%,#c7ff38 64.75%,#d7ff28 65.25%,#d7ff28 65.75%,#b7ff48 66.25%,#b7ff48 66.75%,#f7ff08 67.25%,#fff700 67.75%,#d7ff28 68.25%,#e7ff18 68.75%,#fff700 69.25%,#d7ff28 69.75%,#fff700 70.25%,#ffe700 70.75%,#f7ff08 71.25%,#ffe700 71.75%,#ffe700 73.75%,#ffd700 74.25%,#f7ff08 74.75%,#ffd700 75.25%,#ffe700 75.75%,#fff700 76.25%,#e7ff18 76.75%,#ffd700 77.25%,#ffe700 77.75%,#ffc700 78.25%,#ffa700 78.75%,#ffd700 79.25%,#ffc700 79.75%,#ffb700 80.25%,#ffc700 80.75%,#ffe700 81.25%,#ffc700 81.75%,#f7ff08 82.25%,#ffd700 82.75%,#ffe700 83.25%,#ffd700 83.75%,#ff9700 84.25%,#ffa700 84.75%,#ff9700 85.25%,#ff9700 85.75%,#ffe700 86.25%,#e7ff18 86.75%,#e7ff18 87.25%,#f7ff08 87.75%,#e7ff18 88.25%,#f7ff08 88.75%,#fff700 89.25%,#f7ff08 89.75%,#e7ff18 90.25%,#f7ff08 90.75%,#ffe700 91.25%,#ffd700 91.75%,#e7ff18 92.25%,#fff700 92.75%,#ffe700 93.25%,#e7ff18 93.75%,#e7ff18 94.25%,#fff700 94.75%,#fff700 95.25%,#ffe700 95.75%,#ffc700 96.25%,#ffd700 96.75%,#ffd700 97.25%,#f7ff08 97.75%,#fff700 98.25%,#ffe700 98.75%,#ffe700 99.25%,#fff700 99.75%)"></div>
<div class="r" style="top:368.15px;height:37.12px;background:linear-gradient(90deg,#0028ff 0.25%,#0048ff 0.75%,#0058ff 1.25%,#0058ff 1.75%,#0048ff 2.25%,#0078ff 2.75%,#0087ff 3.25%,#0087ff 4.25%,#0097ff 4.75%,#00d7ff 5.25%,#00c7ff 5.75%,#08fff7 6.25%,#00d7ff 6.75%,#00e7ff 7.25%,#08fff7 7.75%,#28ffd7 8.25%,#28ffd7 8.75%,#18ffe7 9.25%,#38ffc7 9.75%,#97ff68 10.25%,#87ff78 10.75%,#87ff78 11.75%,#97ff68 12.25%,#78ff87 12.75%,#58ffa7 13.25%,#68ff97 13.75%,#a7ff58 14.25%,#c7ff38 14.75%,#d7ff28 15.25%,#a7ff58 15.75%,#87ff78 16.25%,#87ff78 16.75%,#c7ff38 17.25%,#a7ff58 17.75%,#97ff68 18.25%,#78ff87 18.75%,#78ff87 19.25%,#87ff78 19.75%,#78ff87 20.25%,#58ffa7 20.75%,#78ff87 21.25%,#97ff68 21.75%,#68ff97 22.25%,#87ff78 22.75%,#78ff87 23.25%,#68ff97 23.75%,#58ffa7 24.25%,#78ff87 24.75%,#48ffb7 25.25%,#58ffa7 25.75%,#58ffa7 26.25%,#a7ff58 26.75%,#78ff87 27.25%,#b7ff48 27.75%,#97ff68 28.25%,#87ff78 28.75%,#a7ff58 29.25%,#97ff68 29.75%,#c7ff38 30.25%,#b7ff48 30.75%,#b7ff48 31.25%,#97ff68 31.75%,#c7ff38 32.25%,#c7ff38 33.75%,#a7ff58 34.25%,#97ff68 34.75%,#78ff87 35.25%,#87ff78 35.75%,#c7ff38 36.25%,#97ff68 36.75%,#b7ff48 37.25%,#d7ff28 37.75%,#d7ff28 38.25%,#a7ff58 38.75%,#a7ff58 39.25%,#d7ff28 39.75%,#fff700 40.25%,#f7ff08 40.75%,#fff700 41.25%,#ffb700 41.75%,#ff9700 42.25%,#ff7800 42.75%,#ffd700 43.25%,#ffb700 43.75%,#e7ff18 44.25%,#ffe700 44.75%,#ffe700 45.25%,#d7ff28 45.75%,#b7ff48 46.25%,#a7ff58 46.75%,#b7ff48 47.25%,#a7ff58 47.75%,#97ff68 48.25%,#97ff68 49.25%,#c7ff38 49.75%,#b7ff48 50.25%,#d7ff28 50.75%,#e7ff18 51.25%,#fff700 51.75%,#ffe700 52.25%,#ffd700 52.75%,#e7ff18 53.25%,#e7ff18 53.75%,#f7ff08 54.25%,#ffb700 54.75%,#ff9700 55.25%,#ffb700 55.75%,#ffb700 56.25%,#ffc700 56.75%,#ffe700 57.25%,#ffd700 57.75%,#ffc700 58.25%,#ffc700 59.25%,#ffd700 59.75%,#ffe700 60.25%,#f7ff08 60.75%,#ffd700 61.25%,#ffd700 61.75%,#ffe700 62.25%,#ffe700 62.75%,#fff700 63.25%,#f7ff08 63.75%,#ffd700 64.25%,#f7ff08 64.75%,#f7ff08 65.75%,#d7ff28 66.25%,#e7ff18 66.75%,#ffc700 67.25%,#ffb700 67.75%,#ffe700 68.25%,#ffd700 68.75%,#ffb700 69.25%,#ffe700 69.75%,#ffb700 70.25%,#ffa700 70.75%,#ffc700 71.25%,#ffb700 71.75%,#ffa700 72.25%,#ffb700 72.75%,#ffa700 73.25%,#ffa700 74.25%,#ffd700 74.75%,#ffa700 75.25%,#ffa700 75.75%,#ffb700 76.25%,#ffd700 76.75%,#ff9700 77.25%,#ffb700 77.75%,#ff9700 78.25%,#ff8700 78.75%,#ffa700 79.25%,#ff9700 79.75%,#ff8700 80.25%,#ff9700 80.75%,#ffb700 81.25%,#ff9700 81.75%,#ffd700 82.25%,#ffa700 82.75%,#ffa700 83.75%,#ff6800 84.25%,#ff7800 84.75%,#ff6800 85.25%,#ff6800 85.75%,#ffa700 86.25%,#ffd700 86.75%,#ffc700 87.25%,#ffb700 87.75%,#ffd700 88.25%,#ffc700 88.75%,#ffb700 89.25%,#ffb700 89.75%,#ffd700 90.25%,#ffc700 90.75%,#ffa700 91.25%,#ff9700 91.75%,#ffd700 92.25%,#ffc700 92.75%,#ffb700 93.25%,#ffe700 93.75%,#ffe700 94.25%,#ffb700 94.75%,#ffc700 95.25%,#ffb700 95.75%,#ff8700 96.25%,#ff9700 96.75%,#ff9700 97.25%,#ffc700 97.75%,#ffc700 98.25%,#ffb700 98.75%,#ffb700 99.25%,#ffc700 99.75%)"></div>
<div class="r" style="top:404.97px;height:37.12px;background:linear-gradient(90deg,#0058ff 0.25%,#0078ff 0.75%,#0087ff 1.25%,#0097ff 1.75%,#0068ff 2.25%,#0097ff 2.75%,#00a7ff 3.25%,#00a7ff 3.75%,#00b7ff 4.25%,#00b7ff 4.75%,#00e7ff 5.25%,#00d7ff 5.75%,#18ffe7 6.25%,#00e7ff 6.75%,#00f7ff 7.25%,#18ffe7 7.75%,#38ffc7 8.25%,#38ffc7 8.75%,#28ffd7 9.25%,#58ffa7 9.75%,#b7ff48 10.25%,#a7ff58 10.75%,#b7ff48 11.25%,#a7ff58 11.75%,#b7ff48 12.25%,#97ff68 12.75%,#78ff87 13.25%,#87ff78 13.75%,#c7ff38 14.25%,#f7ff08 14.75%,#f7ff08 15.25%,#c7ff38 15.75%,#a7ff58 16.25%,#a7ff58 16.75%,#e7ff18 17.25%,#c7ff38 17.75%,#b7ff48 18.25%,#97ff68 18.75%,#a7ff58 19.25%,#b7ff48 19.75%,#a7ff58 20.25%,#87ff78 20.75%,#a7ff58 21.25%,#c7ff38 21.75%,#a7ff58 22.25%,#b7ff48 22.75%,#a7ff58 23.25%,#97ff68 23.75%,#87ff78 24.25%,#a7ff58 24.75%,#78ff87 25.25%,#97ff68 25.75%,#97ff68 26.25%,#e7ff18 26.75%,#d7ff28 27.25%,#ffe700 27.75%,#fff700 28.25%,#f7ff08 28.75%,#fff700 29.25%,#f7ff08 29.75%,#ffe700 30.25%,#f7ff08 30.75%,#f7ff08 31.25%,#d7ff28 31.75%,#fff700 32.25%,#fff700 33.75%,#f7ff08 34.25%,#d7ff28 34.75%,#c7ff38 35.25%,#c7ff38 35.75%,#fff700 36.25%,#e7ff18 36.75%,#f7ff08 37.25%,#ffe700 37.75%,#ffe700 38.25%,#f7ff08 38.75%,#e7ff18 39.25%,#ffd700 39.75%,#ffb700 40.25%,#ffc700 40.75%,#ffb700 41.25%,#ff8700 41.75%,#ff7800 42.25%,#ff5800 42.75%,#ffb700 43.25%,#ff9700 43.75%,#ffd700 44.25%,#ffa700 44.75%,#ffa700 45.25%,#ffe700 45.75%,#e7ff18 46.25%,#d7ff28 46.75%,#f7ff08 47.25%,#e7ff18 47.75%,#c7ff38 48.25%,#c7ff38 49.25%,#f7ff08 49.75%,#f7ff08 50.25%,#ffe700 50.75%,#ffd700 51.25%,#ffb700 51.75%,#ffa700 52.25%,#ff9700 52.75%,#ffc700 53.25%,#ffc700 54.25%,#ff7800 54.75%,#ff5800 55.25%,#ff7800 55.75%,#ff6800 56.25%,#ff7800 56.75%,#ff9700 57.25%,#ff9700 57.75%,#ff8700 58.25%,#ff8700 58.75%,#ff7800 59.25%,#ff9700 59.75%,#ffa700 60.25%,#ffc700 60.75%,#ffa700 61.25%,#ff9700 61.75%,#ffb700 62.25%,#ffa700 62.75%,#ffb700 63.25%,#ffd700 63.75%,#ffa700 64.25%,#ffc700 64.75%,#ffb700 65.25%,#ffb700 65.75%,#ffd700 66.25%,#ffd700 66.75%,#ff8700 67.25%,#ff7800 67.75%,#ffa700 68.25%,#ff9700 68.75%,#ff7800 69.25%,#ffa700 69.75%,#ff7800 70.25%,#ff7800 70.75%,#ff9700 71.25%,#ff7800 71.75%,#ff7800 73.75%,#ff6800 74.25%,#ff9700 74.75%,#ff6800 75.25%,#ff7800 75.75%,#ff8700 76.25%,#ff9700 76.75%,#ff6800 77.25%,#ff7800 77.75%,#ff5800 78.25%,#ff3800 78.75%,#ff6800 79.25%,#ff5800 79.75%,#ff4800 80.25%,#ff5800 80.75%,#ff7800 81.25%,#ff5800 81.75%,#ff9700 82.25%,#ff6800 82.75%,#ff7800 83.25%,#ff6800 83.75%,#ff3800 84.25%,#ff4800 84.75%,#ff3800 85.25%,#ff3800 85.75%,#ff7800 86.25%,#ffa700 86.75%,#ffa700 87.25%,#ff9700 87.75%,#ffa700 88.25%,#ff9700 88.75%,#ff8700 89.25%,#ff9700 89.75%,#ffa700 90.25%,#ff9700 90.75%,#ff7800 91.25%,#ff7800 91.75%,#ffb700 92.25%,#ff9700 92.75%,#ff8700 93.25%,#ffb700 93.75%,#ffb700 94.25%,#ff9700 94.75%,#ff9700 95.25%,#ff8700 95.75%,#ff6800 96.25%,#ff7800 96.75%,#ff7800 97.25%,#ffa700 97.75%,#ff9700 98.25%,#ff9700 98.75%,#ff8700 99.25%,#ff9700 99.75%)"></div>
<div class="r" style="top:441.78px;height:37.12px;background:linear-gradient(90deg,#0097ff 0.25%,#00b7ff 0.75%,#00d7ff 1.25%,#00d7ff 1.75%,#00b7ff 2.25%,#00e7ff 2.75%,#00f7ff 3.25%,#00e7ff 3.75%,#00f7ff 4.25%,#00f7ff 4.75%,#28ffd7 5.25%,#08fff7 5.75%,#48ffb7 6.25%,#28ffd7 6.75%,#28ffd7 7.25%,#58ffa7 7.75%,#78ff87 8.25%,#78ff87 8.75%,#68ff97 9.25%,#78ff87 9.75%,#a7ff58 10.25%,#b7ff48 10.75%,#f7ff08 11.25%,#ffe700 11.75%,#ffe700 12.25%,#fff700 12.75%,#e7ff18 13.25%,#e7ff18 13.75%,#fff700 14.25%,#ffc700 14.75%,#ffb700 15.25%,#ffe700 15.75%,#e7ff18 16.25%,#e7ff18 16.75%,#ffd700 17.25%,#fff700 17.75%,#f7ff08 18.25%,#e7ff18 18.75%,#e7ff18 19.25%,#fff700 19.75%,#e7ff18 20.25%,#c7ff38 20.75%,#e7ff18 21.25%,#fff700 21.75%,#e7ff18 22.25%,#f7ff08 22.75%,#e7ff18 23.25%,#d7ff28 23.75%,#c7ff38 24.25%,#e7ff18 24.75%,#c7ff38 25.25%,#d7ff28 25.75%,#d7ff28 26.25%,#ffd700 26.75%,#ffe700 27.25%,#ffa700 27.75%,#ffc700 28.25%,#ffd700 28.75%,#ffb700 29.25%,#ffc700 29.75%,#ff9700 30.25%,#ffb700 30.75%,#ffb700 31.25%,#ffd700 31.75%,#ffa700 32.25%,#ffa700 32.75%,#ff9700 33.25%,#ff9700 33.75%,#ffb700 34.25%,#ffc700 34.75%,#ffe700 35.25%,#ffe700 35.75%,#ffb700 36.25%,#ffd700 36.75%,#ffc700 37.25%,#ffa700 37.75%,#ffa700 38.25%,#ffc700 38.75%,#ffc700 39.25%,#ffa700 39.75%,#ff8700 40.25%,#ff9700 40.75%,#ff8700 41.25%,#ff4800 41.75%,#ff3800 42.25%,#ff1800 42.75%,#ff6800 43.25%,#ff5800 43.75%,#ffa700 44.25%,#ff7800 44.75%,#ff7800 45.25%,#ffb700 45.75%,#ffb700 46.25%,#ffc700 46.75%,#ffa700 47.25%,#ffb700 47.75%,#ffc700 48.25%,#ffc700 48.75%,#ffd700 49.25%,#ffa700 49.75%,#ffb700 50.25%,#ffa700 50.75%,#ff8700 51.25%,#ff8700 51.75%,#ff7800 52.25%,#ff6800 52.75%,#ffa700 53.25%,#ffa700 53.75%,#ff9700 54.25%,#ff4800 54.75%,#ff2800 55.25%,#ff4800 55.75%,#ff3800 56.25%,#ff4800 56.75%,#ff6800 57.25%,#ff6800 57.75%,#ff4800 58.25%,#ff5800 58.75%,#ff4800 59.25%,#ff5800 59.75%,#ff6800 60.25%,#ff8700 60.75%,#ff5800 61.25%,#ff5800 61.75%,#ff6800 62.25%,#ff6800 62.75%,#ff7800 63.25%,#ff9700 63.75%,#ff7800 64.25%,#ff9700 64.75%,#ff8700 65.25%,#ff8700 65.75%,#ffa700 66.25%,#ff9700 66.75%,#ff5800 67.25%,#ff4800 67.75%,#ff7800 68.25%,#ff6800 68.75%,#ff4800 69.25%,#ff7800 69.75%,#ff4800 70.25%,#ff3800 70.75%,#ff6800 71.25%,#ff4800 71.75%,#ff4800 73.75%,#ff3800 74.25%,#ff6800 74.75%,#ff3800 75.25%,#ff4800 75.75%,#ff5800 76.25%,#ff6800 76.75%,#ff2800 77.25%,#ff4800 77.75%,#ff2800 78.25%,#ff0800 78.75%,#ff3800 79.25%,#ff1800 79.75%,#ff1800 80.25%,#ff2800 80.75%,#ff4800 81.25%,#ff2800 81.75%,#ff6800 82.25%,#ff3800 82.75%,#ff3800 83.75%,#ff0800 84.25%,#ff1800 84.75%,#f70000 85.25%,#f70000 85.75%,#ff4800 86.25%,#ff7800 86.75%,#ff7800 87.25%,#ff6800 87.75%,#ff7800 88.25%,#ff6800 88.75%,#ff5800 89.25%,#ff6800 89.75%,#ff7800 90.25%,#ff6800 90.75%,#ff4800 91.25%,#ff3800 91.75%,#ff7800 92.25%,#ff6800 92.75%,#ff5800 93.25%,#ff8700 93.75%,#ff8700 94.25%,#ff5800 94.75%,#ff6800 95.25%,#ff6800 95.75%,#ff4800 96.25%,#ff5800 96.75%,#ff5800 97.25%,#ff8700 97.75%,#ff8700 98.25%,#ff7800 98.75%,#ff7800 99.75%)"></div>
<div class="ln" style="left:10.4px;top:0.0px;width:2.6px;height:36.8px;background:#7fe8a0"></div>
<div class="ln" style="left:10.4px;top:36.8px;width:2.6px;height:36.8px;background:#c0f040"></div>
<div class="ln" style="left:10.0px;top:73.6px;width:2.4px;height:73.6px;background:#f0d800"></div>
<div class="ln" style="left:11.0px;top:147.3px;width:2.4px;height:73.6px;background:#f5d800"></div>
<div class="ln" style="left:16.1px;top:405.0px;width:1.6px;height:73.6px;background:#c85a40"></div>
<div class="bd"></div>
</div>
<div class="yl" style="left:826.7px;top:593.9px">13LEU</div>
<div class="yl" style="left:826.7px;top:630.7px">12ILE</div>
<div class="yl" style="left:826.7px;top:667.5px">11ARG</div>
<div class="yl" style="left:826.7px;top:704.4px">10GLY</div>
<div class="yl" style="left:826.7px;top:741.2px">9LEU</div>
<div class="yl" style="left:826.7px;top:778.0px">8PHE</div>
<div class="yl" style="left:826.7px;top:814.8px">7LYS</div>
<div class="yl" style="left:826.7px;top:851.6px">6SER</div>
<div class="yl" style="left:826.7px;top:888.4px">5PHE</div>
<div class="yl" style="left:826.7px;top:925.2px">4TRP</div>
<div class="yl" style="left:826.7px;top:962.1px">3GLN</div>
<div class="yl" style="left:826.7px;top:998.9px">2VAL</div>
<div class="yl" style="left:826.7px;top:1035.7px">1PHE</div>
<div class="xl" style="left:910.5px;top:1073.5px">0</div>
<div class="xl" style="left:962.5px;top:1073.5px">10</div>
<div class="xl" style="left:1014.5px;top:1073.5px">20</div>
<div class="xl" style="left:1066.6px;top:1073.5px">30</div>
<div class="xl" style="left:1118.6px;top:1073.5px">40</div>
<div class="xl" style="left:1170.6px;top:1073.5px">50</div>
<div class="xl" style="left:1222.6px;top:1073.5px">60</div>
<div class="xl" style="left:1274.6px;top:1073.5px">70</div>
<div class="xl" style="left:1326.7px;top:1073.5px">80</div>
<div class="xl" style="left:1378.7px;top:1073.5px">90</div>
<div class="xl" style="left:1430.7px;top:1073.5px">100</div>
<div class="xt" style="left:1138.1px;top:1107.5px">Time (ns)</div>
<div class="rt rs" style="left:843.2px;top:826.7px"><span>Residue</span></div>
<div class="cb" style="left:1473.2px;top:585.9px;width:26.0px;height:478.6px"><div class="cg"></div>
<i style="top:79.3px;left:1px"></i><i style="top:79.3px;right:1px"></i>
<i style="top:159.0px;left:1px"></i><i style="top:159.0px;right:1px"></i>
<i style="top:238.8px;left:1px"></i><i style="top:238.8px;right:1px"></i>
<i style="top:318.6px;left:1px"></i><i style="top:318.6px;right:1px"></i>
<i style="top:398.3px;left:1px"></i><i style="top:398.3px;right:1px"></i>
<div class="bd"></div></div>
<div class="cl" style="left:1516.1px;top:572.4px">1</div>
<div class="cl" style="left:1516.1px;top:652.0px">0.5</div>
<div class="cl" style="left:1516.1px;top:731.6px">0</div>
<div class="cl" style="left:1509.8px;top:811.1px">-0.5</div>
<div class="cl" style="left:1509.8px;top:890.7px">-1</div>
<div class="cl" style="left:1509.8px;top:970.3px">-1.5</div>
<div class="cl" style="left:1509.8px;top:1049.9px">-2</div>
<div class="rt" style="left:1562.3px;top:826.9px"><span>Z Position (nm)</span></div>
<div class="lt" style="left:0.7px;top:220.5px;font-size:60.3px;transform:scaleX(0.861)">A</div>
<div class="lt" style="left:1608.0px;top:222.2px;font-size:58.6px;transform:scaleX(0.851)">B</div>
<div class="lt" style="left:2.0px;top:783.9px;font-size:61.0px;transform:scaleX(0.811)">C</div>
<div class="lt" style="left:1606.2px;top:784.9px;font-size:60.6px;transform:scaleX(0.910)">D</div>
</body></html>
